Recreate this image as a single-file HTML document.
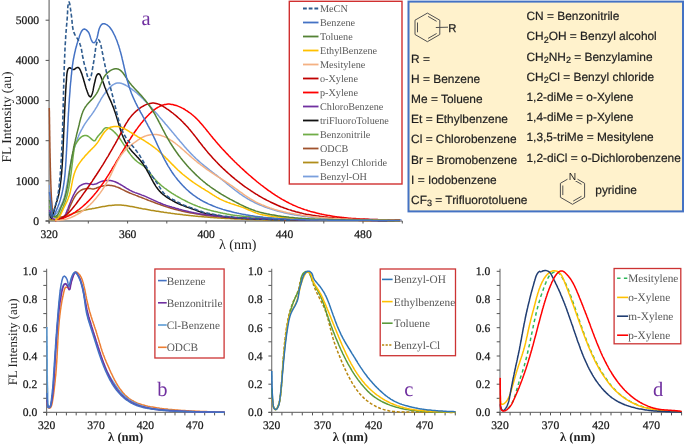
<!DOCTYPE html>
<html><head><meta charset="utf-8"><title>FL spectra</title>
<style>html,body{margin:0;padding:0;background:#fff;width:685px;height:445px;overflow:hidden;font-family:"Liberation Serif",serif}svg{display:block;filter:blur(0.3px)}text{text-rendering:geometricPrecision}</style>
</head><body>
<svg width="685" height="445" viewBox="0 0 685 445"><line x1="49.1" y1="0" x2="49.1" y2="223.5" stroke="#7a7a7a" stroke-width="1.3"/><line x1="45.6" y1="221.0" x2="402.3" y2="221.0" stroke="#7a7a7a" stroke-width="1.3"/><line x1="45.6" y1="221.0" x2="49.1" y2="221.0" stroke="#555" stroke-width="1"/><text x="39" y="224.8" text-anchor="end" font-size="11.6" fill="#1a1a1a" stroke="#1a1a1a" stroke-width="0.25" font-family="Liberation Serif, serif">0</text><line x1="45.6" y1="180.8" x2="49.1" y2="180.8" stroke="#555" stroke-width="1"/><text x="39" y="184.7" text-anchor="end" font-size="11.6" fill="#1a1a1a" stroke="#1a1a1a" stroke-width="0.25" font-family="Liberation Serif, serif">1000</text><line x1="45.6" y1="140.7" x2="49.1" y2="140.7" stroke="#555" stroke-width="1"/><text x="39" y="144.5" text-anchor="end" font-size="11.6" fill="#1a1a1a" stroke="#1a1a1a" stroke-width="0.25" font-family="Liberation Serif, serif">2000</text><line x1="45.6" y1="100.6" x2="49.1" y2="100.6" stroke="#555" stroke-width="1"/><text x="39" y="104.4" text-anchor="end" font-size="11.6" fill="#1a1a1a" stroke="#1a1a1a" stroke-width="0.25" font-family="Liberation Serif, serif">3000</text><line x1="45.6" y1="60.4" x2="49.1" y2="60.4" stroke="#555" stroke-width="1"/><text x="39" y="64.2" text-anchor="end" font-size="11.6" fill="#1a1a1a" stroke="#1a1a1a" stroke-width="0.25" font-family="Liberation Serif, serif">4000</text><line x1="45.6" y1="20.2" x2="49.1" y2="20.2" stroke="#555" stroke-width="1"/><text x="39" y="24.1" text-anchor="end" font-size="11.6" fill="#1a1a1a" stroke="#1a1a1a" stroke-width="0.25" font-family="Liberation Serif, serif">5000</text><line x1="49.1" y1="221.0" x2="49.1" y2="223.5" stroke="#555" stroke-width="1"/><line x1="88.3" y1="221.0" x2="88.3" y2="223.5" stroke="#555" stroke-width="1"/><line x1="127.6" y1="221.0" x2="127.6" y2="223.5" stroke="#555" stroke-width="1"/><line x1="166.8" y1="221.0" x2="166.8" y2="223.5" stroke="#555" stroke-width="1"/><line x1="206.1" y1="221.0" x2="206.1" y2="223.5" stroke="#555" stroke-width="1"/><line x1="245.3" y1="221.0" x2="245.3" y2="223.5" stroke="#555" stroke-width="1"/><line x1="284.5" y1="221.0" x2="284.5" y2="223.5" stroke="#555" stroke-width="1"/><line x1="323.8" y1="221.0" x2="323.8" y2="223.5" stroke="#555" stroke-width="1"/><line x1="363.0" y1="221.0" x2="363.0" y2="223.5" stroke="#555" stroke-width="1"/><line x1="402.3" y1="221.0" x2="402.3" y2="223.5" stroke="#555" stroke-width="1"/><text x="49.1" y="238" text-anchor="middle" font-size="11.6" fill="#1a1a1a" stroke="#1a1a1a" stroke-width="0.25" font-family="Liberation Serif, serif">320</text><text x="127.6" y="238" text-anchor="middle" font-size="11.6" fill="#1a1a1a" stroke="#1a1a1a" stroke-width="0.25" font-family="Liberation Serif, serif">360</text><text x="206.1" y="238" text-anchor="middle" font-size="11.6" fill="#1a1a1a" stroke="#1a1a1a" stroke-width="0.25" font-family="Liberation Serif, serif">400</text><text x="284.5" y="238" text-anchor="middle" font-size="11.6" fill="#1a1a1a" stroke="#1a1a1a" stroke-width="0.25" font-family="Liberation Serif, serif">440</text><text x="363.0" y="238" text-anchor="middle" font-size="11.6" fill="#1a1a1a" stroke="#1a1a1a" stroke-width="0.25" font-family="Liberation Serif, serif">480</text><text x="237.8" y="249" text-anchor="middle" font-size="14" fill="#222" font-family="Liberation Serif, serif">&#955; (nm)</text><text transform="translate(10.7,117) rotate(-90)" text-anchor="middle" font-size="13.5" fill="#222" font-family="Liberation Serif, serif">FL Intensity (au)</text><text x="146" y="24.7" text-anchor="middle" font-size="20.5" fill="#7030A0" font-family="Liberation Serif, serif">a</text><path d="M49.6 184.9 49.6 186.1 49.7 187.3 49.9 188.5 50.0 189.7 50.1 190.9 50.3 192.1 50.5 193.3 50.6 194.5 50.8 195.7 51.0 196.9 51.1 198.1 51.3 199.2 51.4 200.4 51.5 201.6 51.6 202.8 51.6 204.0 51.7 205.2 51.8 206.4 51.9 207.6 52.1 208.8 52.2 210.0 52.5 211.2 52.8 212.4 53.3 213.5 54.2 214.3 55.3 214.4 56.3 213.7 57.1 212.8 57.8 211.8 58.4 210.8 59.0 209.7 59.5 208.6 60.0 207.6 60.6 206.5 61.1 205.4 61.6 204.3 62.1 203.2 62.6 202.1 63.0 201.0 63.4 199.8 63.8 198.7 64.2 197.5 64.5 196.4 64.8 195.2 65.1 194.1 65.4 192.9 65.6 191.7 65.9 190.5 66.1 189.4 66.3 188.2 66.5 187.0 66.8 185.8 67.0 184.6 67.2 183.4 67.4 182.2 67.6 181.1 67.8 179.9 68.0 178.7 68.2 177.5 68.4 176.3 68.6 175.1 68.8 173.9 69.0 172.7 69.2 171.6 69.4 170.4 69.6 169.2 69.8 168.0 70.0 166.8 70.3 165.6 70.5 164.5 70.7 163.3 71.0 162.1 71.2 160.9 71.4 159.7 71.7 158.6 72.0 157.4 72.2 156.2 72.5 155.0 72.8 153.9 73.1 152.7 73.4 151.5 73.7 150.4 74.0 149.2 74.3 148.1 74.7 146.9 75.0 145.8 75.4 144.6 75.8 143.5 76.1 142.3 76.5 141.2 77.0 140.1 77.4 138.9 77.8 137.8 78.3 136.7 78.7 135.6 79.2 134.5 79.7 133.4 80.2 132.3 80.8 131.2 81.3 130.1 81.9 129.1 82.5 128.0 83.1 127.0 83.7 125.9 84.3 124.9 84.9 123.9 85.6 122.9 86.3 121.9 87.0 120.9 87.7 119.9 88.4 119.0 89.1 118.0 89.8 117.0 90.5 116.1 91.3 115.1 92.0 114.1 92.7 113.1 93.3 112.2 94.0 111.2 94.7 110.1 95.3 109.1 95.9 108.1 96.6 107.1 97.2 106.0 97.8 105.0 98.3 103.9 98.9 102.9 99.5 101.8 100.1 100.8 100.7 99.7 101.3 98.7 101.9 97.7 102.6 96.6 103.2 95.6 103.9 94.6 104.6 93.7 105.3 92.7 106.1 91.7 106.8 90.8 107.6 89.9 108.4 89.0 109.2 88.1 110.0 87.2 110.9 86.4 111.8 85.6 112.8 84.9 113.8 84.3 114.9 83.7 116.0 83.3 117.2 83.1 118.4 83.0 119.6 83.1 120.8 83.3 122.0 83.6 123.1 84.0 124.2 84.5 125.3 85.0 126.3 85.6 127.4 86.2 128.4 86.8 129.4 87.5 130.4 88.2 131.4 88.9 132.4 89.6 133.3 90.3 134.3 91.0 135.2 91.8 136.2 92.5 137.1 93.3 138.0 94.1 138.9 94.9 139.8 95.7 140.7 96.5 141.5 97.4 142.4 98.2 143.3 99.0 144.1 99.9 144.9 100.8 145.8 101.6 146.6 102.5 147.4 103.4 148.3 104.3 149.1 105.1 149.9 106.0 150.7 106.9 151.5 107.8 152.3 108.7 153.1 109.6 153.9 110.5 154.7 111.4 155.5 112.3 156.3 113.2 157.1 114.1 157.9 115.0 158.7 115.9 159.4 116.9 160.2 117.8 161.0 118.7 161.8 119.6 162.6 120.5 163.4 121.4 164.2 122.3 164.9 123.2 165.7 124.2 166.5 125.1 167.3 126.0 168.1 126.9 168.8 127.8 169.6 128.7 170.4 129.7 171.2 130.6 171.9 131.5 172.7 132.4 173.5 133.4 174.3 134.3 175.0 135.2 175.8 136.1 176.6 137.1 177.3 138.0 178.1 138.9 178.9 139.8 179.6 140.8 180.4 141.7 181.2 142.6 182.0 143.5 182.8 144.4 183.5 145.3 184.3 146.3 185.1 147.2 185.9 148.1 186.7 149.0 187.5 149.9 188.3 150.7 189.1 151.6 190.0 152.5 190.8 153.4 191.6 154.2 192.5 155.1 193.3 156.0 194.2 156.8 195.0 157.6 195.9 158.5 196.8 159.3 197.7 160.1 198.6 160.9 199.5 161.7 200.4 162.5 201.3 163.3 202.2 164.0 203.2 164.8 204.1 165.6 205.0 166.3 206.0 167.1 206.9 167.8 207.9 168.6 208.8 169.3 209.7 170.1 210.7 170.8 211.6 171.5 212.6 172.3 213.6 173.0 214.5 173.8 215.5 174.5 216.4 175.2 217.4 176.0 218.3 176.7 219.2 177.5 220.2 178.2 221.1 179.0 222.1 179.7 223.0 180.5 223.9 181.2 224.9 182.0 225.8 182.7 226.7 183.5 227.7 184.3 228.6 185.0 229.5 185.8 230.5 186.5 231.4 187.3 232.4 188.0 233.3 188.8 234.3 189.5 235.2 190.3 236.2 191.0 237.1 191.7 238.1 192.4 239.1 193.1 240.0 193.8 241.0 194.5 242.0 195.2 243.0 195.9 244.0 196.5 245.0 197.2 246.1 197.8 247.1 198.5 248.1 199.1 249.2 199.7 250.2 200.3 251.3 200.8 252.4 201.4 253.4 201.9 254.5 202.5 255.6 203.0 256.7 203.5 257.8 204.0 258.9 204.5 260.0 205.0 261.1 205.4 262.2 205.9 263.3 206.3 264.4 206.8 265.6 207.2 266.7 207.6 267.8 208.0 269.0 208.4 270.1 208.8 271.3 209.1 272.4 209.5 273.6 209.9 274.7 210.2 275.9 210.5 277.0 210.9 278.2 211.2 279.3 211.5 280.5 211.8 281.7 212.1 282.8 212.4 284.0 212.7 285.2 212.9 286.4 213.2 287.5 213.5 288.7 213.7 289.9 214.0 291.1 214.2 292.3 214.4 293.4 214.6 294.6 214.9 295.8 215.1 297.0 215.3 298.2 215.5 299.4 215.6 300.6 215.8 301.8 216.0 302.9 216.2 304.1 216.3 305.3 216.5 306.5 216.6 307.7 216.8 308.9 216.9 310.1 217.0 311.3 217.2 312.5 217.3 313.7 217.4 314.9 217.5 316.1 217.6 317.3 217.7 318.5 217.8 319.7 217.9 320.9 218.0 322.1 218.1 323.3 218.2 324.5 218.3 325.7 218.4 326.9 218.4 328.1 218.5 329.3 218.6 330.5 218.6 331.7 218.7 332.9 218.8 334.1 218.8 335.3 218.9 336.5 218.9 337.7 219.0 338.9 219.0 340.1 219.1 341.3 219.1 342.5 219.1 343.7 219.2 344.9 219.2 346.1 219.2 347.4 219.3 348.6 219.3 349.8 219.3 351.0 219.4 352.2 219.4 353.4 219.4 354.6 219.4 355.8 219.4 357.0 219.5 358.2 219.5 359.4 219.5 360.6 219.5 361.8 219.5 363.0 219.5 364.2 219.6 365.4 219.6 366.6 219.6 367.8 219.6 369.0 219.6 370.2 219.6 371.4 219.6 372.6 219.6 373.8 219.6 375.0 219.6 376.2 219.6 377.4 219.6 378.6 219.7 379.8 219.7 381.1 219.7 382.3 219.7 383.5 219.7 384.7 219.7 385.9 219.7 387.1 219.7 388.3 219.7 389.5 219.7 390.7 219.7 391.9 219.7 393.1 219.7 394.3 219.7 395.5 219.8 396.7 219.8 397.9 219.8 399.1 219.8 400.3 219.8 401.5 219.8" fill="none" stroke="#7A9FDD" stroke-width="1.5" stroke-linejoin="round"/><path d="M49.5 219.4 50.7 219.6 51.9 219.8 53.1 219.8 54.3 219.8 55.5 219.7 56.7 219.5 57.9 219.2 59.0 219.0 60.2 218.6 61.3 218.2 62.5 217.8 63.6 217.4 64.7 216.9 65.8 216.4 66.9 216.0 68.0 215.5 69.1 215.0 70.3 214.5 71.4 214.1 72.5 213.6 73.6 213.2 74.8 212.8 75.9 212.5 77.1 212.1 78.2 211.8 79.4 211.5 80.6 211.2 81.7 210.9 82.9 210.6 84.1 210.3 85.3 210.1 86.5 209.8 87.6 209.6 88.8 209.3 90.0 209.1 91.2 208.9 92.4 208.6 93.6 208.4 94.7 208.2 95.9 207.9 97.1 207.7 98.3 207.5 99.5 207.2 100.7 207.0 101.8 206.8 103.0 206.6 104.2 206.4 105.4 206.2 106.6 206.0 107.8 205.8 109.0 205.6 110.2 205.5 111.4 205.4 112.6 205.2 113.8 205.2 115.0 205.1 116.2 205.0 117.4 205.0 118.6 205.0 119.8 205.1 121.0 205.1 122.2 205.2 123.4 205.3 124.6 205.5 125.8 205.6 127.0 205.8 128.2 206.0 129.4 206.2 130.6 206.4 131.8 206.6 133.0 206.8 134.2 207.0 135.3 207.3 136.5 207.5 137.7 207.7 138.9 208.0 140.1 208.2 141.3 208.4 142.4 208.7 143.6 208.9 144.8 209.1 146.0 209.3 147.2 209.5 148.4 209.7 149.6 209.9 150.7 210.2 151.9 210.4 153.1 210.6 154.3 210.8 155.5 211.0 156.7 211.2 157.9 211.3 159.1 211.5 160.3 211.7 161.5 211.9 162.7 212.1 163.9 212.3 165.0 212.4 166.2 212.6 167.4 212.8 168.6 212.9 169.8 213.1 171.0 213.3 172.2 213.4 173.4 213.6 174.6 213.7 175.8 213.9 177.0 214.1 178.2 214.2 179.4 214.3 180.6 214.5 181.8 214.6 183.0 214.8 184.2 214.9 185.4 215.0 186.6 215.2 187.8 215.3 189.0 215.4 190.2 215.6 191.4 215.7 192.6 215.8 193.8 215.9 195.0 216.1 196.2 216.2 197.4 216.3 198.6 216.4 199.8 216.5 201.0 216.6 202.2 216.7 203.4 216.8 204.6 216.9 205.8 217.0 207.0 217.1 208.2 217.2 209.4 217.3 210.6 217.4 211.8 217.5 213.0 217.6 214.2 217.7 215.4 217.8 216.6 217.8 217.8 217.9 219.0 218.0 220.2 218.1 221.4 218.2 222.7 218.2 223.9 218.3 225.1 218.4 226.3 218.4 227.5 218.5 228.7 218.6 229.9 218.6 231.1 218.7 232.3 218.8 233.5 218.8 234.7 218.9 235.9 218.9 237.1 219.0 238.3 219.0 239.5 219.1 240.7 219.1 241.9 219.2 243.1 219.2 244.3 219.3 245.5 219.3 246.8 219.4 248.0 219.4 249.2 219.5 250.4 219.5 251.6 219.5 252.8 219.6 254.0 219.6 255.2 219.7 256.4 219.7 257.6 219.7 258.8 219.8 260.0 219.8 261.2 219.8 262.4 219.8 263.6 219.9 264.8 219.9 266.1 219.9 267.3 219.9 268.5 220.0 269.7 220.0 270.9 220.0 272.1 220.0 273.3 220.1 274.5 220.1 275.7 220.1 276.9 220.1 278.1 220.1 279.3 220.1 280.5 220.2 281.7 220.2 282.9 220.2 284.1 220.2 285.4 220.2 286.6 220.2 287.8 220.2 289.0 220.2 290.2 220.2 291.4 220.3 292.6 220.3 293.8 220.3 295.0 220.3 296.2 220.3 297.4 220.3 298.6 220.3 299.8 220.3 301.0 220.3 302.2 220.3 303.5 220.3 304.7 220.3 305.9 220.3 307.1 220.3 308.3 220.3 309.5 220.3 310.7 220.3 311.9 220.3 313.1 220.3 314.3 220.3 315.5 220.3 316.7 220.3 317.9 220.3 319.1 220.3 320.3 220.3 321.5 220.3 322.8 220.3 324.0 220.3 325.2 220.3 326.4 220.3 327.6 220.3 328.8 220.3 330.0 220.3 331.2 220.3 332.4 220.3 333.6 220.3 334.8 220.3 336.0 220.3 337.2 220.3 338.4 220.3 339.6 220.3 340.9 220.3 342.1 220.3 343.3 220.3 344.5 220.3 345.7 220.3 346.9 220.3 348.1 220.3 349.3 220.3 350.5 220.3 351.7 220.3 352.9 220.3 354.1 220.3 355.3 220.3 356.5 220.3 357.7 220.3 359.0 220.3 360.2 220.3 361.4 220.3 362.6 220.3 363.8 220.4 365.0 220.4 366.2 220.4 367.4 220.4 368.6 220.4 369.8 220.4 371.0 220.4 372.2 220.4 373.4 220.4 374.6 220.4 375.8 220.5 377.0 220.5 378.3 220.5 379.5 220.5 380.7 220.5 381.9 220.5 383.1 220.6 384.3 220.6 385.5 220.6 386.7 220.6 387.9 220.6 389.1 220.7 390.3 220.7 391.5 220.7 392.7 220.7 393.9 220.8 395.1 220.8 396.4 220.8 397.6 220.8 398.8 220.9 400.0 220.9" fill="none" stroke="#B08D1A" stroke-width="1.5" stroke-linejoin="round"/><path d="M49.3 108.0 49.3 109.2 49.3 110.4 49.4 111.6 49.4 112.8 49.4 114.0 49.4 115.2 49.4 116.4 49.5 117.6 49.5 118.8 49.5 120.0 49.5 121.2 49.5 122.4 49.5 123.6 49.6 124.9 49.6 126.1 49.6 127.3 49.6 128.5 49.6 129.7 49.7 130.9 49.7 132.1 49.7 133.3 49.7 134.5 49.7 135.7 49.8 136.9 49.8 138.1 49.8 139.3 49.8 140.5 49.8 141.7 49.9 142.9 49.9 144.1 49.9 145.3 49.9 146.5 49.9 147.7 50.0 148.9 50.0 150.1 50.0 151.3 50.0 152.5 50.1 153.7 50.1 155.0 50.1 156.2 50.1 157.4 50.2 158.6 50.2 159.8 50.2 161.0 50.2 162.2 50.3 163.4 50.3 164.6 50.3 165.8 50.3 167.0 50.4 168.2 50.4 169.4 50.4 170.6 50.5 171.8 50.5 173.0 50.5 174.2 50.6 175.4 50.6 176.6 50.6 177.8 50.7 179.0 50.7 180.2 50.8 181.4 50.8 182.6 50.8 183.8 50.9 185.0 50.9 186.2 51.0 187.5 51.0 188.7 51.1 189.9 51.1 191.1 51.2 192.3 51.2 193.5 51.3 194.7 51.3 195.9 51.4 197.1 51.5 198.3 51.5 199.5 51.6 200.7 51.7 201.9 51.8 203.1 51.9 204.3 52.0 205.5 52.1 206.7 52.2 207.9 52.4 209.1 52.6 210.3 52.7 211.5 52.9 212.6 53.2 213.8 53.6 215.0 54.1 216.0 54.9 216.9 56.0 217.4 57.2 217.5 58.4 217.4 59.6 217.2 60.8 217.0 61.9 216.8 63.1 216.5 64.2 216.1 65.3 215.5 66.2 214.7 66.9 213.7 67.4 212.6 67.9 211.5 68.4 210.4 68.8 209.3 69.2 208.2 69.7 207.1 70.2 206.0 70.7 204.9 71.2 203.8 71.7 202.7 72.2 201.6 72.7 200.5 73.3 199.4 73.8 198.4 74.4 197.3 75.1 196.3 75.7 195.3 76.5 194.3 77.2 193.4 78.1 192.5 79.0 191.7 79.9 191.0 80.9 190.3 82.0 189.8 83.1 189.3 84.3 189.0 85.4 188.7 86.6 188.5 87.8 188.5 89.0 188.5 90.2 188.6 91.4 188.8 92.6 188.9 93.8 188.9 95.0 188.6 96.1 188.2 97.2 187.7 98.4 187.3 99.5 186.9 100.7 186.6 101.8 186.3 103.0 186.0 104.2 185.8 105.4 185.6 106.6 185.4 107.8 185.3 109.0 185.3 110.2 185.4 111.4 185.5 112.6 185.7 113.7 185.9 114.9 186.3 116.0 186.7 117.2 187.1 118.3 187.5 119.4 188.0 120.5 188.5 121.5 189.1 122.6 189.6 123.7 190.1 124.8 190.7 125.9 191.2 127.0 191.7 128.1 192.2 129.2 192.7 130.3 193.2 131.4 193.6 132.5 194.1 133.6 194.5 134.7 194.9 135.9 195.4 137.0 195.8 138.1 196.2 139.2 196.7 140.4 197.1 141.5 197.5 142.6 198.0 143.7 198.4 144.8 198.9 146.0 199.3 147.1 199.7 148.2 200.2 149.3 200.6 150.5 201.0 151.6 201.5 152.7 201.9 153.8 202.3 155.0 202.8 156.1 203.2 157.2 203.6 158.3 204.0 159.5 204.4 160.6 204.8 161.7 205.2 162.9 205.6 164.0 206.0 165.2 206.4 166.3 206.8 167.5 207.1 168.6 207.5 169.8 207.8 170.9 208.2 172.1 208.5 173.2 208.8 174.4 209.2 175.6 209.5 176.7 209.8 177.9 210.1 179.1 210.4 180.2 210.6 181.4 210.9 182.6 211.2 183.7 211.5 184.9 211.7 186.1 212.0 187.3 212.2 188.5 212.4 189.6 212.7 190.8 212.9 192.0 213.1 193.2 213.3 194.4 213.6 195.6 213.8 196.8 214.0 197.9 214.1 199.1 214.3 200.3 214.5 201.5 214.7 202.7 214.9 203.9 215.0 205.1 215.2 206.3 215.4 207.5 215.5 208.7 215.7 209.9 215.8 211.1 215.9 212.3 216.1 213.5 216.2 214.7 216.3 215.9 216.5 217.1 216.6 218.3 216.7 219.5 216.8 220.7 216.9 221.9 217.0 223.0 217.1 224.2 217.2 225.4 217.3 226.7 217.4 227.9 217.5 229.1 217.6 230.3 217.7 231.5 217.8 232.7 217.9 233.9 218.0 235.1 218.0 236.3 218.1 237.5 218.2 238.7 218.3 239.9 218.3 241.1 218.4 242.3 218.5 243.5 218.5 244.7 218.6 245.9 218.6 247.1 218.7 248.3 218.7 249.5 218.8 250.7 218.8 251.9 218.9 253.1 218.9 254.3 219.0 255.5 219.0 256.7 219.1 257.9 219.1 259.1 219.2 260.3 219.2 261.5 219.2 262.7 219.3 263.9 219.3 265.1 219.3 266.3 219.4 267.5 219.4 268.7 219.4 269.9 219.4 271.2 219.5 272.4 219.5 273.6 219.5 274.8 219.6 276.0 219.6 277.2 219.6 278.4 219.6 279.6 219.6 280.8 219.7 282.0 219.7 283.2 219.7 284.4 219.7 285.6 219.7 286.8 219.8 288.0 219.8 289.2 219.8 290.4 219.8 291.6 219.8 292.8 219.8 294.0 219.9 295.2 219.9 296.4 219.9 297.6 219.9 298.8 219.9 300.1 219.9 301.3 219.9 302.5 220.0 303.7 220.0 304.9 220.0 306.1 220.0 307.3 220.0 308.5 220.0 309.7 220.0 310.9 220.0 312.1 220.1 313.3 220.1 314.5 220.1 315.7 220.1 316.9 220.1 318.1 220.1 319.3 220.1 320.5 220.1 321.7 220.1 322.9 220.1 324.1 220.2 325.3 220.2 326.5 220.2 327.7 220.2 329.0 220.2 330.2 220.2 331.4 220.2 332.6 220.2 333.8 220.2 335.0 220.2 336.2 220.2 337.4 220.2 338.6 220.2 339.8 220.3 341.0 220.3 342.2 220.3 343.4 220.3 344.6 220.3 345.8 220.3 347.0 220.3 348.2 220.3 349.4 220.3 350.6 220.3 351.8 220.3 353.0 220.3 354.2 220.3 355.4 220.3 356.6 220.3 357.9 220.3 359.1 220.4 360.3 220.4 361.5 220.4 362.7 220.4 363.9 220.4 365.1 220.4 366.3 220.4 367.5 220.4 368.7 220.4 369.9 220.4 371.1 220.4 372.3 220.4 373.5 220.4 374.7 220.4 375.9 220.4 377.1 220.5 378.3 220.5 379.5 220.5 380.7 220.5 381.9 220.5 383.1 220.5 384.3 220.5 385.5 220.5 386.8 220.5 388.0 220.5 389.2 220.5 390.4 220.5 391.6 220.5 392.8 220.6 394.0 220.6 395.2 220.6 396.4 220.6 397.6 220.6 398.8 220.6 400.0 220.6" fill="none" stroke="#A0522D" stroke-width="1.5" stroke-linejoin="round"/><path d="M49.5 205.9 49.8 207.1 50.2 208.2 50.7 209.4 51.1 210.5 51.5 211.6 51.9 212.8 52.2 213.9 52.5 215.1 53.0 216.2 53.8 217.1 54.9 217.2 56.1 216.9 57.3 216.6 58.4 216.2 59.4 215.5 60.0 214.4 60.5 213.3 60.9 212.2 61.3 211.1 61.8 210.0 62.3 208.9 62.8 207.8 63.3 206.7 63.7 205.6 64.2 204.4 64.6 203.3 65.0 202.2 65.4 201.0 65.8 199.9 66.1 198.7 66.4 197.6 66.8 196.4 67.1 195.3 67.4 194.1 67.7 192.9 67.9 191.8 68.2 190.6 68.4 189.4 68.7 188.2 68.9 187.0 69.1 185.9 69.3 184.7 69.5 183.5 69.7 182.3 69.9 181.1 70.1 179.9 70.3 178.7 70.5 177.5 70.6 176.3 70.8 175.2 71.0 174.0 71.1 172.8 71.3 171.6 71.4 170.4 71.6 169.2 71.7 168.0 71.9 166.8 72.0 165.6 72.2 164.4 72.3 163.2 72.5 162.0 72.6 160.8 72.7 159.6 72.9 158.4 73.0 157.2 73.2 156.0 73.3 154.8 73.5 153.6 73.6 152.5 73.8 151.3 73.9 150.1 74.1 148.9 74.3 147.7 74.6 146.5 75.0 145.4 75.5 144.3 76.2 143.3 76.8 142.3 77.5 141.2 78.2 140.3 78.9 139.3 79.7 138.4 80.6 137.6 81.5 136.8 82.5 136.2 83.6 135.7 84.8 135.4 86.0 135.5 87.1 135.8 88.2 136.3 89.2 137.0 90.1 137.8 91.0 138.6 91.9 139.4 92.8 140.2 93.8 140.8 94.9 140.7 95.7 139.8 96.3 138.7 96.9 137.7 97.6 136.7 98.3 135.8 99.1 134.9 99.9 134.0 100.8 133.1 101.6 132.2 102.3 131.3 103.0 130.3 103.7 129.3 104.5 128.4 105.6 127.8 106.8 127.7 108.0 127.9 109.1 128.3 110.2 128.8 111.2 129.4 112.2 130.1 113.1 130.9 114.0 131.7 114.9 132.6 115.7 133.4 116.5 134.3 117.3 135.2 118.1 136.2 118.8 137.1 119.5 138.1 120.2 139.1 120.9 140.1 121.6 141.1 122.2 142.1 122.9 143.1 123.5 144.1 124.2 145.1 124.8 146.1 125.5 147.1 126.1 148.2 126.8 149.2 127.4 150.2 128.1 151.2 128.8 152.2 129.5 153.2 130.2 154.1 130.9 155.1 131.6 156.0 132.4 157.0 133.2 157.9 134.0 158.7 134.9 159.6 135.8 160.4 136.7 161.2 137.6 162.0 138.6 162.7 139.6 163.4 140.6 164.0 141.6 164.7 142.6 165.3 143.6 166.0 144.5 166.8 145.4 167.6 146.2 168.5 147.0 169.4 147.8 170.3 148.5 171.3 149.2 172.2 150.0 173.2 150.7 174.1 151.4 175.1 152.2 176.0 152.9 177.0 153.7 177.9 154.5 178.8 155.3 179.7 156.1 180.6 157.0 181.4 157.8 182.3 158.7 183.1 159.6 183.9 160.5 184.7 161.4 185.5 162.3 186.3 163.3 187.0 164.2 187.8 165.2 188.5 166.2 189.2 167.1 189.9 168.1 190.6 169.1 191.3 170.1 192.0 171.1 192.6 172.1 193.3 173.1 193.9 174.2 194.6 175.2 195.2 176.2 195.8 177.3 196.4 178.3 197.0 179.4 197.6 180.4 198.2 181.5 198.8 182.5 199.3 183.6 199.9 184.7 200.4 185.7 201.0 186.8 201.5 187.9 202.1 189.0 202.6 190.1 203.1 191.2 203.6 192.3 204.1 193.4 204.6 194.5 205.0 195.6 205.5 196.7 205.9 197.8 206.4 199.0 206.8 200.1 207.2 201.2 207.6 202.4 208.0 203.5 208.4 204.7 208.7 205.8 209.1 207.0 209.4 208.1 209.8 209.3 210.1 210.4 210.4 211.6 210.7 212.8 211.0 214.0 211.3 215.1 211.5 216.3 211.8 217.5 212.1 218.6 212.4 219.8 212.6 221.0 212.9 222.2 213.1 223.4 213.4 224.5 213.6 225.7 213.8 226.9 214.1 228.1 214.3 229.3 214.5 230.5 214.7 231.6 214.9 232.8 215.1 234.0 215.2 235.2 215.4 236.4 215.5 237.6 215.7 238.8 215.8 240.0 216.0 241.2 216.1 242.4 216.2 243.6 216.3 244.8 216.4 246.0 216.5 247.2 216.6 248.4 216.7 249.6 216.8 250.8 216.9 252.0 217.0 253.2 217.0 254.4 217.1 255.6 217.2 256.8 217.3 258.0 217.3 259.2 217.4 260.4 217.5 261.6 217.6 262.8 217.6 264.0 217.7 265.2 217.8 266.4 217.9 267.6 217.9 268.8 218.0 270.0 218.1 271.2 218.2 272.4 218.2 273.6 218.3 274.8 218.4 276.0 218.4 277.2 218.5 278.4 218.6 279.6 218.6 280.8 218.7 282.0 218.8 283.2 218.8 284.4 218.9 285.6 218.9 286.8 219.0 288.1 219.1 289.3 219.1 290.5 219.2 291.7 219.2 292.9 219.2 294.1 219.3 295.3 219.3 296.5 219.4 297.7 219.4 298.9 219.4 300.1 219.5 301.3 219.5 302.5 219.5 303.7 219.6 304.9 219.6 306.1 219.6 307.3 219.6 308.5 219.7 309.7 219.7 310.9 219.7 312.1 219.7 313.3 219.7 314.5 219.8 315.7 219.8 316.9 219.8 318.1 219.8 319.3 219.8 320.5 219.8 321.8 219.8 323.0 219.8 324.2 219.9 325.4 219.9 326.6 219.9 327.8 219.9 329.0 219.9 330.2 219.9 331.4 219.9 332.6 219.9 333.8 219.9 335.0 219.9 336.2 219.9 337.4 219.9 338.6 219.9 339.8 220.0 341.0 220.0 342.2 220.0 343.4 220.0 344.6 220.0 345.8 220.0 347.0 220.0 348.2 220.0 349.4 220.0 350.6 220.0 351.8 220.0 353.1 220.1 354.3 220.1 355.5 220.1 356.7 220.1 357.9 220.1 359.1 220.1 360.3 220.1 361.5 220.1 362.7 220.2 363.9 220.2 365.1 220.2 366.3 220.2 367.5 220.2 368.7 220.2 369.9 220.2 371.1 220.2 372.3 220.3 373.5 220.3 374.7 220.3 375.9 220.3 377.1 220.3 378.3 220.3 379.5 220.3 380.7 220.3 381.9 220.3 383.1 220.4 384.4 220.4 385.6 220.4 386.8 220.4 388.0 220.4 389.2 220.4 390.4 220.4 391.6 220.4 392.8 220.4 394.0 220.4 395.2 220.5 396.4 220.5 397.6 220.5 398.8 220.5 400.0 220.5" fill="none" stroke="#70AD47" stroke-width="1.5" stroke-linejoin="round"/><path d="M49.5 214.0 50.0 215.1 50.4 216.3 50.8 217.4 51.3 218.5 52.0 218.2 52.4 217.1 52.7 215.9 53.0 214.8 53.3 213.6 53.7 212.4 54.0 211.3 54.3 210.1 54.6 208.9 54.9 207.8 55.2 206.6 55.5 205.5 55.9 204.3 56.2 203.2 56.6 202.0 57.0 200.9 57.3 199.7 57.7 198.6 58.0 197.4 58.3 196.2 58.6 195.1 58.9 193.9 59.1 192.7 59.3 191.5 59.5 190.3 59.7 189.2 59.9 188.0 60.1 186.8 60.2 185.6 60.4 184.4 60.5 183.2 60.7 182.0 60.8 180.8 61.0 179.6 61.1 178.4 61.2 177.2 61.3 176.0 61.4 174.8 61.6 173.6 61.7 172.4 61.8 171.2 61.8 170.0 61.9 168.8 62.0 167.6 62.1 166.4 62.2 165.2 62.3 164.0 62.3 162.8 62.4 161.6 62.5 160.4 62.6 159.2 62.6 158.0 62.7 156.8 62.7 155.6 62.8 154.4 62.9 153.2 62.9 152.0 63.0 150.8 63.0 149.6 63.1 148.4 63.1 147.2 63.2 146.0 63.2 144.8 63.3 143.6 63.3 142.4 63.4 141.2 63.4 140.0 63.5 138.8 63.5 137.6 63.6 136.4 63.6 135.1 63.7 133.9 63.7 132.7 63.8 131.5 63.8 130.3 63.9 129.1 63.9 127.9 64.0 126.7 64.0 125.5 64.1 124.3 64.1 123.1 64.2 121.9 64.2 120.7 64.3 119.5 64.3 118.3 64.4 117.1 64.5 115.9 64.5 114.7 64.6 113.5 64.6 112.3 64.7 111.1 64.7 109.9 64.8 108.7 64.8 107.5 64.9 106.3 65.0 105.1 65.0 103.9 65.1 102.7 65.1 101.5 65.2 100.3 65.3 99.1 65.3 97.9 65.4 96.7 65.5 95.5 65.5 94.3 65.6 93.1 65.7 91.8 65.7 90.6 65.8 89.4 65.9 88.2 66.0 87.0 66.0 85.8 66.1 84.6 66.2 83.4 66.3 82.2 66.4 81.0 66.5 79.8 66.5 78.6 66.6 77.4 66.7 76.2 66.8 75.0 66.9 73.8 67.1 72.6 67.3 71.5 67.6 70.3 68.0 69.2 68.7 68.1 69.7 67.7 70.8 68.2 71.8 68.9 72.8 69.5 74.0 69.5 75.0 68.9 75.9 68.1 77.0 67.6 78.1 67.5 79.1 68.1 79.8 69.1 80.3 70.2 80.8 71.3 81.2 72.4 81.7 73.6 82.1 74.7 82.4 75.8 82.8 77.0 83.2 78.2 83.5 79.3 83.8 80.5 84.1 81.6 84.5 82.8 84.8 83.9 85.1 85.1 85.5 86.3 85.8 87.4 86.2 88.5 86.6 89.7 87.0 90.8 87.4 92.0 87.8 93.1 88.2 94.2 88.7 95.3 89.4 96.3 90.4 96.9 91.2 96.1 91.7 95.0 92.1 93.9 92.5 92.7 92.8 91.6 93.1 90.4 93.3 89.2 93.5 88.0 93.7 86.8 94.0 85.6 94.2 84.5 94.5 83.3 94.8 82.1 95.1 81.0 95.3 79.8 95.6 78.6 95.9 77.4 96.3 76.3 96.8 75.2 97.5 74.2 98.5 73.7 99.6 74.2 100.2 75.2 100.7 76.3 101.2 77.4 101.6 78.5 102.1 79.6 102.5 80.7 103.0 81.9 103.4 83.0 103.8 84.1 104.2 85.2 104.6 86.4 105.0 87.5 105.5 88.6 105.9 89.8 106.3 90.9 106.8 92.0 107.2 93.1 107.7 94.2 108.1 95.3 108.6 96.4 109.1 97.5 109.6 98.6 110.1 99.7 110.6 100.8 111.1 101.9 111.6 103.0 112.0 104.1 112.5 105.3 112.9 106.4 113.4 107.5 113.8 108.6 114.2 109.8 114.6 110.9 115.0 112.0 115.4 113.2 115.8 114.3 116.1 115.5 116.5 116.6 116.8 117.8 117.2 118.9 117.5 120.1 117.9 121.2 118.2 122.4 118.6 123.5 118.9 124.7 119.3 125.8 119.6 127.0 120.0 128.1 120.3 129.3 120.7 130.4 121.1 131.6 121.5 132.7 121.9 133.9 122.3 135.0 122.8 136.1 123.2 137.2 123.7 138.3 124.2 139.4 124.7 140.5 125.2 141.6 125.8 142.6 126.4 143.7 127.0 144.7 127.7 145.7 128.3 146.7 129.1 147.7 129.8 148.7 130.6 149.6 131.3 150.5 132.1 151.4 132.9 152.3 133.8 153.2 134.6 154.1 135.4 155.0 136.2 155.8 137.0 156.7 137.9 157.6 138.7 158.5 139.5 159.4 140.2 160.3 141.0 161.2 141.7 162.2 142.5 163.2 143.2 164.1 143.8 165.1 144.5 166.1 145.1 167.2 145.8 168.2 146.4 169.2 147.0 170.3 147.5 171.3 148.1 172.4 148.7 173.4 149.3 174.5 149.8 175.6 150.4 176.6 151.0 177.7 151.5 178.8 152.1 179.8 152.7 180.9 153.2 181.9 153.8 183.0 154.5 184.0 155.1 185.0 155.7 186.1 156.4 187.1 157.1 188.0 157.8 189.0 158.6 189.9 159.3 190.9 160.2 191.8 161.0 192.6 161.9 193.5 162.8 194.3 163.7 195.0 164.7 195.7 165.6 196.4 166.6 197.1 167.7 197.8 168.7 198.4 169.7 199.0 170.7 199.6 171.8 200.2 172.8 200.8 173.9 201.4 175.0 202.0 176.0 202.5 177.1 203.0 178.2 203.6 179.3 204.1 180.4 204.5 181.5 205.0 182.6 205.4 183.8 205.9 184.9 206.3 186.0 206.7 187.1 207.1 188.3 207.5 189.4 207.9 190.5 208.3 191.7 208.7 192.8 209.1 194.0 209.5 195.1 209.9 196.2 210.3 197.3 210.8 198.5 211.2 199.6 211.6 200.7 212.0 201.9 212.4 203.0 212.8 204.2 213.1 205.3 213.4 206.5 213.7 207.7 213.9 208.9 214.1 210.1 214.3 211.3 214.4 212.5 214.6 213.7 214.8 214.8 215.0 216.0 215.2 217.2 215.4 218.4 215.6 219.6 215.9 220.7 216.1 221.9 216.4 223.1 216.6 224.3 216.8 225.5 216.9 226.7 217.1 227.9 217.2 229.1 217.3 230.3 217.4 231.5 217.5 232.7 217.6 233.9 217.7 235.1 217.7 236.3 217.8 237.5 217.9 238.7 218.0 239.9 218.0 241.1 218.1 242.3 218.2 243.5 218.2 244.7 218.3 245.9 218.4 247.1 218.4 248.3 218.5 249.5 218.6 250.7 218.6 251.9 218.7 253.1 218.7 254.3 218.8 255.5 218.9 256.7 218.9 257.9 218.9 259.1 219.0 260.3 219.0 261.5 219.1 262.7 219.1 264.0 219.2 265.2 219.2 266.4 219.2 267.6 219.3 268.8 219.3 270.0 219.3 271.2 219.4 272.4 219.4 273.6 219.4 274.8 219.5 276.0 219.5 277.2 219.5 278.4 219.5 279.6 219.5 280.8 219.6 282.0 219.6 283.2 219.6 284.4 219.6 285.6 219.6 286.8 219.7 288.0 219.7 289.2 219.7 290.4 219.7 291.6 219.7 292.8 219.7 294.0 219.7 295.3 219.7 296.5 219.8 297.7 219.8 298.9 219.8 300.1 219.8 301.3 219.8 302.5 219.8 303.7 219.8 304.9 219.8 306.1 219.8 307.3 219.8 308.5 219.8 309.7 219.8 310.9 219.8 312.1 219.8 313.3 219.9 314.5 219.9 315.7 219.9 316.9 219.9 318.1 219.9 319.3 219.9 320.5 219.9 321.7 219.9 322.9 219.9 324.1 219.9 325.4 219.9 326.6 219.9 327.8 219.9 329.0 219.9 330.2 219.9 331.4 219.9 332.6 220.0 333.8 220.0 335.0 220.0 336.2 220.0 337.4 220.0 338.6 220.0 339.8 220.0 341.0 220.0 342.2 220.0 343.4 220.0 344.6 220.1 345.8 220.1 347.0 220.1 348.2 220.1 349.4 220.1 350.6 220.1 351.8 220.1 353.0 220.1 354.2 220.1 355.5 220.2 356.7 220.2 357.9 220.2 359.1 220.2 360.3 220.2 361.5 220.2 362.7 220.2 363.9 220.2 365.1 220.2 366.3 220.3 367.5 220.3 368.7 220.3 369.9 220.3 371.1 220.3 372.3 220.3 373.5 220.3 374.7 220.3 375.9 220.3 377.1 220.3 378.3 220.4 379.5 220.4 380.7 220.4 381.9 220.4 383.1 220.4 384.3 220.4 385.6 220.4 386.8 220.4 388.0 220.4 389.2 220.4 390.4 220.4 391.6 220.4 392.8 220.4 394.0 220.4 395.2 220.5 396.4 220.5 397.6 220.5 398.8 220.5 400.0 220.5" fill="none" stroke="#111111" stroke-width="1.5" stroke-linejoin="round"/><path d="M49.4 210.1 50.0 211.2 50.4 212.3 50.7 213.5 51.0 214.6 51.3 215.8 51.7 216.9 52.3 218.0 53.1 218.8 54.3 219.2 55.5 219.2 56.7 219.2 57.9 219.2 59.1 219.1 60.3 218.9 61.5 218.6 62.5 218.1 63.5 217.3 64.3 216.4 64.9 215.4 65.5 214.3 66.0 213.3 66.5 212.1 66.9 211.0 67.4 209.9 67.9 208.8 68.3 207.7 68.7 206.6 69.2 205.4 69.6 204.3 70.0 203.2 70.5 202.1 70.9 200.9 71.3 199.8 71.8 198.7 72.3 197.6 72.8 196.5 73.3 195.4 73.8 194.3 74.4 193.3 74.9 192.2 75.6 191.2 76.2 190.1 76.9 189.1 77.6 188.2 78.4 187.3 79.3 186.4 80.2 185.7 81.2 185.1 82.3 184.5 83.4 184.1 84.6 183.8 85.8 183.6 87.0 183.6 88.2 183.7 89.4 183.9 90.6 184.1 91.8 184.3 93.0 184.4 94.2 184.3 95.4 184.1 96.5 183.7 97.6 183.2 98.6 182.6 99.7 182.1 100.8 181.6 102.0 181.2 103.2 180.9 104.3 180.7 105.5 180.5 106.7 180.4 107.9 180.4 109.1 180.5 110.3 180.6 111.5 180.8 112.7 181.1 113.8 181.4 115.0 181.8 116.1 182.3 117.2 182.8 118.3 183.3 119.3 183.9 120.4 184.5 121.4 185.1 122.4 185.7 123.5 186.4 124.5 187.0 125.5 187.6 126.6 188.3 127.6 188.9 128.6 189.5 129.7 190.1 130.7 190.6 131.8 191.2 132.9 191.7 134.0 192.1 135.1 192.6 136.3 193.0 137.4 193.4 138.5 193.8 139.7 194.2 140.8 194.6 141.9 195.1 143.1 195.5 144.2 195.9 145.3 196.4 146.4 196.9 147.5 197.4 148.6 197.9 149.7 198.4 150.8 198.9 151.9 199.4 153.0 199.9 154.1 200.4 155.2 200.9 156.3 201.4 157.4 201.9 158.5 202.4 159.6 202.8 160.7 203.3 161.8 203.7 162.9 204.2 164.1 204.6 165.2 205.0 166.3 205.4 167.5 205.8 168.6 206.1 169.8 206.5 170.9 206.8 172.1 207.2 173.3 207.5 174.4 207.8 175.6 208.2 176.7 208.5 177.9 208.8 179.1 209.2 180.2 209.5 181.4 209.8 182.5 210.1 183.7 210.4 184.9 210.7 186.0 211.0 187.2 211.3 188.4 211.6 189.5 211.9 190.7 212.1 191.9 212.4 193.1 212.6 194.3 212.9 195.4 213.1 196.6 213.3 197.8 213.5 199.0 213.7 200.2 213.9 201.4 214.1 202.6 214.3 203.8 214.5 205.0 214.6 206.2 214.8 207.4 214.9 208.6 215.1 209.7 215.2 210.9 215.4 212.1 215.5 213.3 215.6 214.5 215.8 215.7 215.9 216.9 216.0 218.1 216.1 219.3 216.3 220.5 216.4 221.7 216.5 222.9 216.6 224.1 216.7 225.3 216.8 226.5 216.9 227.7 217.0 228.9 217.1 230.1 217.2 231.3 217.3 232.5 217.3 233.7 217.4 235.0 217.5 236.2 217.6 237.4 217.7 238.6 217.7 239.8 217.8 241.0 217.9 242.2 217.9 243.4 218.0 244.6 218.1 245.8 218.1 247.0 218.2 248.2 218.2 249.4 218.3 250.6 218.4 251.8 218.4 253.0 218.5 254.2 218.5 255.4 218.6 256.6 218.6 257.8 218.7 259.0 218.7 260.2 218.8 261.4 218.8 262.6 218.8 263.8 218.9 265.0 218.9 266.2 219.0 267.5 219.0 268.7 219.0 269.9 219.1 271.1 219.1 272.3 219.1 273.5 219.2 274.7 219.2 275.9 219.2 277.1 219.3 278.3 219.3 279.5 219.3 280.7 219.4 281.9 219.4 283.1 219.4 284.3 219.4 285.5 219.5 286.7 219.5 287.9 219.5 289.1 219.5 290.3 219.6 291.5 219.6 292.8 219.6 294.0 219.6 295.2 219.6 296.4 219.7 297.6 219.7 298.8 219.7 300.0 219.7 301.2 219.7 302.4 219.8 303.6 219.8 304.8 219.8 306.0 219.8 307.2 219.8 308.4 219.8 309.6 219.8 310.8 219.9 312.0 219.9 313.2 219.9 314.4 219.9 315.6 219.9 316.9 219.9 318.1 219.9 319.3 220.0 320.5 220.0 321.7 220.0 322.9 220.0 324.1 220.0 325.3 220.0 326.5 220.0 327.7 220.0 328.9 220.0 330.1 220.1 331.3 220.1 332.5 220.1 333.7 220.1 334.9 220.1 336.1 220.1 337.3 220.1 338.5 220.1 339.7 220.1 341.0 220.1 342.2 220.2 343.4 220.2 344.6 220.2 345.8 220.2 347.0 220.2 348.2 220.2 349.4 220.2 350.6 220.2 351.8 220.2 353.0 220.2 354.2 220.2 355.4 220.2 356.6 220.3 357.8 220.3 359.0 220.3 360.2 220.3 361.4 220.3 362.6 220.3 363.8 220.3 365.1 220.3 366.3 220.3 367.5 220.3 368.7 220.3 369.9 220.3 371.1 220.4 372.3 220.4 373.5 220.4 374.7 220.4 375.9 220.4 377.1 220.4 378.3 220.4 379.5 220.4 380.7 220.4 381.9 220.4 383.1 220.5 384.3 220.5 385.5 220.5 386.7 220.5 387.9 220.5 389.2 220.5 390.4 220.5 391.6 220.5 392.8 220.5 394.0 220.6 395.2 220.6 396.4 220.6 397.6 220.6 398.8 220.6 400.0 220.6" fill="none" stroke="#7030A0" stroke-width="1.5" stroke-linejoin="round"/><path d="M55.1 220.7 56.3 220.4 57.4 220.1 58.6 219.8 59.8 219.5 60.9 219.1 62.0 218.7 63.2 218.3 64.3 217.9 65.4 217.4 66.5 216.9 67.6 216.4 68.7 215.9 69.7 215.3 70.8 214.7 71.9 214.2 72.9 213.5 73.9 212.9 74.9 212.3 75.9 211.6 76.9 210.9 77.9 210.2 78.9 209.5 79.8 208.8 80.8 208.0 81.7 207.3 82.6 206.5 83.5 205.7 84.4 204.9 85.3 204.1 86.2 203.3 87.1 202.4 87.9 201.6 88.8 200.7 89.6 199.9 90.4 199.0 91.3 198.1 92.1 197.2 92.9 196.3 93.7 195.4 94.4 194.5 95.2 193.6 96.0 192.6 96.7 191.7 97.5 190.7 98.2 189.8 98.9 188.8 99.7 187.9 100.4 186.9 101.1 185.9 101.8 184.9 102.5 183.9 103.2 183.0 103.8 182.0 104.5 181.0 105.2 180.0 105.8 179.0 106.5 177.9 107.1 176.9 107.8 175.9 108.4 174.9 109.1 173.9 109.7 172.8 110.3 171.8 111.0 170.8 111.6 169.8 112.2 168.7 112.8 167.7 113.4 166.7 114.1 165.6 114.7 164.6 115.3 163.6 115.9 162.5 116.5 161.5 117.1 160.5 117.7 159.4 118.4 158.4 119.0 157.3 119.6 156.3 120.2 155.3 120.8 154.2 121.4 153.2 122.1 152.2 122.7 151.1 123.3 150.1 123.9 149.1 124.5 148.1 125.2 147.0 125.8 146.0 126.4 145.0 127.1 143.9 127.7 142.9 128.3 141.9 129.0 140.9 129.6 139.9 130.3 138.8 130.9 137.8 131.6 136.8 132.2 135.8 132.9 134.8 133.5 133.8 134.2 132.8 134.9 131.8 135.6 130.8 136.3 129.8 137.0 128.9 137.7 127.9 138.4 126.9 139.1 125.9 139.9 125.0 140.6 124.0 141.3 123.1 142.1 122.2 142.9 121.2 143.6 120.3 144.4 119.4 145.2 118.5 146.0 117.6 146.8 116.7 147.7 115.8 148.5 115.0 149.3 114.1 150.2 113.3 151.1 112.4 152.0 111.6 152.9 110.9 153.8 110.1 154.8 109.4 155.8 108.7 156.8 108.0 157.8 107.4 158.9 106.8 159.9 106.2 161.0 105.7 162.1 105.3 163.3 104.9 164.5 104.6 165.6 104.4 166.8 104.2 168.0 104.1 169.2 104.1 170.4 104.2 171.6 104.4 172.8 104.6 174.0 104.9 175.1 105.2 176.3 105.5 177.4 105.9 178.5 106.4 179.7 106.9 180.8 107.4 181.8 107.9 182.9 108.4 184.0 109.0 185.0 109.6 186.0 110.3 187.0 110.9 188.0 111.6 189.0 112.3 190.0 113.0 191.0 113.7 191.9 114.5 192.8 115.2 193.7 116.0 194.6 116.8 195.5 117.6 196.4 118.5 197.2 119.3 198.1 120.2 198.9 121.1 199.7 122.0 200.5 122.9 201.3 123.8 202.1 124.7 202.9 125.6 203.6 126.5 204.4 127.4 205.2 128.4 205.9 129.3 206.7 130.2 207.4 131.2 208.2 132.1 209.0 133.1 209.7 134.0 210.5 134.9 211.2 135.9 212.0 136.8 212.7 137.7 213.5 138.7 214.3 139.6 215.1 140.5 215.8 141.4 216.6 142.3 217.4 143.3 218.2 144.2 219.0 145.1 219.8 146.0 220.6 146.9 221.4 147.8 222.2 148.7 223.0 149.5 223.8 150.4 224.7 151.3 225.5 152.2 226.3 153.1 227.1 153.9 228.0 154.8 228.8 155.7 229.6 156.5 230.5 157.4 231.3 158.3 232.2 159.1 233.0 160.0 233.9 160.8 234.7 161.7 235.6 162.5 236.5 163.3 237.3 164.2 238.2 165.0 239.1 165.8 240.0 166.7 240.8 167.5 241.7 168.3 242.6 169.1 243.5 169.9 244.4 170.8 245.3 171.6 246.2 172.4 247.1 173.2 248.0 174.0 248.9 174.8 249.8 175.5 250.7 176.3 251.6 177.1 252.5 177.9 253.4 178.7 254.4 179.5 255.3 180.2 256.2 181.0 257.1 181.8 258.1 182.5 259.0 183.3 260.0 184.0 260.9 184.8 261.9 185.5 262.8 186.2 263.8 187.0 264.7 187.7 265.7 188.4 266.7 189.1 267.6 189.8 268.6 190.6 269.6 191.2 270.6 191.9 271.6 192.6 272.6 193.3 273.6 194.0 274.6 194.6 275.6 195.3 276.6 195.9 277.6 196.6 278.6 197.2 279.7 197.8 280.7 198.5 281.7 199.1 282.8 199.7 283.8 200.3 284.9 200.8 285.9 201.4 287.0 202.0 288.1 202.5 289.2 203.1 290.2 203.6 291.3 204.1 292.4 204.7 293.5 205.2 294.6 205.6 295.7 206.1 296.8 206.6 297.9 207.1 299.0 207.5 300.2 207.9 301.3 208.4 302.4 208.8 303.6 209.2 304.7 209.6 305.8 209.9 307.0 210.3 308.1 210.7 309.3 211.0 310.4 211.4 311.6 211.7 312.8 212.0 313.9 212.3 315.1 212.6 316.3 212.9 317.4 213.2 318.6 213.5 319.8 213.8 320.9 214.0 322.1 214.3 323.3 214.5 324.5 214.8 325.7 215.0 326.9 215.2 328.0 215.4 329.2 215.6 330.4 215.8 331.6 216.0 332.8 216.2 334.0 216.4 335.2 216.6 336.4 216.7 337.6 216.9 338.8 217.0 340.0 217.2 341.1 217.3 342.3 217.5 343.5 217.6 344.7 217.7 345.9 217.8 347.1 217.9 348.3 218.1 349.5 218.2 350.7 218.3 351.9 218.4 353.1 218.4 354.3 218.5 355.5 218.6 356.7 218.7 357.9 218.8 359.1 218.8 360.3 218.9 361.5 219.0 362.8 219.0 364.0 219.1 365.2 219.2 366.4 219.2 367.6 219.3 368.8 219.3 370.0 219.4 371.2 219.4 372.4 219.5 373.6 219.5 374.8 219.5 376.0 219.6 377.2 219.6 378.4 219.7 379.6 219.7 380.8 219.7 382.0 219.8 383.2 219.8 384.4 219.8 385.6 219.9 386.8 219.9 388.0 220.0 389.2 220.0 390.4 220.0 391.6 220.1 392.8 220.1 394.0 220.2 395.2 220.2 396.4 220.2 397.7 220.3 398.9 220.3 400.1 220.4" fill="none" stroke="#FF0000" stroke-width="1.5" stroke-linejoin="round"/><path d="M54.9 220.4 56.1 220.2 57.3 219.8 58.4 219.5 59.6 219.0 60.7 218.5 61.7 218.0 62.8 217.4 63.8 216.7 64.8 216.0 65.7 215.3 66.7 214.5 67.6 213.7 68.4 212.9 69.3 212.0 70.1 211.1 70.9 210.3 71.7 209.3 72.5 208.4 73.2 207.5 74.0 206.5 74.7 205.6 75.5 204.6 76.2 203.7 76.9 202.7 77.6 201.7 78.3 200.7 79.1 199.8 79.8 198.8 80.5 197.8 81.2 196.9 81.9 195.9 82.6 194.9 83.3 193.9 84.0 192.9 84.7 192.0 85.4 191.0 86.1 190.0 86.8 189.0 87.5 188.0 88.2 187.0 88.9 186.0 89.6 185.0 90.2 184.0 90.9 183.0 91.6 182.1 92.3 181.1 92.9 180.0 93.6 179.0 94.3 178.0 94.9 177.0 95.6 176.0 96.3 175.0 96.9 174.0 97.6 173.0 98.2 172.0 98.9 171.0 99.5 170.0 100.2 168.9 100.8 167.9 101.5 166.9 102.1 165.9 102.8 164.8 103.4 163.8 104.0 162.8 104.6 161.8 105.3 160.7 105.9 159.7 106.5 158.7 107.1 157.6 107.8 156.6 108.4 155.6 109.0 154.5 109.6 153.5 110.2 152.4 110.8 151.4 111.4 150.4 112.0 149.3 112.6 148.3 113.2 147.2 113.8 146.2 114.4 145.1 115.0 144.1 115.6 143.0 116.2 142.0 116.8 140.9 117.3 139.8 117.9 138.8 118.5 137.7 119.1 136.7 119.6 135.6 120.2 134.5 120.8 133.5 121.3 132.4 121.9 131.3 122.4 130.3 123.0 129.2 123.6 128.1 124.1 127.1 124.7 126.0 125.3 125.0 125.9 123.9 126.5 122.9 127.2 121.8 127.8 120.8 128.5 119.8 129.2 118.8 129.9 117.9 130.7 116.9 131.4 116.0 132.2 115.1 133.0 114.2 133.9 113.3 134.7 112.5 135.6 111.6 136.5 110.8 137.4 110.1 138.4 109.3 139.3 108.6 140.3 107.9 141.3 107.2 142.3 106.6 143.4 106.0 144.4 105.4 145.5 104.9 146.6 104.4 147.8 104.0 148.9 103.7 150.1 103.4 151.3 103.2 152.5 103.1 153.7 103.1 154.9 103.2 156.1 103.4 157.3 103.7 158.4 104.1 159.5 104.5 160.6 105.0 161.7 105.6 162.8 106.2 163.8 106.8 164.8 107.4 165.8 108.1 166.8 108.8 167.8 109.4 168.8 110.1 169.8 110.8 170.8 111.6 171.7 112.3 172.7 113.0 173.6 113.8 174.5 114.5 175.5 115.3 176.4 116.1 177.3 116.9 178.2 117.7 179.1 118.5 180.0 119.3 180.9 120.1 181.7 121.0 182.6 121.8 183.4 122.7 184.3 123.6 185.1 124.4 185.9 125.3 186.8 126.2 187.6 127.1 188.4 128.0 189.1 128.9 189.9 129.8 190.7 130.8 191.5 131.7 192.2 132.6 193.0 133.6 193.7 134.5 194.5 135.5 195.2 136.4 196.0 137.4 196.7 138.3 197.4 139.3 198.2 140.2 198.9 141.2 199.6 142.2 200.4 143.1 201.1 144.1 201.9 145.0 202.6 146.0 203.3 146.9 204.1 147.8 204.9 148.8 205.6 149.7 206.4 150.6 207.2 151.6 207.9 152.5 208.7 153.4 209.5 154.3 210.3 155.2 211.1 156.1 211.9 157.0 212.7 157.9 213.5 158.8 214.4 159.7 215.2 160.6 216.0 161.5 216.9 162.3 217.7 163.2 218.5 164.1 219.4 164.9 220.2 165.8 221.1 166.6 222.0 167.5 222.8 168.3 223.7 169.1 224.6 169.9 225.5 170.8 226.4 171.6 227.3 172.4 228.2 173.2 229.1 174.0 230.0 174.8 230.9 175.6 231.8 176.4 232.7 177.2 233.6 177.9 234.6 178.7 235.5 179.5 236.4 180.2 237.4 181.0 238.3 181.7 239.3 182.4 240.2 183.2 241.2 183.9 242.2 184.6 243.1 185.4 244.1 186.1 245.1 186.8 246.1 187.5 247.1 188.2 248.1 188.8 249.1 189.5 250.1 190.2 251.1 190.9 252.1 191.5 253.1 192.2 254.1 192.8 255.1 193.5 256.1 194.1 257.2 194.7 258.2 195.4 259.2 196.0 260.3 196.6 261.3 197.2 262.4 197.8 263.4 198.4 264.5 199.0 265.6 199.5 266.6 200.1 267.7 200.6 268.8 201.2 269.8 201.7 270.9 202.3 272.0 202.8 273.1 203.3 274.2 203.8 275.3 204.3 276.4 204.8 277.5 205.3 278.6 205.7 279.7 206.2 280.8 206.7 282.0 207.1 283.1 207.5 284.2 208.0 285.4 208.4 286.5 208.8 287.6 209.2 288.8 209.6 289.9 209.9 291.1 210.3 292.2 210.7 293.4 211.0 294.5 211.3 295.7 211.7 296.9 212.0 298.0 212.3 299.2 212.6 300.4 212.9 301.6 213.1 302.7 213.4 303.9 213.7 305.1 213.9 306.3 214.2 307.5 214.4 308.6 214.6 309.8 214.8 311.0 215.0 312.2 215.2 313.4 215.4 314.6 215.6 315.8 215.8 317.0 216.0 318.2 216.1 319.4 216.3 320.6 216.5 321.8 216.6 323.0 216.7 324.2 216.9 325.4 217.0 326.6 217.1 327.8 217.3 329.0 217.4 330.2 217.5 331.4 217.6 332.6 217.7 333.8 217.8 335.0 217.9 336.2 218.0 337.4 218.1 338.6 218.2 339.8 218.3 341.0 218.3 342.2 218.4 343.4 218.5 344.6 218.6 345.8 218.6 347.0 218.7 348.2 218.8 349.4 218.8 350.6 218.9 351.8 219.0 353.0 219.0 354.2 219.1 355.4 219.1 356.6 219.2 357.8 219.3 359.0 219.3 360.3 219.4 361.5 219.4 362.7 219.5 363.9 219.5 365.1 219.6 366.3 219.6 367.5 219.6 368.7 219.7 369.9 219.7 371.1 219.8 372.3 219.8 373.5 219.8 374.7 219.9 375.9 219.9 377.1 219.9 378.3 220.0 379.5 220.0 380.7 220.0 382.0 220.1 383.2 220.1 384.4 220.1 385.6 220.1 386.8 220.2 388.0 220.2 389.2 220.2 390.4 220.2 391.6 220.2 392.8 220.2 394.0 220.3 395.2 220.3 396.4 220.3 397.6 220.3 398.8 220.3 400.0 220.3" fill="none" stroke="#C00000" stroke-width="1.5" stroke-linejoin="round"/><path d="M55.1 220.5 56.3 220.5 57.5 220.4 58.7 220.4 59.9 220.3 61.1 220.1 62.2 219.9 63.4 219.7 64.6 219.5 65.8 219.2 66.9 218.9 68.1 218.5 69.2 218.1 70.4 217.7 71.5 217.3 72.6 216.8 73.7 216.3 74.8 215.8 75.8 215.2 76.9 214.6 77.9 214.0 79.0 213.4 80.0 212.8 81.0 212.1 82.0 211.4 82.9 210.7 83.9 210.0 84.8 209.2 85.8 208.5 86.7 207.7 87.6 206.9 88.5 206.1 89.4 205.3 90.3 204.5 91.1 203.6 92.0 202.8 92.8 201.9 93.6 201.0 94.4 200.1 95.2 199.2 96.0 198.3 96.7 197.4 97.5 196.4 98.2 195.5 99.0 194.5 99.7 193.6 100.4 192.6 101.1 191.6 101.8 190.6 102.5 189.6 103.1 188.6 103.8 187.6 104.4 186.6 105.0 185.5 105.6 184.5 106.3 183.5 106.8 182.4 107.4 181.4 108.0 180.3 108.6 179.3 109.1 178.2 109.7 177.1 110.2 176.0 110.8 175.0 111.3 173.9 111.8 172.8 112.3 171.7 112.8 170.6 113.3 169.5 113.8 168.4 114.3 167.3 114.9 166.3 115.4 165.2 115.9 164.1 116.5 163.0 117.0 161.9 117.6 160.9 118.2 159.8 118.8 158.8 119.4 157.8 120.0 156.7 120.7 155.7 121.4 154.8 122.1 153.8 122.9 152.9 123.6 151.9 124.5 151.0 125.3 150.2 126.1 149.3 127.0 148.5 127.9 147.7 128.8 146.9 129.8 146.1 130.7 145.4 131.6 144.6 132.6 143.9 133.6 143.2 134.5 142.5 135.5 141.8 136.5 141.1 137.5 140.4 138.5 139.7 139.5 139.1 140.5 138.4 141.5 137.8 142.6 137.3 143.7 136.7 144.8 136.3 145.9 135.9 147.1 135.5 148.2 135.2 149.4 134.9 150.6 134.7 151.8 134.6 153.0 134.5 154.2 134.5 155.4 134.5 156.6 134.6 157.8 134.8 159.0 135.0 160.1 135.3 161.3 135.6 162.4 136.0 163.6 136.4 164.7 136.9 165.8 137.4 166.9 137.9 167.9 138.4 169.0 139.0 170.0 139.7 171.0 140.3 172.0 140.9 173.0 141.6 174.0 142.3 175.0 143.0 175.9 143.8 176.9 144.5 177.8 145.3 178.8 146.0 179.7 146.8 180.6 147.6 181.5 148.4 182.4 149.2 183.3 150.0 184.2 150.8 185.1 151.6 186.0 152.4 186.9 153.2 187.8 154.0 188.7 154.8 189.6 155.6 190.5 156.4 191.4 157.2 192.3 158.0 193.2 158.7 194.1 159.5 195.1 160.3 196.0 161.0 196.9 161.8 197.9 162.6 198.8 163.3 199.8 164.0 200.7 164.8 201.7 165.5 202.6 166.2 203.6 166.9 204.6 167.7 205.6 168.4 206.5 169.1 207.5 169.8 208.5 170.4 209.5 171.1 210.5 171.8 211.5 172.5 212.5 173.1 213.5 173.8 214.5 174.5 215.5 175.1 216.5 175.8 217.5 176.4 218.5 177.1 219.6 177.7 220.6 178.4 221.6 179.0 222.6 179.7 223.6 180.3 224.6 181.0 225.6 181.6 226.6 182.3 227.6 183.0 228.6 183.6 229.6 184.3 230.6 185.0 231.6 185.7 232.6 186.4 233.6 187.1 234.6 187.8 235.5 188.5 236.5 189.2 237.5 189.9 238.5 190.6 239.4 191.3 240.4 192.0 241.4 192.7 242.4 193.4 243.3 194.1 244.3 194.8 245.3 195.5 246.3 196.2 247.3 196.8 248.3 197.5 249.3 198.1 250.4 198.8 251.4 199.4 252.4 200.0 253.5 200.6 254.5 201.2 255.6 201.8 256.6 202.3 257.7 202.9 258.8 203.4 259.9 203.9 261.0 204.4 262.1 204.9 263.2 205.3 264.3 205.8 265.4 206.3 266.6 206.7 267.7 207.1 268.8 207.5 269.9 207.9 271.1 208.3 272.2 208.7 273.4 209.0 274.5 209.4 275.7 209.7 276.8 210.1 278.0 210.4 279.2 210.7 280.3 211.0 281.5 211.3 282.7 211.6 283.8 211.9 285.0 212.1 286.2 212.4 287.4 212.7 288.5 212.9 289.7 213.1 290.9 213.4 292.1 213.6 293.3 213.8 294.4 214.0 295.6 214.2 296.8 214.4 298.0 214.6 299.2 214.8 300.4 215.0 301.6 215.2 302.8 215.4 304.0 215.5 305.1 215.7 306.3 215.9 307.5 216.0 308.7 216.2 309.9 216.3 311.1 216.5 312.3 216.6 313.5 216.7 314.7 216.9 315.9 217.0 317.1 217.1 318.3 217.2 319.5 217.4 320.7 217.5 321.9 217.6 323.1 217.7 324.3 217.8 325.5 217.9 326.7 218.0 327.9 218.1 329.1 218.2 330.3 218.2 331.5 218.3 332.7 218.4 333.9 218.5 335.1 218.6 336.3 218.6 337.5 218.7 338.7 218.8 339.9 218.8 341.1 218.9 342.3 218.9 343.5 219.0 344.7 219.0 345.9 219.1 347.1 219.1 348.3 219.2 349.5 219.2 350.7 219.3 351.9 219.3 353.1 219.4 354.3 219.4 355.5 219.4 356.7 219.5 357.9 219.5 359.1 219.5 360.3 219.6 361.5 219.6 362.8 219.6 364.0 219.7 365.2 219.7 366.4 219.7 367.6 219.8 368.8 219.8 370.0 219.8 371.2 219.8 372.4 219.9 373.6 219.9 374.8 219.9 376.0 219.9 377.2 220.0 378.4 220.0 379.6 220.0 380.8 220.0 382.0 220.0 383.2 220.1 384.4 220.1 385.6 220.1 386.8 220.1 388.0 220.2 389.2 220.2 390.4 220.2 391.6 220.3 392.8 220.3 394.0 220.3 395.2 220.4 396.4 220.4 397.6 220.4 398.8 220.5 400.1 220.5" fill="none" stroke="#F4B183" stroke-width="1.5" stroke-linejoin="round"/><path d="M55.2 220.0 56.3 219.4 57.3 218.7 58.2 218.0 59.0 217.1 59.7 216.1 60.4 215.1 61.0 214.0 61.5 212.9 62.0 211.8 62.5 210.7 63.0 209.6 63.5 208.5 64.0 207.5 64.5 206.4 65.1 205.3 65.6 204.2 66.1 203.1 66.6 202.1 67.2 201.0 67.6 199.9 68.1 198.8 68.5 197.6 68.9 196.5 69.3 195.4 69.7 194.2 70.0 193.0 70.3 191.9 70.5 190.7 70.8 189.5 71.0 188.3 71.3 187.2 71.5 186.0 71.7 184.8 71.9 183.6 72.2 182.4 72.4 181.2 72.6 180.1 72.9 178.9 73.2 177.7 73.5 176.5 73.8 175.4 74.1 174.2 74.5 173.1 74.9 171.9 75.3 170.8 75.8 169.7 76.3 168.6 76.8 167.5 77.4 166.5 78.0 165.4 78.6 164.4 79.3 163.4 80.0 162.4 80.7 161.4 81.4 160.5 82.1 159.5 82.9 158.6 83.7 157.7 84.5 156.7 85.2 155.8 86.1 154.9 86.9 154.1 87.7 153.2 88.5 152.3 89.4 151.4 90.2 150.6 91.0 149.7 91.9 148.9 92.7 148.0 93.6 147.2 94.4 146.3 95.2 145.4 96.0 144.5 96.8 143.6 97.5 142.6 98.2 141.6 98.8 140.6 99.5 139.6 100.1 138.5 100.7 137.5 101.4 136.5 102.0 135.5 102.7 134.5 103.4 133.5 104.1 132.5 104.8 131.6 105.7 130.7 106.5 129.8 107.4 129.1 108.4 128.4 109.5 127.8 110.6 127.3 111.7 126.9 112.9 126.7 114.1 126.5 115.3 126.4 116.5 126.4 117.7 126.5 118.9 126.7 120.1 126.9 121.2 127.3 122.3 127.7 123.4 128.2 124.5 128.7 125.6 129.3 126.6 129.9 127.6 130.5 128.7 131.1 129.7 131.8 130.7 132.4 131.7 133.0 132.8 133.7 133.8 134.3 134.8 134.9 135.9 135.5 136.9 136.1 137.9 136.8 139.0 137.4 140.0 138.0 141.0 138.6 142.1 139.3 143.1 139.9 144.1 140.5 145.1 141.2 146.1 141.8 147.1 142.5 148.2 143.1 149.2 143.8 150.2 144.5 151.1 145.2 152.1 145.9 153.1 146.6 154.1 147.3 155.0 148.0 156.0 148.8 156.9 149.5 157.8 150.3 158.7 151.1 159.6 151.9 160.5 152.7 161.4 153.5 162.3 154.3 163.2 155.2 164.0 156.0 164.9 156.8 165.7 157.7 166.6 158.6 167.4 159.4 168.3 160.3 169.1 161.1 170.0 162.0 170.8 162.9 171.6 163.7 172.5 164.6 173.3 165.4 174.2 166.3 175.0 167.1 175.9 168.0 176.7 168.8 177.6 169.7 178.5 170.5 179.4 171.3 180.3 172.1 181.2 172.9 182.1 173.7 183.0 174.5 183.9 175.2 184.9 176.0 185.8 176.7 186.8 177.5 187.7 178.2 188.7 179.0 189.6 179.7 190.6 180.4 191.6 181.1 192.6 181.8 193.5 182.5 194.5 183.2 195.5 183.8 196.5 184.5 197.5 185.2 198.6 185.8 199.6 186.5 200.6 187.1 201.6 187.8 202.6 188.4 203.7 189.0 204.7 189.6 205.7 190.3 206.7 190.9 207.8 191.5 208.8 192.2 209.8 192.8 210.8 193.5 211.8 194.1 212.8 194.8 213.9 195.4 214.9 196.1 215.9 196.7 216.9 197.3 218.0 197.9 219.0 198.5 220.1 199.1 221.2 199.6 222.3 200.1 223.4 200.6 224.5 201.1 225.6 201.5 226.7 202.0 227.8 202.4 229.0 202.8 230.1 203.2 231.2 203.6 232.4 204.0 233.5 204.3 234.7 204.7 235.8 205.1 237.0 205.5 238.1 205.8 239.2 206.2 240.4 206.6 241.5 207.0 242.7 207.4 243.8 207.9 244.9 208.3 246.0 208.8 247.1 209.2 248.2 209.7 249.3 210.2 250.4 210.6 251.6 211.1 252.7 211.6 253.8 212.1 254.9 212.5 256.0 212.9 257.2 213.3 258.3 213.7 259.5 214.1 260.6 214.4 261.8 214.6 263.0 214.9 264.1 215.1 265.3 215.3 266.5 215.5 267.7 215.7 268.9 215.9 270.1 216.1 271.3 216.2 272.5 216.4 273.7 216.5 274.9 216.7 276.1 216.8 277.3 216.9 278.5 217.1 279.7 217.2 280.9 217.3 282.1 217.4 283.3 217.5 284.5 217.7 285.7 217.8 286.9 217.9 288.1 218.0 289.3 218.1 290.5 218.2 291.7 218.3 292.9 218.4 294.1 218.4 295.3 218.5 296.5 218.6 297.7 218.7 298.9 218.8 300.1 218.8 301.3 218.9 302.5 219.0 303.7 219.0 304.9 219.1 306.1 219.2 307.3 219.2 308.5 219.3 309.7 219.3 310.9 219.4 312.1 219.4 313.3 219.5 314.5 219.5 315.7 219.6 316.9 219.6 318.1 219.6 319.3 219.7 320.5 219.7 321.7 219.7 322.9 219.8 324.1 219.8 325.3 219.8 326.5 219.9 327.7 219.9 328.9 219.9 330.1 219.9 331.4 219.9 332.6 220.0 333.8 220.0 335.0 220.0 336.2 220.0 337.4 220.0 338.6 220.0 339.8 220.0 341.0 220.1 342.2 220.1 343.4 220.1 344.6 220.1 345.8 220.1 347.0 220.1 348.2 220.1 349.4 220.1 350.6 220.1 351.8 220.1 353.0 220.1 354.2 220.1 355.4 220.1 356.6 220.1 357.8 220.1 359.0 220.1 360.3 220.2 361.5 220.2 362.7 220.2 363.9 220.2 365.1 220.2 366.3 220.2 367.5 220.2 368.7 220.2 369.9 220.2 371.1 220.2 372.3 220.2 373.5 220.2 374.7 220.2 375.9 220.2 377.1 220.2 378.3 220.2 379.5 220.3 380.7 220.3 381.9 220.3 383.1 220.3 384.3 220.3 385.5 220.3 386.7 220.3 387.9 220.4 389.2 220.4 390.4 220.4 391.6 220.4 392.8 220.4 394.0 220.5 395.2 220.5 396.4 220.5 397.6 220.6 398.8 220.6 400.0 220.6" fill="none" stroke="#FFC000" stroke-width="1.5" stroke-linejoin="round"/><path d="M49.4 200.0 49.8 201.1 50.1 202.3 50.3 203.5 50.6 204.7 50.8 205.9 51.0 207.0 51.2 208.2 51.4 209.4 51.6 210.6 51.8 211.8 52.1 213.0 52.5 214.1 53.0 215.2 53.9 216.0 55.0 216.3 56.2 216.0 57.2 215.4 57.9 214.5 58.5 213.4 59.0 212.3 59.4 211.2 59.9 210.1 60.3 208.9 60.8 207.8 61.3 206.7 61.8 205.6 62.3 204.5 62.8 203.4 63.2 202.3 63.7 201.2 64.1 200.1 64.4 198.9 64.8 197.8 65.2 196.6 65.5 195.5 65.8 194.3 66.1 193.1 66.3 191.9 66.6 190.8 66.8 189.6 67.1 188.4 67.3 187.2 67.5 186.0 67.7 184.9 67.9 183.7 68.1 182.5 68.2 181.3 68.4 180.1 68.6 178.9 68.7 177.7 68.9 176.5 69.0 175.3 69.2 174.1 69.4 172.9 69.5 171.7 69.7 170.5 69.9 169.3 70.0 168.2 70.2 167.0 70.4 165.8 70.6 164.6 70.8 163.4 71.0 162.2 71.2 161.0 71.4 159.8 71.6 158.6 71.8 157.5 72.0 156.3 72.2 155.1 72.5 153.9 72.7 152.7 72.9 151.5 73.2 150.4 73.4 149.2 73.6 148.0 73.9 146.8 74.1 145.6 74.4 144.5 74.6 143.3 74.9 142.1 75.2 140.9 75.4 139.8 75.7 138.6 76.0 137.4 76.3 136.2 76.5 135.1 76.8 133.9 77.1 132.7 77.4 131.6 77.7 130.4 78.0 129.2 78.3 128.1 78.6 126.9 78.9 125.7 79.2 124.5 79.4 123.4 79.7 122.2 80.0 121.0 80.3 119.9 80.6 118.7 80.9 117.5 81.3 116.4 81.6 115.2 82.0 114.1 82.4 113.0 82.8 111.8 83.3 110.7 83.8 109.6 84.4 108.6 85.0 107.5 85.7 106.5 86.4 105.6 87.1 104.6 87.9 103.7 88.7 102.8 89.5 101.9 90.3 101.0 91.2 100.1 92.0 99.3 92.8 98.4 93.6 97.5 94.4 96.6 95.1 95.6 95.8 94.6 96.5 93.6 97.1 92.6 97.7 91.6 98.2 90.5 98.7 89.4 99.2 88.3 99.7 87.2 100.1 86.0 100.5 84.9 101.0 83.8 101.4 82.7 101.9 81.6 102.4 80.4 102.9 79.4 103.4 78.3 104.0 77.2 104.6 76.2 105.3 75.2 106.1 74.3 106.9 73.4 107.8 72.5 108.7 71.8 109.6 71.1 110.7 70.4 111.7 69.9 112.8 69.4 114.0 69.0 115.2 68.8 116.4 68.7 117.6 68.9 118.7 69.3 119.8 69.9 120.7 70.6 121.6 71.4 122.4 72.3 123.2 73.3 123.9 74.2 124.6 75.2 125.2 76.2 125.9 77.2 126.5 78.2 127.2 79.3 127.8 80.3 128.5 81.2 129.3 82.2 130.0 83.2 130.8 84.1 131.5 85.0 132.3 85.9 133.1 86.8 133.9 87.7 134.7 88.6 135.6 89.5 136.4 90.4 137.2 91.2 138.1 92.1 138.9 93.0 139.7 93.9 140.5 94.7 141.3 95.6 142.1 96.5 142.9 97.4 143.7 98.4 144.5 99.3 145.2 100.2 146.0 101.2 146.7 102.1 147.5 103.1 148.2 104.0 148.9 105.0 149.6 106.0 150.3 107.0 151.0 108.0 151.6 109.0 152.3 110.0 152.9 111.0 153.5 112.0 154.2 113.1 154.8 114.1 155.4 115.2 155.9 116.2 156.5 117.3 157.1 118.3 157.7 119.4 158.2 120.5 158.8 121.5 159.3 122.6 159.9 123.7 160.4 124.7 161.0 125.8 161.5 126.9 162.1 127.9 162.6 129.0 163.2 130.1 163.8 131.2 164.3 132.2 164.9 133.3 165.4 134.4 166.0 135.4 166.6 136.5 167.2 137.5 167.8 138.6 168.4 139.6 169.0 140.6 169.6 141.7 170.2 142.7 170.9 143.7 171.5 144.8 172.2 145.8 172.8 146.8 173.5 147.8 174.1 148.8 174.8 149.8 175.5 150.8 176.2 151.8 176.9 152.7 177.6 153.7 178.3 154.7 179.0 155.7 179.8 156.6 180.5 157.6 181.2 158.5 182.0 159.5 182.7 160.4 183.5 161.3 184.3 162.3 185.1 163.2 185.8 164.1 186.6 165.0 187.4 165.9 188.2 166.8 189.0 167.7 189.9 168.6 190.7 169.5 191.5 170.3 192.4 171.2 193.2 172.0 194.1 172.9 194.9 173.7 195.8 174.6 196.6 175.4 197.5 176.2 198.4 177.0 199.3 177.9 200.2 178.7 201.1 179.5 202.0 180.2 202.9 181.0 203.9 181.8 204.8 182.5 205.7 183.3 206.7 184.1 207.6 184.8 208.6 185.5 209.6 186.2 210.5 187.0 211.5 187.7 212.5 188.4 213.5 189.0 214.5 189.7 215.5 190.4 216.5 191.1 217.5 191.7 218.5 192.4 219.5 193.0 220.5 193.6 221.6 194.3 222.6 194.9 223.6 195.5 224.7 196.1 225.7 196.7 226.8 197.3 227.8 197.9 228.9 198.5 229.9 199.1 231.0 199.6 232.1 200.2 233.1 200.8 234.2 201.3 235.3 201.9 236.3 202.4 237.4 203.0 238.5 203.5 239.6 204.1 240.6 204.6 241.7 205.1 242.8 205.6 243.9 206.2 245.0 206.7 246.1 207.2 247.2 207.6 248.3 208.1 249.4 208.6 250.5 209.0 251.6 209.5 252.8 209.9 253.9 210.3 255.0 210.7 256.2 211.1 257.3 211.4 258.5 211.8 259.6 212.1 260.8 212.4 262.0 212.7 263.2 213.0 264.3 213.3 265.5 213.5 266.7 213.8 267.9 214.0 269.0 214.2 270.2 214.5 271.4 214.7 272.6 214.9 273.8 215.1 275.0 215.3 276.2 215.5 277.3 215.7 278.5 215.9 279.7 216.0 280.9 216.2 282.1 216.4 283.3 216.5 284.5 216.7 285.7 216.8 286.9 217.0 288.1 217.1 289.3 217.3 290.5 217.4 291.7 217.5 292.9 217.6 294.1 217.7 295.3 217.9 296.5 218.0 297.7 218.1 298.9 218.2 300.1 218.3 301.3 218.3 302.5 218.4 303.7 218.5 304.9 218.6 306.1 218.7 307.3 218.7 308.5 218.8 309.7 218.9 310.9 218.9 312.1 219.0 313.3 219.1 314.5 219.1 315.7 219.2 316.9 219.2 318.1 219.3 319.3 219.3 320.5 219.3 321.7 219.4 322.9 219.4 324.1 219.4 325.3 219.5 326.5 219.5 327.8 219.5 329.0 219.6 330.2 219.6 331.4 219.6 332.6 219.6 333.8 219.7 335.0 219.7 336.2 219.7 337.4 219.7 338.6 219.8 339.8 219.8 341.0 219.8 342.2 219.8 343.4 219.8 344.6 219.8 345.8 219.9 347.0 219.9 348.2 219.9 349.4 219.9 350.6 219.9 351.8 219.9 353.0 219.9 354.2 220.0 355.5 220.0 356.7 220.0 357.9 220.0 359.1 220.0 360.3 220.0 361.5 220.0 362.7 220.0 363.9 220.1 365.1 220.1 366.3 220.1 367.5 220.1 368.7 220.1 369.9 220.1 371.1 220.1 372.3 220.1 373.5 220.2 374.7 220.2 375.9 220.2 377.1 220.2 378.3 220.2 379.5 220.2 380.7 220.2 381.9 220.2 383.2 220.3 384.4 220.3 385.6 220.3 386.8 220.3 388.0 220.3 389.2 220.3 390.4 220.4 391.6 220.4 392.8 220.4 394.0 220.4 395.2 220.4 396.4 220.5 397.6 220.5 398.8 220.5 400.0 220.5" fill="none" stroke="#548235" stroke-width="1.5" stroke-linejoin="round"/><path d="M49.4 192.1 49.6 193.3 49.8 194.5 50.0 195.7 50.2 196.9 50.3 198.1 50.4 199.3 50.6 200.5 50.7 201.7 50.8 202.9 50.9 204.1 51.0 205.3 51.1 206.5 51.3 207.7 51.4 208.9 51.6 210.0 51.7 211.2 51.9 212.4 52.2 213.6 52.4 214.8 52.9 215.9 53.9 215.4 54.5 214.4 55.1 213.3 55.6 212.2 56.0 211.1 56.5 210.0 57.0 208.9 57.4 207.8 57.9 206.7 58.3 205.6 58.8 204.4 59.2 203.3 59.6 202.2 59.9 201.0 60.3 199.9 60.6 198.7 61.0 197.6 61.3 196.4 61.6 195.3 61.9 194.1 62.1 192.9 62.4 191.7 62.6 190.6 62.9 189.4 63.1 188.2 63.3 187.0 63.5 185.8 63.7 184.6 63.9 183.5 64.0 182.3 64.2 181.1 64.4 179.9 64.5 178.7 64.6 177.5 64.8 176.3 64.9 175.1 65.0 173.9 65.1 172.7 65.2 171.5 65.3 170.3 65.4 169.1 65.5 167.9 65.6 166.7 65.7 165.5 65.7 164.3 65.8 163.1 65.9 161.9 66.0 160.7 66.0 159.5 66.1 158.3 66.2 157.1 66.2 155.9 66.3 154.7 66.4 153.5 66.4 152.3 66.5 151.1 66.6 149.9 66.6 148.7 66.7 147.5 66.8 146.3 66.8 145.1 66.9 143.9 67.0 142.7 67.0 141.5 67.1 140.3 67.1 139.1 67.2 137.9 67.3 136.7 67.3 135.5 67.4 134.3 67.4 133.1 67.5 131.9 67.6 130.7 67.6 129.5 67.7 128.3 67.7 127.1 67.8 125.9 67.9 124.7 67.9 123.5 68.0 122.3 68.1 121.1 68.1 119.9 68.2 118.7 68.2 117.5 68.3 116.3 68.4 115.1 68.4 113.9 68.5 112.7 68.6 111.5 68.7 110.3 68.7 109.1 68.8 107.9 68.9 106.7 68.9 105.5 69.0 104.3 69.1 103.1 69.2 101.9 69.3 100.7 69.3 99.5 69.4 98.3 69.5 97.1 69.6 95.9 69.7 94.7 69.8 93.5 69.9 92.3 70.0 91.1 70.0 89.9 70.1 88.7 70.2 87.5 70.3 86.3 70.4 85.1 70.5 83.9 70.6 82.7 70.8 81.5 70.9 80.3 71.0 79.1 71.1 77.9 71.2 76.7 71.3 75.5 71.5 74.3 71.6 73.1 71.7 71.9 71.8 70.7 72.0 69.5 72.1 68.3 72.3 67.1 72.4 65.9 72.6 64.7 72.8 63.6 72.9 62.4 73.1 61.2 73.3 60.0 73.5 58.8 73.8 57.6 74.0 56.4 74.2 55.3 74.5 54.1 74.7 52.9 75.0 51.7 75.3 50.6 75.5 49.4 75.8 48.2 76.2 47.1 76.5 45.9 76.8 44.8 77.1 43.6 77.5 42.4 77.8 41.3 78.2 40.2 78.6 39.0 79.0 37.9 79.3 36.7 79.7 35.6 80.1 34.5 80.6 33.3 81.1 32.2 81.6 31.2 82.3 30.2 83.2 29.4 84.3 29.0 85.5 29.4 86.5 30.1 87.3 30.9 88.1 31.8 88.8 32.8 89.3 33.9 89.7 35.0 90.1 36.2 90.4 37.3 90.8 38.5 91.2 39.6 91.7 40.7 92.2 41.7 93.0 42.6 94.2 42.8 95.1 42.0 95.8 41.0 96.3 39.9 96.7 38.8 97.1 37.7 97.4 36.5 97.7 35.3 97.9 34.1 98.2 33.0 98.4 31.8 98.7 30.6 99.0 29.5 99.4 28.3 99.9 27.2 100.4 26.1 101.1 25.1 101.9 24.3 103.0 23.8 104.2 23.8 105.4 24.1 106.5 24.6 107.5 25.2 108.4 26.0 109.3 26.8 110.1 27.7 110.8 28.7 111.5 29.7 112.1 30.7 112.7 31.7 113.3 32.8 113.8 33.9 114.4 35.0 114.9 36.0 115.4 37.1 115.8 38.2 116.3 39.3 116.8 40.5 117.2 41.6 117.6 42.7 118.0 43.9 118.4 45.0 118.8 46.1 119.1 47.3 119.5 48.4 119.8 49.6 120.1 50.7 120.5 51.9 120.8 53.1 121.1 54.2 121.4 55.4 121.7 56.6 122.0 57.7 122.2 58.9 122.5 60.1 122.8 61.2 123.1 62.4 123.3 63.6 123.6 64.8 123.9 65.9 124.1 67.1 124.4 68.3 124.7 69.4 124.9 70.6 125.2 71.8 125.5 73.0 125.8 74.1 126.0 75.3 126.3 76.5 126.6 77.6 126.9 78.8 127.2 80.0 127.5 81.1 127.9 82.3 128.2 83.4 128.5 84.6 128.9 85.7 129.2 86.9 129.6 88.0 130.0 89.2 130.4 90.3 130.8 91.4 131.2 92.6 131.6 93.7 132.1 94.8 132.5 95.9 133.0 97.0 133.5 98.1 134.0 99.2 134.5 100.3 135.0 101.4 135.5 102.5 136.1 103.6 136.6 104.6 137.1 105.7 137.7 106.8 138.3 107.8 138.8 108.9 139.4 110.0 140.0 111.0 140.5 112.1 141.1 113.1 141.7 114.2 142.3 115.2 142.9 116.3 143.5 117.3 144.1 118.4 144.6 119.4 145.2 120.5 145.8 121.5 146.4 122.6 147.0 123.6 147.5 124.7 148.1 125.8 148.7 126.8 149.2 127.9 149.8 128.9 150.4 130.0 150.9 131.1 151.4 132.2 152.0 133.2 152.5 134.3 153.0 135.4 153.6 136.5 154.1 137.6 154.6 138.7 155.1 139.7 155.6 140.8 156.1 141.9 156.6 143.0 157.1 144.1 157.6 145.2 158.1 146.3 158.6 147.4 159.2 148.5 159.7 149.6 160.2 150.6 160.7 151.7 161.2 152.8 161.7 153.9 162.3 155.0 162.8 156.1 163.3 157.1 163.9 158.2 164.4 159.3 165.0 160.3 165.6 161.4 166.1 162.4 166.7 163.5 167.3 164.5 167.9 165.6 168.5 166.6 169.2 167.7 169.8 168.7 170.4 169.7 171.1 170.7 171.7 171.7 172.4 172.7 173.1 173.7 173.8 174.7 174.5 175.6 175.2 176.6 176.0 177.6 176.7 178.5 177.4 179.5 178.2 180.4 179.0 181.3 179.8 182.2 180.5 183.1 181.4 184.0 182.2 184.9 183.0 185.8 183.8 186.6 184.7 187.5 185.5 188.3 186.4 189.2 187.3 190.0 188.2 190.8 189.1 191.6 190.0 192.4 190.9 193.1 191.9 193.9 192.8 194.6 193.8 195.3 194.8 196.0 195.7 196.7 196.7 197.4 197.7 198.1 198.8 198.7 199.8 199.4 200.8 200.0 201.9 200.6 202.9 201.2 204.0 201.7 205.0 202.3 206.1 202.8 207.2 203.3 208.3 203.9 209.4 204.4 210.5 204.8 211.6 205.3 212.7 205.8 213.8 206.2 214.9 206.6 216.1 207.1 217.2 207.5 218.3 207.9 219.5 208.3 220.6 208.6 221.7 209.0 222.9 209.4 224.0 209.7 225.2 210.1 226.4 210.4 227.5 210.7 228.7 211.0 229.8 211.3 231.0 211.6 232.2 211.9 233.3 212.2 234.5 212.5 235.7 212.7 236.9 213.0 238.0 213.2 239.2 213.5 240.4 213.7 241.6 214.0 242.8 214.2 243.9 214.4 245.1 214.6 246.3 214.9 247.5 215.1 248.7 215.3 249.9 215.5 251.0 215.7 252.2 215.8 253.4 216.0 254.6 216.2 255.8 216.4 257.0 216.5 258.2 216.7 259.4 216.8 260.6 217.0 261.8 217.1 263.0 217.3 264.2 217.4 265.4 217.5 266.5 217.7 267.7 217.8 268.9 217.9 270.1 218.0 271.3 218.1 272.5 218.2 273.7 218.3 274.9 218.4 276.1 218.5 277.3 218.6 278.5 218.7 279.7 218.8 280.9 218.9 282.1 218.9 283.3 219.0 284.5 219.1 285.7 219.1 286.9 219.2 288.1 219.3 289.3 219.3 290.5 219.4 291.7 219.4 292.9 219.5 294.1 219.5 295.3 219.6 296.5 219.6 297.7 219.6 298.9 219.7 300.2 219.7 301.4 219.7 302.6 219.8 303.8 219.8 305.0 219.8 306.2 219.9 307.4 219.9 308.6 219.9 309.8 219.9 311.0 220.0 312.2 220.0 313.4 220.0 314.6 220.0 315.8 220.0 317.0 220.0 318.2 220.1 319.4 220.1 320.6 220.1 321.8 220.1 323.0 220.1 324.2 220.1 325.4 220.1 326.6 220.1 327.8 220.2 329.0 220.2 330.2 220.2 331.4 220.2 332.6 220.2 333.8 220.2 335.0 220.2 336.2 220.2 337.4 220.2 338.6 220.2 339.8 220.2 341.0 220.2 342.2 220.2 343.4 220.3 344.6 220.3 345.8 220.3 347.1 220.3 348.3 220.3 349.5 220.3 350.7 220.3 351.9 220.3 353.1 220.3 354.3 220.3 355.5 220.3 356.7 220.3 357.9 220.3 359.1 220.3 360.3 220.3 361.5 220.3 362.7 220.3 363.9 220.3 365.1 220.3 366.3 220.3 367.5 220.3 368.7 220.3 369.9 220.3 371.1 220.3 372.3 220.4 373.5 220.4 374.7 220.4 375.9 220.4 377.1 220.4 378.3 220.4 379.5 220.4 380.7 220.4 381.9 220.4 383.1 220.4 384.3 220.4 385.5 220.4 386.7 220.4 387.9 220.4 389.1 220.5 390.3 220.5 391.6 220.5 392.8 220.5 394.0 220.5 395.2 220.5 396.4 220.5 397.6 220.5 398.8 220.5 400.0 220.6" fill="none" stroke="#4472C4" stroke-width="1.5" stroke-linejoin="round"/><path d="M49.5 212.2 49.9 213.3 50.1 214.5 50.3 215.6 50.6 216.8 51.1 217.8 51.8 216.7 52.1 215.6 52.5 214.5 52.9 213.3 53.2 212.2 53.6 211.0 54.0 209.9 54.4 208.7 54.8 207.6 55.1 206.5 55.5 205.3 55.8 204.2 56.2 203.0 56.5 201.8 56.7 200.7 57.0 199.5 57.3 198.3 57.5 197.1 57.7 195.9 57.9 194.8 58.1 193.6 58.3 192.4 58.5 191.2 58.7 190.0 58.8 188.8 59.0 187.6 59.1 186.4 59.2 185.2 59.4 184.0 59.5 182.8 59.6 181.6 59.7 180.4 59.8 179.2 60.0 178.0 60.1 176.8 60.2 175.6 60.3 174.4 60.3 173.2 60.4 172.0 60.5 170.8 60.6 169.6 60.7 168.4 60.8 167.2 60.8 166.0 60.9 164.8 61.0 163.6 61.1 162.4 61.1 161.2 61.2 160.0 61.3 158.8 61.3 157.6 61.4 156.4 61.5 155.2 61.5 154.0 61.6 152.8 61.6 151.6 61.7 150.4 61.8 149.2 61.8 148.0 61.9 146.8 61.9 145.6 62.0 144.4 62.0 143.2 62.1 142.0 62.1 140.8 62.2 139.6 62.2 138.4 62.3 137.2 62.3 136.0 62.4 134.8 62.4 133.6 62.4 132.4 62.5 131.2 62.5 130.0 62.6 128.8 62.6 127.6 62.6 126.4 62.7 125.2 62.7 124.0 62.7 122.8 62.8 121.5 62.8 120.3 62.8 119.1 62.9 117.9 62.9 116.7 62.9 115.5 63.0 114.3 63.0 113.1 63.0 111.9 63.1 110.7 63.1 109.5 63.1 108.3 63.2 107.1 63.2 105.9 63.2 104.7 63.3 103.5 63.3 102.3 63.3 101.1 63.3 99.9 63.4 98.7 63.4 97.5 63.4 96.3 63.5 95.1 63.5 93.9 63.5 92.7 63.6 91.5 63.6 90.3 63.6 89.1 63.6 87.9 63.7 86.7 63.7 85.5 63.7 84.3 63.8 83.0 63.8 81.8 63.8 80.6 63.9 79.4 63.9 78.2 63.9 77.0 64.0 75.8 64.0 74.6 64.0 73.4 64.1 72.2 64.1 71.0 64.2 69.8 64.2 68.6 64.2 67.4 64.3 66.2 64.3 65.0 64.4 63.8 64.4 62.6 64.5 61.4 64.5 60.2 64.6 59.0 64.6 57.8 64.7 56.6 64.7 55.4 64.8 54.2 64.8 53.0 64.9 51.8 64.9 50.6 65.0 49.4 65.0 48.2 65.1 47.0 65.2 45.8 65.2 44.6 65.3 43.4 65.4 42.2 65.4 41.0 65.5 39.8 65.6 38.6 65.7 37.4 65.7 36.2 65.8 35.0 65.9 33.8 66.0 32.6 66.1 31.3 66.2 30.1 66.3 28.9 66.4 27.7 66.5 26.6 66.6 25.4 66.7 24.2 66.8 23.0 66.9 21.8 67.0 20.6 67.1 19.4 67.2 18.2 67.3 17.0 67.3 15.8 67.4 14.6 67.5 13.4 67.6 12.2 67.6 10.9 67.7 9.7 67.8 8.5 67.8 7.3 67.9 6.1 68.1 4.9 68.2 3.8 68.4 2.6 69.0 1.9 69.5 3.0 69.8 4.2 70.0 5.4 70.2 6.5 70.4 7.7 70.5 8.9 70.7 10.1 70.8 11.3 71.0 12.5 71.2 13.7 71.3 14.9 71.5 16.1 71.6 17.3 71.8 18.5 71.9 19.7 72.0 20.9 72.1 22.1 72.2 23.3 72.3 24.5 72.4 25.7 72.6 26.9 72.8 28.0 73.0 29.2 73.3 30.4 73.6 31.6 74.0 32.7 74.5 33.8 75.0 34.9 75.6 35.9 76.3 36.9 76.9 37.9 77.6 38.9 78.2 40.0 78.8 41.0 79.3 42.1 79.7 43.2 80.1 44.4 80.5 45.5 80.8 46.7 81.1 47.9 81.4 49.0 81.6 50.2 81.8 51.4 82.0 52.6 82.2 53.8 82.4 55.0 82.6 56.1 82.8 57.3 83.1 58.5 83.3 59.7 83.5 60.9 83.8 62.0 84.1 63.2 84.4 64.4 84.8 65.5 85.1 66.7 85.4 67.8 85.7 69.0 86.0 70.2 86.3 71.3 86.6 72.5 86.8 73.7 87.1 74.9 87.4 76.0 87.7 77.2 88.1 78.3 88.6 79.4 89.3 80.4 89.8 79.4 90.3 78.2 90.7 77.1 91.1 76.0 91.4 74.8 91.7 73.6 91.9 72.5 92.1 71.3 92.3 70.1 92.5 68.9 92.7 67.7 92.9 66.5 93.1 65.3 93.3 64.2 93.5 63.0 93.7 61.8 93.9 60.6 94.1 59.4 94.3 58.2 94.4 57.0 94.6 55.8 94.8 54.6 95.0 53.5 95.1 52.3 95.3 51.1 95.4 49.9 95.6 48.7 95.8 47.5 96.0 46.3 96.2 45.1 96.5 44.0 96.8 42.8 97.2 41.7 97.7 40.5 98.5 39.7 99.3 40.5 99.8 41.6 100.2 42.7 100.6 43.9 100.9 45.1 101.1 46.2 101.4 47.4 101.6 48.6 101.8 49.8 102.1 51.0 102.3 52.1 102.5 53.3 102.8 54.5 103.0 55.7 103.2 56.9 103.4 58.0 103.7 59.2 103.9 60.4 104.2 61.6 104.4 62.8 104.7 63.9 104.9 65.1 105.2 66.3 105.4 67.5 105.7 68.6 106.0 69.8 106.2 71.0 106.5 72.2 106.8 73.3 107.1 74.5 107.4 75.7 107.6 76.8 107.9 78.0 108.2 79.2 108.5 80.3 108.8 81.5 109.1 82.7 109.5 83.8 109.8 85.0 110.1 86.2 110.4 87.3 110.7 88.5 111.0 89.6 111.3 90.8 111.6 92.0 111.9 93.1 112.2 94.3 112.5 95.5 112.8 96.6 113.1 97.8 113.4 99.0 113.7 100.1 114.0 101.3 114.3 102.5 114.6 103.6 114.8 104.8 115.1 106.0 115.4 107.2 115.7 108.3 116.0 109.5 116.3 110.7 116.6 111.8 116.8 113.0 117.1 114.2 117.4 115.3 117.7 116.5 118.0 117.7 118.3 118.8 118.6 120.0 118.9 121.2 119.3 122.3 119.6 123.5 120.0 124.6 120.4 125.8 120.8 126.9 121.2 128.0 121.6 129.1 122.1 130.3 122.5 131.4 123.1 132.5 123.6 133.5 124.2 134.6 124.8 135.6 125.4 136.7 126.0 137.7 126.7 138.7 127.4 139.6 128.1 140.6 128.9 141.6 129.6 142.5 130.4 143.4 131.1 144.4 131.9 145.3 132.7 146.2 133.5 147.1 134.2 148.1 135.0 149.0 135.7 150.0 136.5 150.9 137.2 151.9 137.9 152.8 138.6 153.8 139.2 154.8 139.9 155.8 140.5 156.9 141.2 157.9 141.8 158.9 142.4 159.9 143.0 161.0 143.6 162.0 144.2 163.1 144.8 164.1 145.4 165.2 146.0 166.2 146.6 167.2 147.2 168.3 147.9 169.3 148.5 170.3 149.1 171.4 149.8 172.4 150.4 173.4 151.1 174.4 151.8 175.4 152.4 176.4 153.1 177.4 153.8 178.4 154.5 179.4 155.1 180.4 155.8 181.4 156.5 182.4 157.2 183.4 157.8 184.4 158.5 185.4 159.1 186.4 159.8 187.4 160.4 188.4 161.0 189.4 161.7 190.4 162.4 191.4 163.1 192.4 163.9 193.3 164.8 194.2 165.7 195.0 166.6 195.7 167.6 196.4 168.6 197.1 169.6 197.7 170.7 198.3 171.7 198.8 172.8 199.4 173.9 199.9 174.9 200.5 176.0 201.1 177.0 201.7 178.1 202.3 179.1 202.8 180.2 203.4 181.3 204.0 182.4 204.5 183.5 205.0 184.6 205.4 185.7 205.8 186.9 206.2 188.0 206.6 189.1 207.0 190.3 207.4 191.4 207.7 192.6 208.1 193.7 208.5 194.8 209.0 195.9 209.4 197.1 209.9 198.2 210.3 199.3 210.7 200.4 211.1 201.6 211.5 202.7 211.9 203.9 212.3 205.0 212.6 206.2 212.9 207.4 213.1 208.5 213.4 209.7 213.6 210.9 213.9 212.1 214.1 213.3 214.3 214.5 214.5 215.6 214.7 216.8 214.9 218.0 215.1 219.2 215.3 220.4 215.5 221.6 215.7 222.8 215.8 224.0 216.0 225.2 216.2 226.3 216.3 227.5 216.5 228.7 216.6 229.9 216.8 231.1 216.9 232.3 217.1 233.5 217.2 234.7 217.3 235.9 217.4 237.1 217.5 238.3 217.7 239.5 217.8 240.7 217.9 241.9 218.0 243.1 218.1 244.3 218.2 245.5 218.3 246.7 218.3 247.9 218.4 249.1 218.5 250.3 218.6 251.5 218.7 252.7 218.7 253.9 218.8 255.1 218.9 256.3 218.9 257.5 219.0 258.7 219.1 259.9 219.1 261.1 219.2 262.3 219.2 263.5 219.3 264.7 219.3 265.9 219.4 267.1 219.4 268.3 219.5 269.5 219.5 270.7 219.6 271.9 219.6 273.2 219.6 274.4 219.7 275.6 219.7 276.8 219.8 278.0 219.8 279.2 219.8 280.4 219.9 281.6 219.9 282.8 220.0 284.0 220.0 285.2 220.0 286.4 220.1 287.6 220.1 288.8 220.2 290.0 220.2" fill="none" stroke="#2F5C8F" stroke-width="1.6" stroke-dasharray="4 2.2" stroke-linejoin="round"/><rect x="289.3" y="1.3" width="112.7" height="182.7" fill="#fff" stroke="#D03030" stroke-width="1.4"/><line x1="303" y1="8.5" x2="318.5" y2="8.5" stroke="#2F5C8F" stroke-width="1.9" stroke-dasharray="3.8 1.9"/><text x="320" y="12.1" font-size="10.2" fill="#595959" font-family="Liberation Serif, serif">MeCN</text><line x1="303" y1="22.5" x2="318.5" y2="22.5" stroke="#4472C4" stroke-width="1.8"/><text x="320" y="26.1" font-size="10.2" fill="#595959" font-family="Liberation Serif, serif">Benzene</text><line x1="303" y1="36.5" x2="318.5" y2="36.5" stroke="#548235" stroke-width="1.8"/><text x="320" y="40.1" font-size="10.2" fill="#595959" font-family="Liberation Serif, serif">Toluene</text><line x1="303" y1="50.5" x2="318.5" y2="50.5" stroke="#FFC000" stroke-width="1.8"/><text x="320" y="54.1" font-size="10.2" fill="#595959" font-family="Liberation Serif, serif">EthylBenzene</text><line x1="303" y1="64.5" x2="318.5" y2="64.5" stroke="#F4B183" stroke-width="1.8"/><text x="320" y="68.1" font-size="10.2" fill="#595959" font-family="Liberation Serif, serif">Mesitylene</text><line x1="303" y1="78.5" x2="318.5" y2="78.5" stroke="#C00000" stroke-width="1.8"/><text x="320" y="82.1" font-size="10.2" fill="#595959" font-family="Liberation Serif, serif">o-Xylene</text><line x1="303" y1="92.5" x2="318.5" y2="92.5" stroke="#FF0000" stroke-width="1.8"/><text x="320" y="96.1" font-size="10.2" fill="#595959" font-family="Liberation Serif, serif">p-Xylene</text><line x1="303" y1="106.5" x2="318.5" y2="106.5" stroke="#7030A0" stroke-width="1.8"/><text x="320" y="110.1" font-size="10.2" fill="#595959" font-family="Liberation Serif, serif">ChloroBenzene</text><line x1="303" y1="120.5" x2="318.5" y2="120.5" stroke="#111111" stroke-width="1.8"/><text x="320" y="124.1" font-size="10.2" fill="#595959" font-family="Liberation Serif, serif">triFluoroToluene</text><line x1="303" y1="134.5" x2="318.5" y2="134.5" stroke="#70AD47" stroke-width="1.8"/><text x="320" y="138.1" font-size="10.2" fill="#595959" font-family="Liberation Serif, serif">Benzonitrile</text><line x1="303" y1="148.5" x2="318.5" y2="148.5" stroke="#A0522D" stroke-width="1.8"/><text x="320" y="152.1" font-size="10.2" fill="#595959" font-family="Liberation Serif, serif">ODCB</text><line x1="303" y1="162.5" x2="318.5" y2="162.5" stroke="#B08D1A" stroke-width="1.8"/><text x="320" y="166.1" font-size="10.2" fill="#595959" font-family="Liberation Serif, serif">Benzyl Chloride</text><line x1="303" y1="176.5" x2="318.5" y2="176.5" stroke="#7A9FDD" stroke-width="1.8"/><text x="320" y="180.1" font-size="10.2" fill="#595959" font-family="Liberation Serif, serif">Benzyl-OH</text><rect x="408.5" y="1.6" width="274.5" height="209.8" fill="#FFF2CC" stroke="#4472C4" stroke-width="2"/><polygon points="427.4,13.1 439.8,20.2 439.8,34.5 427.4,41.7 415.0,34.5 415.0,20.2" fill="none" stroke="#505050" stroke-width="1"/><line x1="428.1" y1="16.4" x2="436.6" y2="21.3" stroke="#505050" stroke-width="1"/><line x1="436.6" y1="33.5" x2="428.1" y2="38.4" stroke="#505050" stroke-width="1"/><line x1="417.5" y1="32.3" x2="417.5" y2="22.5" stroke="#505050" stroke-width="1"/><line x1="435.8" y1="27.5" x2="448" y2="27.2" stroke="#505050" stroke-width="1"/><text x="448.3" y="32.2" font-size="11.3" fill="#1e1e1e" stroke="#1e1e1e" stroke-width="0.25" font-family="Liberation Sans, sans-serif">R</text><text x="411.1" y="62.5" font-size="11.9" fill="#1e1e1e" stroke="#1e1e1e" stroke-width="0.2" font-family="Liberation Sans, sans-serif">R =</text><text x="411.1" y="82.7" font-size="11.9" fill="#1e1e1e" stroke="#1e1e1e" stroke-width="0.2" font-family="Liberation Sans, sans-serif">H = Benzene</text><text x="411.1" y="102.9" font-size="11.9" fill="#1e1e1e" stroke="#1e1e1e" stroke-width="0.2" font-family="Liberation Sans, sans-serif">Me = Toluene</text><text x="411.1" y="123.1" font-size="11.9" fill="#1e1e1e" stroke="#1e1e1e" stroke-width="0.2" font-family="Liberation Sans, sans-serif">Et = Ethylbenzene</text><text x="411.1" y="143.3" font-size="11.9" fill="#1e1e1e" stroke="#1e1e1e" stroke-width="0.2" font-family="Liberation Sans, sans-serif">Cl = Chlorobenzene</text><text x="411.1" y="163.5" font-size="11.9" fill="#1e1e1e" stroke="#1e1e1e" stroke-width="0.2" font-family="Liberation Sans, sans-serif">Br = Bromobenzene</text><text x="411.1" y="183.7" font-size="11.9" fill="#1e1e1e" stroke="#1e1e1e" stroke-width="0.2" font-family="Liberation Sans, sans-serif">I = Iodobenzene</text><text x="411.1" y="203.9" font-size="11.9" fill="#1e1e1e" stroke="#1e1e1e" stroke-width="0.2" font-family="Liberation Sans, sans-serif">CF<tspan font-size="9" dy="2.5">3</tspan><tspan dy="-2.5"> = Trifluorotoluene</tspan></text><text x="526.5" y="20.0" font-size="11.9" fill="#1e1e1e" stroke="#1e1e1e" stroke-width="0.2" font-family="Liberation Sans, sans-serif">CN = Benzonitrile</text><text x="526.5" y="40.2" font-size="11.9" fill="#1e1e1e" stroke="#1e1e1e" stroke-width="0.2" font-family="Liberation Sans, sans-serif">CH<tspan font-size="9" dy="2.5">2</tspan><tspan dy="-2.5">OH = Benzyl alcohol</tspan></text><text x="526.5" y="60.5" font-size="11.9" fill="#1e1e1e" stroke="#1e1e1e" stroke-width="0.2" font-family="Liberation Sans, sans-serif">CH<tspan font-size="9" dy="2.5">2</tspan><tspan dy="-2.5">NH</tspan><tspan font-size="9" dy="2.5">2</tspan><tspan dy="-2.5"> = Benzylamine</tspan></text><text x="526.5" y="80.7" font-size="11.9" fill="#1e1e1e" stroke="#1e1e1e" stroke-width="0.2" font-family="Liberation Sans, sans-serif">CH<tspan font-size="9" dy="2.5">2</tspan><tspan dy="-2.5">Cl = Benzyl chloride</tspan></text><text x="526.5" y="101.0" font-size="11.9" fill="#1e1e1e" stroke="#1e1e1e" stroke-width="0.2" font-family="Liberation Sans, sans-serif">1,2-diMe = o-Xylene</text><text x="526.5" y="121.2" font-size="11.9" fill="#1e1e1e" stroke="#1e1e1e" stroke-width="0.2" font-family="Liberation Sans, sans-serif">1,4-diMe = p-Xylene</text><text x="526.5" y="141.4" font-size="11.9" fill="#1e1e1e" stroke="#1e1e1e" stroke-width="0.2" font-family="Liberation Sans, sans-serif">1,3,5-triMe = Mesitylene</text><text x="526.5" y="161.7" font-size="11.9" fill="#1e1e1e" stroke="#1e1e1e" stroke-width="0.2" font-family="Liberation Sans, sans-serif">1,2-diCl = o-Dichlorobenzene</text><polygon points="572.5,176.3 584.6,183.3 584.6,197.3 572.5,204.3 560.4,197.3 560.4,183.3" fill="none" stroke="#505050" stroke-width="1"/><line x1="573.2" y1="179.5" x2="581.5" y2="184.3" stroke="#505050" stroke-width="1"/><line x1="581.5" y1="196.3" x2="573.2" y2="201.1" stroke="#505050" stroke-width="1"/><line x1="562.8" y1="195.1" x2="562.8" y2="185.5" stroke="#505050" stroke-width="1"/><rect x="567.5" y="171" width="10" height="10" fill="#FFF2CC"/><text x="572.5" y="180.2" text-anchor="middle" font-size="10.3" fill="#222" font-family="Liberation Sans, sans-serif">N</text><text x="595.3" y="193.8" font-size="11.9" fill="#1e1e1e" stroke="#1e1e1e" stroke-width="0.2" font-family="Liberation Sans, sans-serif">pyridine</text><line x1="46.6" y1="268.8" x2="46.6" y2="415.4" stroke="#7a7a7a" stroke-width="1.2"/><line x1="43.3" y1="412.4" x2="224.4" y2="412.4" stroke="#7a7a7a" stroke-width="1.2"/><line x1="43.3" y1="412.4" x2="46.6" y2="412.4" stroke="#555" stroke-width="1"/><text x="37.2" y="416.2" text-anchor="end" font-size="11.6" fill="#1a1a1a" stroke="#1a1a1a" stroke-width="0.25" font-family="Liberation Serif, serif">0.0</text><line x1="43.3" y1="398.3" x2="46.6" y2="398.3" stroke="#555" stroke-width="1"/><line x1="43.3" y1="384.2" x2="46.6" y2="384.2" stroke="#555" stroke-width="1"/><text x="37.2" y="388.0" text-anchor="end" font-size="11.6" fill="#1a1a1a" stroke="#1a1a1a" stroke-width="0.25" font-family="Liberation Serif, serif">0.2</text><line x1="43.3" y1="370.1" x2="46.6" y2="370.1" stroke="#555" stroke-width="1"/><line x1="43.3" y1="356.0" x2="46.6" y2="356.0" stroke="#555" stroke-width="1"/><text x="37.2" y="359.8" text-anchor="end" font-size="11.6" fill="#1a1a1a" stroke="#1a1a1a" stroke-width="0.25" font-family="Liberation Serif, serif">0.4</text><line x1="43.3" y1="341.8" x2="46.6" y2="341.8" stroke="#555" stroke-width="1"/><line x1="43.3" y1="327.7" x2="46.6" y2="327.7" stroke="#555" stroke-width="1"/><text x="37.2" y="331.5" text-anchor="end" font-size="11.6" fill="#1a1a1a" stroke="#1a1a1a" stroke-width="0.25" font-family="Liberation Serif, serif">0.6</text><line x1="43.3" y1="313.6" x2="46.6" y2="313.6" stroke="#555" stroke-width="1"/><line x1="43.3" y1="299.5" x2="46.6" y2="299.5" stroke="#555" stroke-width="1"/><text x="37.2" y="303.3" text-anchor="end" font-size="11.6" fill="#1a1a1a" stroke="#1a1a1a" stroke-width="0.25" font-family="Liberation Serif, serif">0.8</text><line x1="43.3" y1="285.4" x2="46.6" y2="285.4" stroke="#555" stroke-width="1"/><line x1="43.3" y1="271.3" x2="46.6" y2="271.3" stroke="#555" stroke-width="1"/><text x="37.2" y="275.1" text-anchor="end" font-size="11.6" fill="#1a1a1a" stroke="#1a1a1a" stroke-width="0.25" font-family="Liberation Serif, serif">1.0</text><line x1="46.6" y1="412.4" x2="46.6" y2="415.4" stroke="#555" stroke-width="1"/><line x1="56.5" y1="412.4" x2="56.5" y2="415.4" stroke="#555" stroke-width="1"/><line x1="66.4" y1="412.4" x2="66.4" y2="415.4" stroke="#555" stroke-width="1"/><line x1="76.2" y1="412.4" x2="76.2" y2="415.4" stroke="#555" stroke-width="1"/><line x1="86.1" y1="412.4" x2="86.1" y2="415.4" stroke="#555" stroke-width="1"/><line x1="96.0" y1="412.4" x2="96.0" y2="415.4" stroke="#555" stroke-width="1"/><line x1="105.9" y1="412.4" x2="105.9" y2="415.4" stroke="#555" stroke-width="1"/><line x1="115.8" y1="412.4" x2="115.8" y2="415.4" stroke="#555" stroke-width="1"/><line x1="125.6" y1="412.4" x2="125.6" y2="415.4" stroke="#555" stroke-width="1"/><line x1="135.5" y1="412.4" x2="135.5" y2="415.4" stroke="#555" stroke-width="1"/><line x1="145.4" y1="412.4" x2="145.4" y2="415.4" stroke="#555" stroke-width="1"/><line x1="155.3" y1="412.4" x2="155.3" y2="415.4" stroke="#555" stroke-width="1"/><line x1="165.2" y1="412.4" x2="165.2" y2="415.4" stroke="#555" stroke-width="1"/><line x1="175.0" y1="412.4" x2="175.0" y2="415.4" stroke="#555" stroke-width="1"/><line x1="184.9" y1="412.4" x2="184.9" y2="415.4" stroke="#555" stroke-width="1"/><line x1="194.8" y1="412.4" x2="194.8" y2="415.4" stroke="#555" stroke-width="1"/><line x1="204.7" y1="412.4" x2="204.7" y2="415.4" stroke="#555" stroke-width="1"/><line x1="214.6" y1="412.4" x2="214.6" y2="415.4" stroke="#555" stroke-width="1"/><line x1="224.4" y1="412.4" x2="224.4" y2="415.4" stroke="#555" stroke-width="1"/><text x="46.6" y="429.2" text-anchor="middle" font-size="11.6" fill="#1a1a1a" stroke="#1a1a1a" stroke-width="0.25" font-family="Liberation Serif, serif">320</text><text x="96.0" y="429.2" text-anchor="middle" font-size="11.6" fill="#1a1a1a" stroke="#1a1a1a" stroke-width="0.25" font-family="Liberation Serif, serif">370</text><text x="145.4" y="429.2" text-anchor="middle" font-size="11.6" fill="#1a1a1a" stroke="#1a1a1a" stroke-width="0.25" font-family="Liberation Serif, serif">420</text><text x="194.8" y="429.2" text-anchor="middle" font-size="11.6" fill="#1a1a1a" stroke="#1a1a1a" stroke-width="0.25" font-family="Liberation Serif, serif">470</text><line x1="271.7" y1="268.8" x2="271.7" y2="415.4" stroke="#7a7a7a" stroke-width="1.2"/><line x1="268.4" y1="412.4" x2="455.3" y2="412.4" stroke="#7a7a7a" stroke-width="1.2"/><line x1="268.4" y1="412.4" x2="271.7" y2="412.4" stroke="#555" stroke-width="1"/><text x="262.6" y="416.2" text-anchor="end" font-size="11.6" fill="#1a1a1a" stroke="#1a1a1a" stroke-width="0.25" font-family="Liberation Serif, serif">0.0</text><line x1="268.4" y1="398.3" x2="271.7" y2="398.3" stroke="#555" stroke-width="1"/><line x1="268.4" y1="384.2" x2="271.7" y2="384.2" stroke="#555" stroke-width="1"/><text x="262.6" y="388.0" text-anchor="end" font-size="11.6" fill="#1a1a1a" stroke="#1a1a1a" stroke-width="0.25" font-family="Liberation Serif, serif">0.2</text><line x1="268.4" y1="370.1" x2="271.7" y2="370.1" stroke="#555" stroke-width="1"/><line x1="268.4" y1="356.0" x2="271.7" y2="356.0" stroke="#555" stroke-width="1"/><text x="262.6" y="359.8" text-anchor="end" font-size="11.6" fill="#1a1a1a" stroke="#1a1a1a" stroke-width="0.25" font-family="Liberation Serif, serif">0.4</text><line x1="268.4" y1="341.8" x2="271.7" y2="341.8" stroke="#555" stroke-width="1"/><line x1="268.4" y1="327.7" x2="271.7" y2="327.7" stroke="#555" stroke-width="1"/><text x="262.6" y="331.5" text-anchor="end" font-size="11.6" fill="#1a1a1a" stroke="#1a1a1a" stroke-width="0.25" font-family="Liberation Serif, serif">0.6</text><line x1="268.4" y1="313.6" x2="271.7" y2="313.6" stroke="#555" stroke-width="1"/><line x1="268.4" y1="299.5" x2="271.7" y2="299.5" stroke="#555" stroke-width="1"/><text x="262.6" y="303.3" text-anchor="end" font-size="11.6" fill="#1a1a1a" stroke="#1a1a1a" stroke-width="0.25" font-family="Liberation Serif, serif">0.8</text><line x1="268.4" y1="285.4" x2="271.7" y2="285.4" stroke="#555" stroke-width="1"/><line x1="268.4" y1="271.3" x2="271.7" y2="271.3" stroke="#555" stroke-width="1"/><text x="262.6" y="275.1" text-anchor="end" font-size="11.6" fill="#1a1a1a" stroke="#1a1a1a" stroke-width="0.25" font-family="Liberation Serif, serif">1.0</text><line x1="271.7" y1="412.4" x2="271.7" y2="415.4" stroke="#555" stroke-width="1"/><line x1="281.9" y1="412.4" x2="281.9" y2="415.4" stroke="#555" stroke-width="1"/><line x1="292.1" y1="412.4" x2="292.1" y2="415.4" stroke="#555" stroke-width="1"/><line x1="302.3" y1="412.4" x2="302.3" y2="415.4" stroke="#555" stroke-width="1"/><line x1="312.5" y1="412.4" x2="312.5" y2="415.4" stroke="#555" stroke-width="1"/><line x1="322.7" y1="412.4" x2="322.7" y2="415.4" stroke="#555" stroke-width="1"/><line x1="332.9" y1="412.4" x2="332.9" y2="415.4" stroke="#555" stroke-width="1"/><line x1="343.1" y1="412.4" x2="343.1" y2="415.4" stroke="#555" stroke-width="1"/><line x1="353.3" y1="412.4" x2="353.3" y2="415.4" stroke="#555" stroke-width="1"/><line x1="363.5" y1="412.4" x2="363.5" y2="415.4" stroke="#555" stroke-width="1"/><line x1="373.7" y1="412.4" x2="373.7" y2="415.4" stroke="#555" stroke-width="1"/><line x1="383.9" y1="412.4" x2="383.9" y2="415.4" stroke="#555" stroke-width="1"/><line x1="394.1" y1="412.4" x2="394.1" y2="415.4" stroke="#555" stroke-width="1"/><line x1="404.3" y1="412.4" x2="404.3" y2="415.4" stroke="#555" stroke-width="1"/><line x1="414.5" y1="412.4" x2="414.5" y2="415.4" stroke="#555" stroke-width="1"/><line x1="424.7" y1="412.4" x2="424.7" y2="415.4" stroke="#555" stroke-width="1"/><line x1="434.9" y1="412.4" x2="434.9" y2="415.4" stroke="#555" stroke-width="1"/><line x1="445.1" y1="412.4" x2="445.1" y2="415.4" stroke="#555" stroke-width="1"/><line x1="455.3" y1="412.4" x2="455.3" y2="415.4" stroke="#555" stroke-width="1"/><text x="271.7" y="429.2" text-anchor="middle" font-size="11.6" fill="#1a1a1a" stroke="#1a1a1a" stroke-width="0.25" font-family="Liberation Serif, serif">320</text><text x="322.7" y="429.2" text-anchor="middle" font-size="11.6" fill="#1a1a1a" stroke="#1a1a1a" stroke-width="0.25" font-family="Liberation Serif, serif">370</text><text x="373.7" y="429.2" text-anchor="middle" font-size="11.6" fill="#1a1a1a" stroke="#1a1a1a" stroke-width="0.25" font-family="Liberation Serif, serif">420</text><text x="424.7" y="429.2" text-anchor="middle" font-size="11.6" fill="#1a1a1a" stroke="#1a1a1a" stroke-width="0.25" font-family="Liberation Serif, serif">470</text><line x1="500.0" y1="268.8" x2="500.0" y2="415.4" stroke="#7a7a7a" stroke-width="1.2"/><line x1="496.7" y1="412.4" x2="681.6" y2="412.4" stroke="#7a7a7a" stroke-width="1.2"/><line x1="496.7" y1="412.4" x2="500.0" y2="412.4" stroke="#555" stroke-width="1"/><text x="490.2" y="416.2" text-anchor="end" font-size="11.6" fill="#1a1a1a" stroke="#1a1a1a" stroke-width="0.25" font-family="Liberation Serif, serif">0.0</text><line x1="496.7" y1="398.3" x2="500.0" y2="398.3" stroke="#555" stroke-width="1"/><line x1="496.7" y1="384.2" x2="500.0" y2="384.2" stroke="#555" stroke-width="1"/><text x="490.2" y="388.0" text-anchor="end" font-size="11.6" fill="#1a1a1a" stroke="#1a1a1a" stroke-width="0.25" font-family="Liberation Serif, serif">0.2</text><line x1="496.7" y1="370.1" x2="500.0" y2="370.1" stroke="#555" stroke-width="1"/><line x1="496.7" y1="356.0" x2="500.0" y2="356.0" stroke="#555" stroke-width="1"/><text x="490.2" y="359.8" text-anchor="end" font-size="11.6" fill="#1a1a1a" stroke="#1a1a1a" stroke-width="0.25" font-family="Liberation Serif, serif">0.4</text><line x1="496.7" y1="341.8" x2="500.0" y2="341.8" stroke="#555" stroke-width="1"/><line x1="496.7" y1="327.7" x2="500.0" y2="327.7" stroke="#555" stroke-width="1"/><text x="490.2" y="331.5" text-anchor="end" font-size="11.6" fill="#1a1a1a" stroke="#1a1a1a" stroke-width="0.25" font-family="Liberation Serif, serif">0.6</text><line x1="496.7" y1="313.6" x2="500.0" y2="313.6" stroke="#555" stroke-width="1"/><line x1="496.7" y1="299.5" x2="500.0" y2="299.5" stroke="#555" stroke-width="1"/><text x="490.2" y="303.3" text-anchor="end" font-size="11.6" fill="#1a1a1a" stroke="#1a1a1a" stroke-width="0.25" font-family="Liberation Serif, serif">0.8</text><line x1="496.7" y1="285.4" x2="500.0" y2="285.4" stroke="#555" stroke-width="1"/><line x1="496.7" y1="271.3" x2="500.0" y2="271.3" stroke="#555" stroke-width="1"/><text x="490.2" y="275.1" text-anchor="end" font-size="11.6" fill="#1a1a1a" stroke="#1a1a1a" stroke-width="0.25" font-family="Liberation Serif, serif">1.0</text><line x1="500.0" y1="412.4" x2="500.0" y2="415.4" stroke="#555" stroke-width="1"/><line x1="510.1" y1="412.4" x2="510.1" y2="415.4" stroke="#555" stroke-width="1"/><line x1="520.2" y1="412.4" x2="520.2" y2="415.4" stroke="#555" stroke-width="1"/><line x1="530.3" y1="412.4" x2="530.3" y2="415.4" stroke="#555" stroke-width="1"/><line x1="540.4" y1="412.4" x2="540.4" y2="415.4" stroke="#555" stroke-width="1"/><line x1="550.5" y1="412.4" x2="550.5" y2="415.4" stroke="#555" stroke-width="1"/><line x1="560.5" y1="412.4" x2="560.5" y2="415.4" stroke="#555" stroke-width="1"/><line x1="570.6" y1="412.4" x2="570.6" y2="415.4" stroke="#555" stroke-width="1"/><line x1="580.7" y1="412.4" x2="580.7" y2="415.4" stroke="#555" stroke-width="1"/><line x1="590.8" y1="412.4" x2="590.8" y2="415.4" stroke="#555" stroke-width="1"/><line x1="600.9" y1="412.4" x2="600.9" y2="415.4" stroke="#555" stroke-width="1"/><line x1="611.0" y1="412.4" x2="611.0" y2="415.4" stroke="#555" stroke-width="1"/><line x1="621.1" y1="412.4" x2="621.1" y2="415.4" stroke="#555" stroke-width="1"/><line x1="631.2" y1="412.4" x2="631.2" y2="415.4" stroke="#555" stroke-width="1"/><line x1="641.3" y1="412.4" x2="641.3" y2="415.4" stroke="#555" stroke-width="1"/><line x1="651.4" y1="412.4" x2="651.4" y2="415.4" stroke="#555" stroke-width="1"/><line x1="661.4" y1="412.4" x2="661.4" y2="415.4" stroke="#555" stroke-width="1"/><line x1="671.5" y1="412.4" x2="671.5" y2="415.4" stroke="#555" stroke-width="1"/><line x1="681.6" y1="412.4" x2="681.6" y2="415.4" stroke="#555" stroke-width="1"/><text x="500.0" y="429.2" text-anchor="middle" font-size="11.6" fill="#1a1a1a" stroke="#1a1a1a" stroke-width="0.25" font-family="Liberation Serif, serif">320</text><text x="550.5" y="429.2" text-anchor="middle" font-size="11.6" fill="#1a1a1a" stroke="#1a1a1a" stroke-width="0.25" font-family="Liberation Serif, serif">370</text><text x="600.9" y="429.2" text-anchor="middle" font-size="11.6" fill="#1a1a1a" stroke="#1a1a1a" stroke-width="0.25" font-family="Liberation Serif, serif">420</text><text x="651.4" y="429.2" text-anchor="middle" font-size="11.6" fill="#1a1a1a" stroke="#1a1a1a" stroke-width="0.25" font-family="Liberation Serif, serif">470</text><text x="125.7" y="440.6" text-anchor="middle" font-size="12.6" font-weight="bold" fill="#222" font-family="Liberation Serif, serif">&#955; (nm)</text><text x="350.3" y="440.6" text-anchor="middle" font-size="12.6" font-weight="bold" fill="#222" font-family="Liberation Serif, serif">&#955; (nm)</text><text x="577.5" y="440.6" text-anchor="middle" font-size="12.6" font-weight="bold" fill="#222" font-family="Liberation Serif, serif">&#955; (nm)</text><text transform="translate(16.9,341.9) rotate(-90)" text-anchor="middle" font-size="12.9" fill="#222" font-family="Liberation Serif, serif">FL Intensity (au)</text><text x="162.3" y="395.5" text-anchor="middle" font-size="20.5" fill="#7030A0" font-family="Liberation Serif, serif">b</text><text x="408.9" y="395.5" text-anchor="middle" font-size="20.5" fill="#7030A0" font-family="Liberation Serif, serif">c</text><text x="658.0" y="395.5" text-anchor="middle" font-size="20.5" fill="#7030A0" font-family="Liberation Serif, serif">d</text><path d="M47.0 402.0 47.2 403.2 47.4 404.4 47.7 405.6 48.0 406.7 48.6 407.8 49.6 408.2 50.6 407.6 51.2 406.5 51.6 405.4 51.9 404.2 52.2 403.1 52.4 401.9 52.6 400.7 52.8 399.5 53.0 398.3 53.2 397.1 53.4 395.9 53.5 394.7 53.7 393.5 53.8 392.3 54.0 391.1 54.1 389.9 54.3 388.8 54.4 387.6 54.5 386.4 54.7 385.2 54.8 384.0 54.9 382.8 55.1 381.6 55.2 380.4 55.3 379.2 55.4 378.0 55.5 376.8 55.7 375.6 55.8 374.4 55.9 373.2 56.0 372.0 56.1 370.8 56.2 369.6 56.3 368.4 56.4 367.2 56.4 366.0 56.5 364.8 56.6 363.6 56.7 362.4 56.8 361.2 56.8 360.0 56.9 358.8 57.0 357.6 57.0 356.4 57.1 355.1 57.2 353.9 57.2 352.7 57.3 351.5 57.4 350.3 57.4 349.1 57.5 347.9 57.5 346.7 57.6 345.5 57.7 344.3 57.7 343.1 57.8 341.9 57.8 340.7 57.9 339.5 58.0 338.3 58.0 337.1 58.1 335.9 58.2 334.7 58.3 333.5 58.3 332.3 58.4 331.1 58.5 329.9 58.6 328.7 58.7 327.5 58.8 326.3 58.9 325.1 59.0 323.9 59.1 322.7 59.2 321.5 59.3 320.3 59.4 319.1 59.6 317.9 59.7 316.7 59.8 315.5 60.0 314.3 60.1 313.1 60.3 311.9 60.4 310.7 60.6 309.5 60.8 308.3 60.9 307.1 61.1 305.9 61.3 304.8 61.5 303.6 61.7 302.4 61.9 301.2 62.1 300.0 62.4 298.8 62.6 297.6 62.9 296.5 63.1 295.3 63.4 294.1 63.6 292.9 63.9 291.8 64.2 290.6 64.5 289.4 64.9 288.3 65.6 287.3 66.8 287.3 68.0 287.6 69.0 287.1 69.7 286.1 70.2 285.0 70.5 283.9 70.8 282.7 71.2 281.6 71.5 280.4 71.9 279.3 72.2 278.1 72.6 277.0 73.1 275.8 73.5 274.7 74.1 273.7 74.8 272.7 75.8 272.1 77.0 272.3 78.0 273.0 78.8 273.9 79.6 274.8 80.3 275.8 80.9 276.8 81.4 277.9 81.9 279.0 82.3 280.1 82.7 281.3 83.1 282.4 83.4 283.6 83.7 284.8 83.9 285.9 84.2 287.1 84.5 288.3 84.7 289.5 85.0 290.6 85.2 291.8 85.4 293.0 85.7 294.2 85.9 295.4 86.2 296.5 86.4 297.7 86.6 298.9 86.9 300.1 87.1 301.3 87.4 302.4 87.7 303.6 87.9 304.8 88.2 306.0 88.5 307.1 88.8 308.3 89.1 309.5 89.4 310.6 89.7 311.8 90.1 312.9 90.4 314.1 90.8 315.2 91.1 316.4 91.5 317.5 91.9 318.7 92.2 319.8 92.6 321.0 93.0 322.1 93.4 323.3 93.8 324.4 94.2 325.5 94.5 326.7 94.9 327.8 95.3 329.0 95.7 330.1 96.1 331.3 96.4 332.4 96.8 333.6 97.1 334.7 97.5 335.9 97.8 337.0 98.2 338.2 98.5 339.3 98.9 340.5 99.2 341.6 99.5 342.8 99.9 343.9 100.2 345.1 100.6 346.3 100.9 347.4 101.3 348.6 101.7 349.7 102.0 350.8 102.4 352.0 102.8 353.1 103.2 354.3 103.6 355.4 104.1 356.5 104.5 357.6 104.9 358.8 105.4 359.9 105.9 361.0 106.3 362.1 106.8 363.2 107.3 364.3 107.8 365.4 108.3 366.5 108.8 367.6 109.3 368.7 109.7 369.8 110.2 370.9 110.7 372.0 111.2 373.1 111.8 374.2 112.3 375.3 112.8 376.4 113.3 377.4 113.9 378.5 114.4 379.6 115.0 380.7 115.6 381.7 116.2 382.8 116.8 383.8 117.4 384.8 118.0 385.9 118.7 386.9 119.3 387.9 120.0 388.9 120.7 389.8 121.5 390.8 122.2 391.7 123.0 392.7 123.8 393.6 124.6 394.5 125.4 395.3 126.3 396.1 127.2 396.9 128.1 397.7 129.1 398.5 130.1 399.2 131.1 399.8 132.1 400.4 133.2 401.0 134.2 401.6 135.3 402.1 136.4 402.6 137.5 403.1 138.6 403.5 139.8 403.9 140.9 404.3 142.1 404.7 143.2 405.0 144.4 405.3 145.5 405.6 146.7 405.9 147.9 406.2 149.1 406.4 150.3 406.7 151.4 406.9 152.6 407.1 153.8 407.3 155.0 407.5 156.2 407.7 157.4 407.9 158.6 408.1 159.8 408.3 161.0 408.4 162.1 408.6 163.3 408.7 164.5 408.9 165.7 409.0 166.9 409.1 168.1 409.3 169.3 409.4 170.5 409.5 171.7 409.6 172.9 409.7 174.1 409.8 175.3 409.9 176.5 410.0 177.7 410.1 178.9 410.2 180.1 410.3 181.3 410.4 182.5 410.4 183.7 410.5 184.9 410.6 186.1 410.7 187.3 410.7 188.6 410.8 189.8 410.9 191.0 410.9 192.2 411.0 193.4 411.1 194.6 411.1 195.8 411.2 197.0 411.2 198.2 411.3 199.4 411.3 200.6 411.4 201.8 411.4 203.0 411.5 204.2 411.5 205.4 411.6 206.6 411.6 207.8 411.7 209.0 411.7 210.2 411.7 211.4 411.8 212.6 411.8 213.8 411.9 215.0 411.9 216.2 411.9 217.4 412.0 218.6 412.0 219.8 412.0 221.1 412.1 222.3 412.1 223.5 412.1 224.7 412.2" fill="none" stroke="#ED7D31" stroke-width="1.5" stroke-linejoin="round"/><path d="M46.9 327.0 46.9 328.2 46.9 329.4 46.9 330.6 46.9 331.8 46.9 333.0 46.9 334.2 46.9 335.4 47.0 336.6 47.0 337.8 47.0 339.0 47.0 340.2 47.0 341.4 47.0 342.6 47.0 343.8 47.0 345.0 47.1 346.2 47.1 347.4 47.1 348.6 47.1 349.8 47.1 351.1 47.1 352.3 47.1 353.5 47.1 354.7 47.1 355.9 47.1 357.1 47.1 358.3 47.2 359.5 47.2 360.7 47.2 361.9 47.2 363.1 47.2 364.3 47.2 365.5 47.2 366.7 47.2 367.9 47.2 369.1 47.2 370.3 47.2 371.5 47.2 372.7 47.2 373.9 47.2 375.1 47.3 376.3 47.3 377.5 47.3 378.7 47.3 379.9 47.3 381.1 47.4 382.3 47.4 383.5 47.4 384.7 47.5 386.0 47.5 387.2 47.6 388.4 47.6 389.6 47.6 390.8 47.7 392.0 47.7 393.2 47.7 394.4 47.7 395.6 47.7 396.8 47.7 398.0 47.7 399.2 47.7 400.4 47.7 401.6 47.7 402.8 47.8 404.0 48.2 405.1 48.9 406.1 50.0 406.3 50.6 405.3 51.0 404.1 51.2 402.9 51.5 401.7 51.7 400.6 51.8 399.4 52.0 398.2 52.2 397.0 52.3 395.8 52.5 394.6 52.6 393.4 52.8 392.2 52.9 391.0 53.0 389.8 53.1 388.6 53.2 387.4 53.3 386.2 53.4 385.0 53.5 383.8 53.6 382.6 53.6 381.4 53.7 380.2 53.8 379.0 53.9 377.8 53.9 376.6 54.0 375.4 54.1 374.2 54.1 373.0 54.2 371.8 54.3 370.6 54.4 369.4 54.4 368.2 54.5 367.0 54.6 365.8 54.7 364.6 54.7 363.4 54.8 362.2 54.9 361.0 55.0 359.8 55.1 358.6 55.2 357.4 55.3 356.2 55.3 355.0 55.4 353.8 55.5 352.6 55.6 351.4 55.7 350.2 55.8 349.0 55.9 347.8 56.0 346.6 56.1 345.4 56.1 344.2 56.2 343.0 56.3 341.8 56.4 340.6 56.5 339.4 56.6 338.2 56.7 337.0 56.8 335.8 56.9 334.6 57.0 333.4 57.1 332.2 57.1 331.0 57.2 329.8 57.3 328.6 57.4 327.4 57.5 326.2 57.6 325.0 57.7 323.8 57.7 322.6 57.8 321.4 57.9 320.2 58.0 319.0 58.1 317.8 58.1 316.6 58.2 315.4 58.3 314.2 58.4 313.0 58.5 311.8 58.5 310.6 58.6 309.4 58.7 308.2 58.8 307.0 58.9 305.8 59.0 304.6 59.1 303.4 59.3 302.2 59.4 301.0 59.6 299.8 59.7 298.6 59.9 297.4 60.1 296.2 60.3 295.0 60.6 293.9 60.9 292.7 61.1 291.5 61.5 290.4 61.8 289.2 62.2 288.1 62.6 286.9 63.0 285.8 63.5 284.7 64.3 283.9 65.5 284.1 66.4 284.8 67.3 285.6 68.2 286.4 69.3 286.7 69.8 285.6 70.1 284.4 70.4 283.3 70.7 282.1 71.0 281.0 71.4 279.8 71.8 278.7 72.2 277.5 72.6 276.4 73.1 275.3 73.6 274.2 74.2 273.2 74.9 272.2 76.0 272.2 76.8 273.1 77.4 274.2 78.0 275.2 78.6 276.2 79.2 277.3 79.7 278.4 80.2 279.5 80.6 280.6 81.0 281.8 81.4 282.9 81.8 284.0 82.2 285.2 82.5 286.3 82.8 287.5 83.1 288.7 83.3 289.9 83.6 291.0 83.8 292.2 84.0 293.4 84.3 294.6 84.5 295.8 84.6 297.0 84.8 298.1 85.0 299.3 85.2 300.5 85.4 301.7 85.5 302.9 85.7 304.1 85.9 305.3 86.1 306.5 86.2 307.7 86.4 308.9 86.6 310.0 86.8 311.2 87.1 312.4 87.3 313.6 87.5 314.8 87.8 315.9 88.1 317.1 88.4 318.3 88.7 319.4 89.1 320.6 89.4 321.7 89.8 322.9 90.2 324.0 90.6 325.2 91.0 326.3 91.4 327.4 91.7 328.6 92.1 329.7 92.5 330.9 92.9 332.0 93.3 333.1 93.6 334.3 94.0 335.4 94.3 336.6 94.7 337.7 95.0 338.9 95.4 340.1 95.7 341.2 96.1 342.4 96.4 343.5 96.8 344.7 97.1 345.8 97.5 347.0 97.8 348.1 98.2 349.3 98.6 350.4 98.9 351.6 99.3 352.7 99.7 353.8 100.1 355.0 100.5 356.1 100.9 357.2 101.3 358.4 101.7 359.5 102.2 360.6 102.6 361.7 103.1 362.8 103.6 364.0 104.0 365.1 104.5 366.2 105.0 367.2 105.6 368.3 106.1 369.4 106.6 370.5 107.2 371.6 107.7 372.6 108.3 373.7 108.9 374.7 109.5 375.8 110.1 376.8 110.7 377.9 111.3 378.9 111.9 379.9 112.6 381.0 113.2 382.0 113.9 383.0 114.5 384.0 115.2 385.0 115.9 386.0 116.6 387.0 117.3 387.9 118.0 388.9 118.7 389.9 119.5 390.8 120.2 391.7 121.0 392.6 121.8 393.5 122.7 394.4 123.5 395.2 124.4 396.1 125.3 396.9 126.2 397.6 127.2 398.4 128.1 399.1 129.1 399.8 130.1 400.4 131.2 401.1 132.2 401.7 133.3 402.2 134.3 402.8 135.4 403.3 136.5 403.8 137.6 404.3 138.7 404.7 139.9 405.2 141.0 405.6 142.1 405.9 143.3 406.3 144.4 406.6 145.6 407.0 146.8 407.3 147.9 407.5 149.1 407.8 150.3 408.0 151.5 408.3 152.7 408.5 153.9 408.7 155.0 408.8 156.2 409.0 157.4 409.2 158.6 409.3 159.8 409.5 161.0 409.6 162.2 409.7 163.4 409.8 164.6 409.9 165.8 410.0 167.0 410.1 168.2 410.2 169.4 410.3 170.6 410.4 171.8 410.5 173.0 410.6 174.2 410.7 175.4 410.8 176.6 410.8 177.8 410.9 179.0 411.0 180.2 411.0 181.4 411.1 182.6 411.2 183.8 411.2 185.0 411.3 186.2 411.4 187.4 411.4 188.6 411.5 189.8 411.5 191.0 411.5 192.2 411.6 193.4 411.6 194.6 411.7 195.8 411.7 197.1 411.8 198.3 411.8 199.5 411.8 200.7 411.8 201.9 411.9 203.1 411.9 204.3 411.9 205.5 412.0 206.7 412.0 207.9 412.0 209.1 412.0 210.3 412.1 211.5 412.1 212.7 412.1 213.9 412.1 215.1 412.1 216.3 412.1 217.5 412.2 218.7 412.2 219.9 412.2 221.1 412.2 222.3 412.2 223.5 412.2 224.7 412.2" fill="none" stroke="#5B9BD5" stroke-width="1.5" stroke-linejoin="round"/><path d="M46.9 400.1 47.1 401.3 47.2 402.5 47.3 403.7 47.4 404.9 47.6 406.1 48.1 407.2 49.2 407.6 50.2 406.9 50.7 405.8 51.0 404.6 51.3 403.4 51.5 402.3 51.7 401.1 51.9 399.9 52.1 398.7 52.3 397.5 52.4 396.3 52.6 395.1 52.7 393.9 52.8 392.7 52.9 391.5 53.0 390.3 53.2 389.1 53.3 387.9 53.4 386.7 53.5 385.5 53.6 384.3 53.6 383.1 53.7 381.9 53.8 380.7 53.9 379.5 54.0 378.3 54.1 377.1 54.2 375.9 54.2 374.7 54.3 373.5 54.4 372.3 54.5 371.1 54.6 369.9 54.6 368.7 54.7 367.5 54.8 366.3 54.8 365.1 54.9 363.9 55.0 362.7 55.0 361.5 55.1 360.3 55.2 359.1 55.2 357.9 55.3 356.7 55.4 355.5 55.5 354.3 55.5 353.1 55.6 351.9 55.7 350.7 55.7 349.5 55.8 348.3 55.9 347.1 55.9 345.9 56.0 344.7 56.1 343.5 56.2 342.3 56.2 341.1 56.3 339.9 56.4 338.7 56.5 337.4 56.6 336.2 56.6 335.0 56.7 333.8 56.8 332.6 56.9 331.4 57.0 330.2 57.1 329.0 57.2 327.8 57.3 326.6 57.4 325.4 57.5 324.2 57.6 323.0 57.7 321.8 57.8 320.6 58.0 319.4 58.1 318.2 58.2 317.0 58.3 315.9 58.5 314.7 58.6 313.5 58.7 312.3 58.9 311.1 59.0 309.9 59.2 308.7 59.3 307.5 59.5 306.3 59.7 305.1 59.8 303.9 60.0 302.7 60.2 301.5 60.4 300.3 60.6 299.1 60.8 298.0 61.0 296.8 61.2 295.6 61.4 294.4 61.6 293.2 61.8 292.0 62.1 290.8 62.4 289.7 62.7 288.5 63.0 287.4 63.4 286.2 63.9 285.1 64.6 284.1 65.6 283.6 66.5 284.4 67.1 285.4 67.6 286.5 68.0 287.6 68.5 288.7 69.0 289.8 69.8 289.4 70.2 288.3 70.4 287.1 70.6 285.9 70.8 284.7 71.1 283.5 71.3 282.4 71.6 281.2 72.0 280.1 72.4 278.9 72.7 277.8 73.1 276.6 73.5 275.5 73.9 274.3 74.4 273.3 75.2 272.3 76.2 272.7 77.0 273.6 77.6 274.6 78.3 275.7 78.9 276.7 79.4 277.8 79.9 278.9 80.4 280.0 80.7 281.1 81.1 282.3 81.4 283.4 81.7 284.6 82.0 285.8 82.3 286.9 82.6 288.1 82.9 289.3 83.1 290.5 83.4 291.6 83.6 292.8 83.8 294.0 84.1 295.2 84.3 296.4 84.5 297.6 84.7 298.7 85.0 299.9 85.2 301.1 85.4 302.3 85.7 303.5 85.9 304.7 86.1 305.8 86.4 307.0 86.7 308.2 86.9 309.4 87.2 310.5 87.5 311.7 87.8 312.9 88.1 314.0 88.4 315.2 88.7 316.4 89.1 317.5 89.4 318.7 89.7 319.8 90.1 321.0 90.4 322.1 90.8 323.3 91.1 324.4 91.5 325.6 91.8 326.8 92.2 327.9 92.5 329.1 92.9 330.2 93.2 331.4 93.6 332.5 94.0 333.7 94.3 334.8 94.7 335.9 95.0 337.1 95.4 338.2 95.8 339.4 96.1 340.5 96.5 341.7 96.9 342.8 97.2 344.0 97.6 345.1 98.0 346.3 98.4 347.4 98.7 348.6 99.1 349.7 99.5 350.8 99.9 352.0 100.3 353.1 100.6 354.3 101.0 355.4 101.4 356.6 101.8 357.7 102.2 358.8 102.6 360.0 103.0 361.1 103.4 362.2 103.8 363.4 104.3 364.5 104.7 365.6 105.1 366.7 105.6 367.9 106.0 369.0 106.5 370.1 106.9 371.2 107.4 372.3 107.9 373.4 108.4 374.5 108.9 375.6 109.4 376.7 110.0 377.8 110.5 378.8 111.1 379.9 111.6 381.0 112.2 382.0 112.8 383.1 113.4 384.1 114.1 385.1 114.7 386.1 115.4 387.1 116.1 388.1 116.8 389.1 117.5 390.1 118.2 391.0 119.0 392.0 119.7 392.9 120.5 393.8 121.4 394.7 122.2 395.5 123.1 396.4 124.0 397.2 124.9 398.0 125.8 398.7 126.8 399.4 127.8 400.1 128.8 400.8 129.8 401.4 130.8 402.0 131.9 402.6 133.0 403.1 134.1 403.7 135.2 404.2 136.3 404.6 137.4 405.1 138.5 405.5 139.7 405.9 140.8 406.2 142.0 406.6 143.1 406.9 144.3 407.2 145.5 407.5 146.6 407.8 147.8 408.0 149.0 408.3 150.2 408.5 151.4 408.7 152.5 408.9 153.7 409.1 154.9 409.3 156.1 409.5 157.3 409.6 158.5 409.8 159.7 409.9 160.9 410.0 162.1 410.1 163.3 410.2 164.5 410.3 165.7 410.4 166.9 410.5 168.1 410.6 169.3 410.7 170.5 410.8 171.7 410.8 172.9 410.9 174.1 410.9 175.3 411.0 176.5 411.1 177.7 411.1 178.9 411.2 180.1 411.2 181.3 411.3 182.5 411.3 183.7 411.4 185.0 411.4 186.2 411.5 187.4 411.5 188.6 411.6 189.8 411.6 191.0 411.6 192.2 411.7 193.4 411.7 194.6 411.8 195.8 411.8 197.0 411.8 198.2 411.8 199.4 411.9 200.6 411.9 201.8 411.9 203.0 412.0 204.2 412.0 205.4 412.0 206.6 412.0 207.8 412.1 209.0 412.1 210.2 412.1 211.4 412.1 212.6 412.1 213.8 412.1 215.1 412.2 216.3 412.2 217.5 412.2 218.7 412.2 219.9 412.2 221.1 412.2 222.3 412.2 223.5 412.2 224.7 412.2" fill="none" stroke="#7030A0" stroke-width="1.5" stroke-linejoin="round"/><path d="M46.9 393.0 47.0 394.2 47.0 395.4 47.1 396.6 47.2 397.8 47.3 399.0 47.4 400.2 47.5 401.4 47.5 402.6 47.6 403.8 47.6 405.0 47.7 406.2 48.0 407.4 49.0 407.6 50.0 407.0 50.6 405.9 50.9 404.8 51.0 403.6 51.1 402.4 51.2 401.2 51.4 400.0 51.5 398.8 51.7 397.6 51.8 396.4 52.0 395.2 52.1 394.0 52.2 392.8 52.3 391.6 52.4 390.4 52.6 389.2 52.7 388.0 52.8 386.8 52.9 385.6 53.0 384.4 53.1 383.2 53.1 382.0 53.2 380.8 53.3 379.6 53.4 378.4 53.5 377.2 53.6 376.0 53.6 374.8 53.7 373.6 53.8 372.4 53.9 371.2 54.0 370.0 54.0 368.8 54.1 367.6 54.2 366.4 54.3 365.1 54.3 363.9 54.4 362.7 54.5 361.5 54.6 360.3 54.7 359.1 54.7 357.9 54.8 356.7 54.9 355.5 55.0 354.3 55.1 353.1 55.1 351.9 55.2 350.7 55.3 349.5 55.4 348.3 55.5 347.1 55.5 345.9 55.6 344.7 55.7 343.5 55.8 342.3 55.9 341.1 55.9 339.9 56.0 338.7 56.1 337.5 56.2 336.3 56.3 335.1 56.4 333.9 56.5 332.7 56.6 331.5 56.6 330.3 56.7 329.1 56.8 327.9 56.9 326.7 57.0 325.5 57.1 324.3 57.2 323.1 57.3 321.9 57.4 320.7 57.5 319.5 57.6 318.3 57.7 317.1 57.8 315.9 57.9 314.7 58.0 313.5 58.1 312.3 58.2 311.1 58.3 309.9 58.4 308.7 58.5 307.5 58.6 306.3 58.7 305.1 58.8 303.9 58.9 302.7 59.0 301.5 59.2 300.3 59.3 299.1 59.4 297.9 59.5 296.7 59.6 295.5 59.8 294.3 59.9 293.1 60.0 291.9 60.2 290.7 60.3 289.5 60.5 288.3 60.7 287.1 60.9 285.9 61.1 284.7 61.3 283.6 61.6 282.4 61.8 281.2 62.1 280.0 62.4 278.9 62.8 277.7 63.4 276.7 64.4 276.1 65.4 276.8 66.1 277.7 66.7 278.8 67.2 279.9 67.5 281.0 67.8 282.2 68.0 283.4 68.3 284.6 69.0 285.5 69.6 284.5 69.9 283.3 70.2 282.1 70.5 281.0 70.8 279.8 71.1 278.6 71.5 277.5 71.9 276.4 72.4 275.3 72.9 274.2 73.6 273.2 74.5 272.4 75.6 272.6 76.5 273.4 77.2 274.4 77.8 275.5 78.3 276.5 78.9 277.6 79.4 278.7 79.8 279.8 80.3 281.0 80.7 282.1 81.1 283.2 81.4 284.4 81.7 285.6 82.1 286.7 82.4 287.9 82.6 289.1 82.9 290.2 83.1 291.4 83.3 292.6 83.6 293.8 83.8 295.0 84.0 296.2 84.1 297.3 84.3 298.5 84.5 299.7 84.7 300.9 84.8 302.1 85.0 303.3 85.1 304.5 85.3 305.7 85.5 306.9 85.7 308.1 85.9 309.3 86.1 310.5 86.3 311.6 86.5 312.8 86.8 314.0 87.1 315.2 87.4 316.3 87.7 317.5 88.0 318.7 88.3 319.8 88.7 321.0 89.0 322.1 89.4 323.3 89.8 324.4 90.1 325.6 90.5 326.7 90.9 327.9 91.2 329.0 91.6 330.2 92.0 331.3 92.3 332.5 92.7 333.6 93.1 334.8 93.4 335.9 93.8 337.0 94.2 338.2 94.5 339.3 94.9 340.5 95.2 341.6 95.6 342.8 96.0 343.9 96.3 345.1 96.7 346.2 97.1 347.4 97.4 348.5 97.8 349.7 98.2 350.8 98.5 352.0 98.9 353.1 99.3 354.3 99.7 355.4 100.1 356.5 100.5 357.7 100.9 358.8 101.3 359.9 101.7 361.1 102.1 362.2 102.5 363.3 103.0 364.5 103.4 365.6 103.8 366.7 104.3 367.8 104.8 368.9 105.2 370.0 105.7 371.1 106.2 372.2 106.7 373.3 107.2 374.4 107.7 375.5 108.3 376.6 108.8 377.7 109.4 378.8 109.9 379.8 110.5 380.9 111.1 381.9 111.7 383.0 112.3 384.0 113.0 385.0 113.6 386.0 114.3 387.0 115.0 388.0 115.7 389.0 116.4 390.0 117.2 390.9 117.9 391.8 118.7 392.7 119.5 393.6 120.3 394.5 121.2 395.4 122.0 396.2 122.9 397.0 123.8 397.8 124.8 398.6 125.7 399.3 126.7 400.1 127.7 400.7 128.7 401.4 129.7 402.0 130.7 402.7 131.8 403.2 132.9 403.8 133.9 404.3 135.0 404.8 136.2 405.2 137.3 405.7 138.4 406.1 139.6 406.4 140.7 406.8 141.9 407.1 143.1 407.4 144.2 407.7 145.4 407.9 146.6 408.1 147.8 408.4 149.0 408.6 150.2 408.8 151.3 409.0 152.5 409.2 153.7 409.3 154.9 409.5 156.1 409.6 157.3 409.8 158.5 409.9 159.7 410.1 160.9 410.2 162.1 410.3 163.3 410.4 164.5 410.5 165.7 410.6 166.9 410.7 168.1 410.8 169.3 410.9 170.5 410.9 171.7 411.0 172.9 411.1 174.1 411.1 175.3 411.2 176.5 411.3 177.7 411.3 178.9 411.4 180.1 411.4 181.3 411.5 182.5 411.5 183.7 411.6 185.0 411.6 186.2 411.6 187.4 411.7 188.6 411.7 189.8 411.7 191.0 411.8 192.2 411.8 193.4 411.8 194.6 411.9 195.8 411.9 197.0 411.9 198.2 411.9 199.4 411.9 200.6 412.0 201.8 412.0 203.0 412.0 204.2 412.0 205.4 412.0 206.6 412.1 207.8 412.1 209.0 412.1 210.2 412.1 211.4 412.1 212.7 412.1 213.9 412.1 215.1 412.2 216.3 412.2 217.5 412.2 218.7 412.2 219.9 412.2 221.1 412.2 222.3 412.3 223.5 412.3 224.7 412.3" fill="none" stroke="#4472C4" stroke-width="1.5" stroke-linejoin="round"/><path d="M272.3 400.1 272.5 401.3 272.6 402.5 272.7 403.7 272.9 404.9 273.1 406.1 273.5 407.2 273.9 408.3 274.6 409.3 275.7 409.5 276.6 408.7 277.3 407.7 277.9 406.7 278.4 405.6 278.8 404.5 279.2 403.3 279.5 402.1 279.7 400.9 279.9 399.8 280.1 398.6 280.3 397.4 280.4 396.2 280.5 395.0 280.7 393.8 280.8 392.6 280.9 391.4 281.0 390.2 281.1 389.0 281.2 387.8 281.3 386.6 281.4 385.4 281.5 384.2 281.6 382.9 281.7 381.7 281.8 380.5 281.9 379.3 282.0 378.1 282.0 376.9 282.1 375.7 282.2 374.5 282.3 373.3 282.3 372.1 282.4 370.9 282.5 369.7 282.6 368.5 282.7 367.3 282.7 366.1 282.8 364.9 282.9 363.7 283.0 362.5 283.0 361.3 283.1 360.1 283.2 358.9 283.3 357.6 283.4 356.4 283.5 355.2 283.6 354.0 283.7 352.8 283.8 351.6 283.9 350.4 284.0 349.2 284.1 348.0 284.2 346.8 284.3 345.6 284.4 344.4 284.5 343.2 284.7 342.0 284.8 340.8 284.9 339.6 285.1 338.4 285.2 337.2 285.3 336.0 285.5 334.8 285.6 333.6 285.8 332.4 286.0 331.2 286.1 330.0 286.3 328.8 286.5 327.6 286.7 326.5 286.9 325.3 287.1 324.1 287.3 322.9 287.5 321.7 287.7 320.5 288.0 319.3 288.2 318.1 288.5 317.0 288.8 315.8 289.0 314.6 289.3 313.4 289.6 312.3 290.0 311.1 290.3 310.0 290.7 308.8 291.0 307.7 291.4 306.5 291.8 305.4 292.2 304.2 292.7 303.1 293.1 302.0 293.6 300.9 294.1 299.8 294.6 298.7 295.2 297.6 295.7 296.5 296.2 295.4 296.7 294.3 297.2 293.2 297.6 292.1 298.1 291.0 298.5 289.8 298.8 288.7 299.1 287.5 299.3 286.3 299.5 285.1 299.7 283.9 300.0 282.8 300.2 281.6 300.5 280.4 300.9 279.3 301.3 278.1 301.8 277.0 302.3 276.0 303.0 274.9 303.8 274.0 304.6 273.2 305.6 272.5 306.8 272.1 308.0 272.2 309.0 272.8 309.6 273.8 310.1 274.9 310.6 276.0 311.0 277.2 311.4 278.3 311.8 279.5 312.1 280.6 312.5 281.8 312.9 282.9 313.3 284.0 313.6 285.2 314.0 286.3 314.5 287.5 314.9 288.6 315.4 289.7 315.9 290.8 316.4 291.9 316.9 293.0 317.5 294.1 318.0 295.1 318.5 296.2 319.1 297.3 319.6 298.4 320.2 299.4 320.7 300.5 321.3 301.6 321.8 302.7 322.4 303.7 322.9 304.8 323.4 305.9 323.9 307.0 324.4 308.1 324.8 309.3 325.3 310.4 325.7 311.5 326.1 312.7 326.5 313.8 326.8 315.0 327.2 316.1 327.5 317.3 327.8 318.4 328.1 319.6 328.5 320.8 328.8 321.9 329.0 323.1 329.3 324.3 329.6 325.4 329.9 326.6 330.2 327.8 330.5 329.0 330.8 330.1 331.1 331.3 331.4 332.5 331.7 333.6 332.0 334.8 332.4 336.0 332.7 337.1 333.0 338.3 333.4 339.4 333.8 340.6 334.1 341.7 334.5 342.9 334.9 344.0 335.3 345.2 335.7 346.3 336.1 347.4 336.5 348.6 337.0 349.7 337.4 350.8 337.8 352.0 338.3 353.1 338.7 354.2 339.2 355.3 339.6 356.4 340.1 357.6 340.5 358.7 341.0 359.8 341.4 360.9 341.9 362.0 342.4 363.1 342.9 364.2 343.3 365.3 343.8 366.4 344.3 367.5 344.8 368.6 345.3 369.7 345.9 370.8 346.4 371.9 346.9 373.0 347.4 374.1 348.0 375.2 348.5 376.2 349.1 377.3 349.7 378.4 350.2 379.4 350.8 380.5 351.4 381.5 352.0 382.6 352.6 383.6 353.3 384.7 353.9 385.7 354.6 386.7 355.2 387.7 355.9 388.7 356.6 389.7 357.3 390.6 358.1 391.6 358.8 392.5 359.6 393.5 360.4 394.4 361.2 395.3 362.0 396.2 362.9 397.0 363.7 397.9 364.6 398.7 365.5 399.5 366.5 400.3 367.4 401.0 368.4 401.7 369.3 402.4 370.3 403.1 371.3 403.8 372.4 404.4 373.4 405.0 374.5 405.6 375.5 406.2 376.6 406.7 377.7 407.3 378.8 407.7 379.9 408.2 381.1 408.6 382.2 409.0 383.3 409.4 384.5 409.8 385.7 410.1 386.8 410.4 388.0 410.6 389.2 410.9 390.4 411.1 391.6 411.2 392.8 411.4 394.0 411.5 395.2 411.6 396.4 411.7 397.6 411.8 398.8 411.9 400.0 411.9 401.2 412.0 402.4 412.0 403.6 412.0 404.8 412.0 406.0 412.1 407.2 412.1 408.4 412.1 409.7 412.1 410.9 412.1 412.1 412.1 413.3 412.1 414.5 412.1 415.7 412.1 416.9 412.1 418.1 412.1 419.3 412.1 420.5 412.1 421.7 412.1 422.9 412.2 424.1 412.2 425.3 412.2 426.6 412.2 427.8 412.2 429.0 412.2 430.2 412.2 431.4 412.2 432.6 412.2 433.8 412.2 435.0 412.3 436.2 412.3 437.4 412.3 438.6 412.3 439.8 412.3 441.0 412.3 442.2 412.3 443.5 412.3 444.7 412.3 445.9 412.3 447.1 412.3 448.3 412.4 449.5 412.4 450.7 412.4 451.9 412.4 453.1 412.4 454.3 412.4 455.5 412.4" fill="none" stroke="#B8860B" stroke-width="1.5" stroke-dasharray="3 1.8" stroke-linejoin="round"/><path d="M271.9 388.4 272.0 389.6 272.0 390.8 272.1 392.0 272.2 393.2 272.3 394.4 272.3 395.6 272.4 396.8 272.5 398.0 272.6 399.2 272.7 400.4 272.8 401.6 272.8 402.8 272.9 404.0 273.1 405.2 273.4 406.4 273.8 407.5 274.4 408.6 275.2 409.4 276.3 409.4 277.0 408.4 277.5 407.3 277.9 406.2 278.4 405.0 278.7 403.9 279.1 402.7 279.4 401.6 279.7 400.4 279.9 399.2 280.1 398.0 280.3 396.8 280.5 395.7 280.7 394.5 280.8 393.3 281.0 392.1 281.1 390.9 281.2 389.7 281.3 388.5 281.4 387.3 281.5 386.1 281.5 384.9 281.6 383.6 281.7 382.4 281.8 381.2 281.9 380.0 281.9 378.8 282.0 377.6 282.1 376.4 282.2 375.2 282.3 374.0 282.4 372.8 282.4 371.6 282.5 370.4 282.6 369.2 282.7 368.0 282.8 366.8 282.9 365.6 283.0 364.4 283.1 363.2 283.2 362.0 283.3 360.8 283.4 359.6 283.5 358.4 283.7 357.2 283.8 356.0 283.9 354.8 284.0 353.6 284.1 352.4 284.2 351.2 284.4 350.0 284.5 348.8 284.6 347.6 284.7 346.4 284.9 345.2 285.0 344.0 285.1 342.8 285.3 341.6 285.4 340.4 285.6 339.2 285.7 338.0 285.8 336.8 286.0 335.6 286.1 334.4 286.3 333.2 286.5 332.1 286.6 330.9 286.8 329.7 287.0 328.5 287.1 327.3 287.3 326.1 287.5 324.9 287.7 323.7 287.9 322.5 288.1 321.3 288.3 320.1 288.6 319.0 288.8 317.8 289.1 316.6 289.3 315.4 289.6 314.3 289.9 313.1 290.2 311.9 290.5 310.8 290.9 309.6 291.2 308.4 291.6 307.3 291.9 306.2 292.3 305.0 292.8 303.9 293.2 302.8 293.6 301.6 294.1 300.5 294.5 299.4 295.0 298.3 295.5 297.2 296.0 296.1 296.5 295.0 297.1 293.9 297.6 292.8 298.1 291.7 298.5 290.6 299.0 289.5 299.4 288.4 299.7 287.2 300.0 286.0 300.2 284.8 300.4 283.7 300.6 282.5 300.7 281.3 300.9 280.1 301.1 278.9 301.3 277.7 301.6 276.5 302.1 275.4 302.6 274.3 303.3 273.3 304.1 272.5 305.1 271.8 306.3 271.5 307.4 271.6 308.5 272.1 309.4 273.0 310.0 274.0 310.5 275.1 310.8 276.3 311.2 277.4 311.6 278.5 312.1 279.7 312.5 280.8 313.0 281.9 313.5 283.0 314.1 284.1 314.6 285.1 315.2 286.2 315.7 287.3 316.3 288.3 316.9 289.4 317.5 290.4 318.1 291.5 318.6 292.6 319.2 293.6 319.8 294.7 320.3 295.8 320.8 296.9 321.3 297.9 321.8 299.1 322.3 300.2 322.7 301.3 323.1 302.4 323.5 303.6 323.9 304.7 324.3 305.8 324.7 307.0 325.1 308.1 325.4 309.3 325.8 310.4 326.2 311.6 326.5 312.7 326.9 313.9 327.3 315.0 327.7 316.1 328.1 317.3 328.5 318.4 328.9 319.6 329.3 320.7 329.7 321.8 330.1 323.0 330.5 324.1 330.9 325.2 331.4 326.4 331.8 327.5 332.2 328.6 332.6 329.7 333.1 330.9 333.5 332.0 334.0 333.1 334.4 334.2 334.8 335.3 335.3 336.5 335.7 337.6 336.2 338.7 336.7 339.8 337.1 340.9 337.6 342.0 338.1 343.1 338.5 344.2 339.0 345.4 339.5 346.5 340.0 347.6 340.5 348.7 341.0 349.8 341.5 350.8 342.0 351.9 342.5 353.0 343.0 354.1 343.6 355.2 344.1 356.3 344.6 357.4 345.2 358.4 345.7 359.5 346.3 360.6 346.8 361.7 347.4 362.7 348.0 363.8 348.6 364.8 349.2 365.9 349.8 366.9 350.4 368.0 351.0 369.0 351.6 370.0 352.2 371.1 352.9 372.1 353.5 373.1 354.2 374.1 354.8 375.1 355.5 376.1 356.2 377.1 356.9 378.1 357.6 379.1 358.3 380.1 359.0 381.0 359.8 382.0 360.5 382.9 361.2 383.9 362.0 384.8 362.8 385.7 363.6 386.6 364.4 387.6 365.2 388.5 366.0 389.3 366.8 390.2 367.6 391.1 368.5 391.9 369.4 392.8 370.3 393.6 371.2 394.4 372.1 395.1 373.0 395.9 374.0 396.6 375.0 397.3 376.0 398.0 377.0 398.7 378.0 399.3 379.0 399.9 380.1 400.5 381.1 401.1 382.2 401.7 383.3 402.2 384.4 402.7 385.5 403.2 386.6 403.7 387.7 404.2 388.8 404.6 389.9 405.1 391.1 405.5 392.2 405.9 393.3 406.3 394.5 406.6 395.6 407.0 396.8 407.3 398.0 407.6 399.1 407.9 400.3 408.2 401.5 408.5 402.7 408.7 403.8 409.0 405.0 409.2 406.2 409.4 407.4 409.6 408.6 409.8 409.8 410.0 411.0 410.2 412.2 410.4 413.4 410.5 414.5 410.6 415.7 410.8 416.9 410.9 418.1 411.0 419.3 411.1 420.5 411.2 421.8 411.3 423.0 411.4 424.2 411.4 425.4 411.5 426.6 411.6 427.8 411.6 429.0 411.7 430.2 411.7 431.4 411.8 432.6 411.8 433.8 411.8 435.0 411.9 436.2 411.9 437.4 411.9 438.6 411.9 439.8 411.9 441.0 412.0 442.2 412.0 443.4 412.0 444.6 412.0 445.8 412.0 447.0 412.1 448.3 412.1 449.5 412.1 450.7 412.1 451.9 412.1 453.1 412.2 454.3 412.2 455.5 412.2" fill="none" stroke="#5B9A3C" stroke-width="1.5" stroke-linejoin="round"/><path d="M272.2 398.1 272.4 399.2 272.5 400.4 272.6 401.7 272.7 402.9 272.8 404.1 273.0 405.2 273.3 406.4 273.7 407.6 274.2 408.6 275.1 409.4 276.3 409.2 277.1 408.4 277.8 407.4 278.3 406.3 278.7 405.1 279.0 404.0 279.2 402.8 279.5 401.6 279.7 400.4 279.9 399.2 280.1 398.0 280.3 396.8 280.4 395.6 280.6 394.4 280.7 393.2 280.8 392.0 281.0 390.8 281.1 389.6 281.2 388.4 281.3 387.2 281.4 386.0 281.5 384.8 281.6 383.6 281.7 382.4 281.8 381.2 281.9 380.0 282.0 378.8 282.0 377.6 282.1 376.4 282.2 375.2 282.3 374.0 282.4 372.8 282.5 371.6 282.6 370.4 282.7 369.2 282.8 368.0 282.9 366.8 283.0 365.6 283.1 364.4 283.2 363.2 283.3 362.0 283.4 360.8 283.5 359.6 283.6 358.3 283.7 357.1 283.8 355.9 283.9 354.7 284.0 353.5 284.1 352.3 284.3 351.1 284.4 349.9 284.5 348.7 284.6 347.5 284.7 346.3 284.9 345.1 285.0 343.9 285.1 342.7 285.3 341.5 285.4 340.3 285.6 339.1 285.7 337.9 285.8 336.7 286.0 335.5 286.1 334.3 286.3 333.1 286.4 331.9 286.6 330.7 286.8 329.5 286.9 328.3 287.1 327.2 287.3 326.0 287.4 324.8 287.6 323.6 287.8 322.4 288.1 321.2 288.3 320.0 288.6 318.8 288.9 317.7 289.2 316.5 289.6 315.4 290.1 314.2 290.5 313.1 291.1 312.0 291.6 311.0 292.2 309.9 292.8 308.9 293.4 307.8 294.0 306.8 294.6 305.7 295.2 304.7 295.7 303.6 296.2 302.5 296.6 301.3 297.0 300.2 297.4 299.0 297.7 297.9 298.0 296.7 298.3 295.6 298.6 294.4 298.9 293.2 299.2 292.0 299.4 290.8 299.7 289.7 299.9 288.5 300.2 287.3 300.5 286.1 300.8 285.0 301.1 283.8 301.5 282.7 301.9 281.5 302.3 280.4 302.7 279.2 303.2 278.1 303.7 277.0 304.2 275.9 304.7 274.8 305.3 273.8 306.0 272.8 306.9 272.1 308.1 271.9 309.2 272.5 310.0 273.3 310.7 274.3 311.2 275.4 311.6 276.6 312.0 277.7 312.3 278.9 312.7 280.0 313.1 281.1 313.6 282.3 314.1 283.3 314.7 284.4 315.3 285.4 316.0 286.4 316.7 287.5 317.3 288.5 318.0 289.5 318.6 290.5 319.3 291.5 319.9 292.6 320.5 293.6 321.0 294.7 321.6 295.8 322.1 296.9 322.6 297.9 323.1 299.0 323.6 300.2 324.1 301.3 324.5 302.4 325.0 303.5 325.5 304.6 326.0 305.7 326.4 306.8 326.9 307.9 327.3 309.1 327.8 310.2 328.3 311.3 328.7 312.4 329.2 313.5 329.6 314.6 330.1 315.8 330.5 316.9 331.0 318.0 331.4 319.1 331.9 320.2 332.3 321.4 332.8 322.5 333.2 323.6 333.7 324.7 334.1 325.8 334.6 327.0 335.0 328.1 335.5 329.2 336.0 330.3 336.4 331.4 336.9 332.6 337.3 333.7 337.8 334.8 338.3 335.9 338.7 337.0 339.2 338.1 339.7 339.2 340.1 340.4 340.6 341.5 341.1 342.6 341.6 343.7 342.0 344.8 342.5 345.9 343.0 347.0 343.5 348.1 344.0 349.2 344.5 350.3 345.0 351.4 345.5 352.5 346.0 353.6 346.5 354.7 347.1 355.8 347.6 356.8 348.1 357.9 348.7 359.0 349.2 360.1 349.8 361.2 350.4 362.2 350.9 363.3 351.5 364.3 352.1 365.4 352.7 366.4 353.3 367.5 353.9 368.5 354.5 369.6 355.2 370.6 355.8 371.6 356.5 372.6 357.1 373.6 357.8 374.6 358.5 375.6 359.2 376.6 359.9 377.6 360.6 378.6 361.4 379.5 362.1 380.5 362.9 381.4 363.7 382.3 364.4 383.2 365.2 384.2 366.0 385.1 366.9 385.9 367.7 386.8 368.5 387.7 369.4 388.5 370.3 389.4 371.2 390.2 372.1 391.0 373.0 391.8 373.9 392.5 374.8 393.3 375.8 394.1 376.7 394.8 377.7 395.5 378.7 396.2 379.7 396.9 380.7 397.6 381.7 398.2 382.7 398.9 383.8 399.5 384.8 400.1 385.9 400.7 386.9 401.3 388.0 401.8 389.1 402.3 390.2 402.9 391.3 403.4 392.4 403.8 393.5 404.3 394.6 404.7 395.8 405.1 396.9 405.6 398.0 405.9 399.2 406.3 400.3 406.7 401.5 407.0 402.7 407.3 403.8 407.6 405.0 407.9 406.2 408.2 407.4 408.5 408.5 408.7 409.7 409.0 410.9 409.2 412.1 409.4 413.3 409.6 414.5 409.8 415.7 409.9 416.9 410.1 418.1 410.2 419.3 410.4 420.5 410.5 421.7 410.6 422.9 410.7 424.1 410.8 425.3 410.9 426.5 411.0 427.7 411.1 428.9 411.1 430.1 411.2 431.3 411.3 432.5 411.3 433.7 411.4 434.9 411.4 436.1 411.5 437.4 411.5 438.6 411.5 439.8 411.6 441.0 411.6 442.2 411.6 443.4 411.7 444.6 411.7 445.8 411.7 447.0 411.8 448.2 411.8 449.4 411.8 450.6 411.9 451.8 411.9 453.0 411.9 454.2 412.0 455.5 412.0" fill="none" stroke="#FFC000" stroke-width="1.5" stroke-linejoin="round"/><path d="M271.8 371.0 271.8 372.2 271.8 373.4 271.8 374.6 271.9 375.8 271.9 377.0 271.9 378.2 271.9 379.4 271.9 380.6 272.0 381.8 272.0 383.0 272.0 384.2 272.0 385.4 272.1 386.6 272.1 387.9 272.1 389.1 272.2 390.3 272.2 391.5 272.3 392.7 272.3 393.9 272.4 395.1 272.5 396.3 272.5 397.5 272.6 398.7 272.7 399.9 272.8 401.1 272.9 402.3 273.0 403.5 273.1 404.7 273.3 405.9 273.6 407.1 274.0 408.2 274.7 409.1 275.8 409.5 276.9 408.9 277.6 407.9 278.1 406.8 278.6 405.7 279.0 404.6 279.2 403.4 279.5 402.2 279.6 401.0 279.8 399.8 279.9 398.6 280.1 397.4 280.2 396.2 280.4 395.0 280.5 393.8 280.6 392.6 280.8 391.4 280.9 390.2 281.0 389.0 281.1 387.8 281.3 386.6 281.4 385.4 281.5 384.2 281.6 383.0 281.7 381.8 281.9 380.6 282.0 379.4 282.1 378.2 282.2 377.0 282.3 375.8 282.4 374.6 282.5 373.4 282.6 372.2 282.7 371.0 282.9 369.8 283.0 368.6 283.1 367.4 283.2 366.2 283.3 365.0 283.4 363.8 283.5 362.6 283.6 361.4 283.7 360.2 283.9 359.0 284.0 357.8 284.1 356.6 284.2 355.4 284.3 354.2 284.4 353.0 284.6 351.8 284.7 350.6 284.8 349.4 284.9 348.2 285.1 347.0 285.2 345.8 285.3 344.6 285.5 343.4 285.6 342.2 285.8 341.0 285.9 339.8 286.1 338.6 286.2 337.4 286.4 336.2 286.5 335.0 286.7 333.9 286.9 332.7 287.0 331.5 287.2 330.3 287.4 329.1 287.6 327.9 287.8 326.7 288.0 325.5 288.2 324.3 288.4 323.1 288.6 321.9 288.8 320.8 289.1 319.6 289.4 318.4 289.7 317.2 290.0 316.1 290.4 314.9 290.8 313.8 291.3 312.7 291.8 311.6 292.3 310.5 292.9 309.5 293.5 308.4 294.1 307.4 294.7 306.3 295.3 305.3 295.8 304.2 296.3 303.1 296.8 302.0 297.3 300.9 297.6 299.7 297.9 298.6 298.2 297.4 298.4 296.2 298.6 295.0 298.7 293.8 298.9 292.6 299.1 291.4 299.3 290.2 299.5 289.0 299.8 287.9 300.1 286.7 300.4 285.5 300.8 284.4 301.2 283.3 301.5 282.1 301.8 280.9 302.1 279.8 302.4 278.6 302.8 277.4 303.2 276.3 303.7 275.2 304.3 274.2 305.0 273.2 305.8 272.3 306.8 271.6 307.9 271.3 309.1 271.3 310.2 271.8 311.1 272.5 311.9 273.5 312.4 274.6 312.8 275.7 313.2 276.9 313.6 278.0 314.1 279.1 314.7 280.1 315.4 281.1 316.2 282.0 317.0 282.9 317.8 283.9 318.6 284.8 319.3 285.7 320.1 286.6 320.8 287.6 321.5 288.6 322.2 289.6 322.8 290.6 323.5 291.6 324.1 292.7 324.7 293.7 325.2 294.8 325.8 295.9 326.3 297.0 326.8 298.1 327.3 299.2 327.7 300.3 328.2 301.4 328.6 302.5 329.1 303.6 329.5 304.8 329.9 305.9 330.3 307.0 330.7 308.2 331.1 309.3 331.5 310.4 331.9 311.6 332.3 312.7 332.7 313.8 333.1 315.0 333.5 316.1 334.0 317.3 334.4 318.4 334.8 319.5 335.2 320.7 335.6 321.8 336.0 322.9 336.5 324.0 336.9 325.2 337.4 326.3 337.8 327.4 338.3 328.5 338.8 329.6 339.3 330.7 339.8 331.8 340.3 332.9 340.8 334.0 341.3 335.1 341.9 336.2 342.4 337.2 343.0 338.3 343.6 339.3 344.1 340.4 344.7 341.4 345.3 342.5 345.9 343.5 346.6 344.6 347.2 345.6 347.8 346.6 348.4 347.7 349.1 348.7 349.7 349.7 350.3 350.8 351.0 351.8 351.6 352.8 352.2 353.8 352.9 354.9 353.5 355.9 354.1 356.9 354.8 357.9 355.4 359.0 356.0 360.0 356.7 361.0 357.3 362.0 357.9 363.1 358.6 364.1 359.2 365.1 359.9 366.1 360.5 367.1 361.2 368.1 361.9 369.1 362.6 370.1 363.2 371.1 363.9 372.1 364.6 373.1 365.3 374.1 366.1 375.0 366.8 376.0 367.5 377.0 368.3 377.9 369.0 378.8 369.8 379.8 370.6 380.7 371.4 381.6 372.2 382.5 373.0 383.4 373.8 384.3 374.6 385.2 375.4 386.1 376.3 386.9 377.1 387.8 378.0 388.6 378.8 389.5 379.7 390.3 380.6 391.1 381.5 391.9 382.4 392.7 383.3 393.5 384.2 394.3 385.2 395.1 386.1 395.8 387.1 396.5 388.0 397.3 389.0 397.9 390.0 398.6 391.0 399.3 392.1 399.9 393.1 400.5 394.2 401.1 395.2 401.6 396.3 402.1 397.4 402.6 398.5 403.1 399.7 403.6 400.8 404.0 401.9 404.4 403.1 404.8 404.2 405.1 405.4 405.5 406.5 405.8 407.7 406.1 408.9 406.4 410.0 406.7 411.2 407.0 412.4 407.3 413.6 407.5 414.7 407.8 415.9 408.0 417.1 408.2 418.3 408.5 419.5 408.7 420.7 408.9 421.9 409.1 423.1 409.2 424.3 409.4 425.4 409.6 426.6 409.7 427.8 409.9 429.0 410.0 430.2 410.1 431.4 410.2 432.6 410.4 433.8 410.5 435.0 410.6 436.2 410.7 437.4 410.8 438.6 410.9 439.9 410.9 441.1 411.0 442.3 411.1 443.5 411.2 444.7 411.2 445.9 411.3 447.1 411.4 448.3 411.4 449.5 411.5 450.7 411.5 451.9 411.6 453.1 411.6 454.3 411.7 455.5 411.7" fill="none" stroke="#2E75B6" stroke-width="1.5" stroke-linejoin="round"/><path d="M507.9 408.4 508.8 407.6 509.6 406.7 510.3 405.8 511.0 404.8 511.7 403.8 512.2 402.7 512.8 401.6 513.3 400.5 513.7 399.4 514.1 398.3 514.5 397.1 514.9 396.0 515.3 394.8 515.6 393.7 515.9 392.5 516.3 391.3 516.6 390.2 516.9 389.0 517.3 387.9 517.6 386.7 518.0 385.5 518.3 384.4 518.7 383.2 519.0 382.1 519.4 380.9 519.8 379.8 520.2 378.6 520.5 377.5 520.9 376.3 521.3 375.2 521.7 374.1 522.0 372.9 522.4 371.8 522.8 370.6 523.1 369.5 523.5 368.3 523.8 367.1 524.2 366.0 524.5 364.8 524.8 363.7 525.1 362.5 525.4 361.3 525.8 360.2 526.1 359.0 526.4 357.8 526.7 356.7 526.9 355.5 527.2 354.3 527.5 353.1 527.8 352.0 528.0 350.8 528.3 349.6 528.6 348.4 528.8 347.2 529.1 346.1 529.4 344.9 529.6 343.7 529.9 342.5 530.1 341.3 530.4 340.2 530.6 339.0 530.8 337.8 531.1 336.6 531.3 335.4 531.6 334.3 531.8 333.1 532.1 331.9 532.3 330.7 532.6 329.5 532.8 328.3 533.1 327.2 533.3 326.0 533.6 324.8 533.8 323.6 534.1 322.4 534.3 321.3 534.6 320.1 534.9 318.9 535.1 317.7 535.4 316.6 535.7 315.4 535.9 314.2 536.2 313.0 536.5 311.9 536.8 310.7 537.1 309.5 537.4 308.4 537.7 307.2 538.0 306.0 538.3 304.9 538.7 303.7 539.0 302.5 539.3 301.4 539.7 300.2 540.0 299.1 540.4 297.9 540.7 296.8 541.1 295.6 541.5 294.5 541.9 293.3 542.3 292.2 542.7 291.0 543.1 289.9 543.5 288.8 543.9 287.6 544.3 286.5 544.8 285.4 545.2 284.3 545.7 283.1 546.1 282.0 546.6 280.9 547.1 279.8 547.6 278.7 548.2 277.7 548.8 276.6 549.5 275.6 550.2 274.7 551.1 273.8 552.1 273.1 553.1 272.5 554.2 272.1 555.4 271.9 556.6 271.9 557.8 272.3 558.8 273.0 559.6 273.8 560.4 274.8 561.1 275.8 561.8 276.8 562.4 277.8 563.0 278.8 563.6 279.8 564.2 280.9 564.8 282.0 565.4 283.0 565.9 284.1 566.4 285.2 566.9 286.3 567.4 287.4 567.9 288.5 568.3 289.6 568.8 290.8 569.2 291.9 569.7 293.0 570.1 294.1 570.5 295.3 570.9 296.4 571.4 297.5 571.8 298.7 572.2 299.8 572.6 300.9 573.0 302.1 573.4 303.2 573.8 304.3 574.2 305.5 574.6 306.6 575.0 307.8 575.4 308.9 575.8 310.0 576.2 311.2 576.6 312.3 577.0 313.5 577.4 314.6 577.7 315.8 578.1 316.9 578.5 318.0 578.9 319.2 579.3 320.3 579.7 321.5 580.1 322.6 580.5 323.7 580.9 324.9 581.3 326.0 581.7 327.2 582.1 328.3 582.5 329.4 582.9 330.6 583.3 331.7 583.7 332.8 584.1 334.0 584.5 335.1 585.0 336.2 585.4 337.4 585.8 338.5 586.2 339.6 586.7 340.8 587.1 341.9 587.6 343.0 588.0 344.1 588.5 345.2 588.9 346.4 589.4 347.5 589.9 348.6 590.3 349.7 590.8 350.8 591.3 351.9 591.8 353.0 592.3 354.1 592.8 355.2 593.3 356.3 593.8 357.4 594.3 358.5 594.9 359.6 595.4 360.7 595.9 361.7 596.5 362.8 597.1 363.9 597.6 364.9 598.2 366.0 598.8 367.1 599.4 368.1 600.0 369.2 600.6 370.2 601.2 371.2 601.8 372.3 602.5 373.3 603.1 374.3 603.8 375.3 604.4 376.3 605.1 377.3 605.8 378.3 606.5 379.3 607.2 380.3 607.9 381.3 608.6 382.2 609.4 383.2 610.1 384.1 610.9 385.1 611.6 386.0 612.4 386.9 613.2 387.8 614.0 388.7 614.9 389.6 615.7 390.5 616.6 391.3 617.4 392.1 618.3 393.0 619.2 393.8 620.2 394.5 621.1 395.3 622.0 396.0 623.0 396.8 624.0 397.5 625.0 398.2 626.0 398.8 627.0 399.5 628.0 400.1 629.1 400.7 630.1 401.3 631.2 401.9 632.3 402.4 633.3 403.0 634.4 403.5 635.5 404.0 636.6 404.5 637.8 404.9 638.9 405.3 640.0 405.8 641.2 406.1 642.3 406.5 643.5 406.9 644.6 407.2 645.8 407.5 647.0 407.8 648.1 408.1 649.3 408.4 650.5 408.6 651.7 408.9 652.9 409.1 654.0 409.3 655.2 409.5 656.4 409.7 657.6 409.9 658.8 410.0 660.0 410.2 661.2 410.3 662.4 410.4 663.6 410.6 664.8 410.7 666.0 410.8 667.2 410.9 668.4 411.0 669.6 411.1 670.8 411.2 672.0 411.2 673.2 411.3 674.4 411.4 675.7 411.5 676.9 411.5 678.1 411.6 679.3 411.7 680.5 411.7 681.7 411.8" fill="none" stroke="#2DB85A" stroke-width="1.5" stroke-dasharray="3.5 3" stroke-linejoin="round"/><path d="M500.4 397.6 500.4 398.8 500.4 400.0 500.5 401.2 500.7 402.4 501.1 403.5 501.9 404.3 503.1 404.2 504.2 403.6 505.1 402.8 505.9 402.0 506.7 401.0 507.4 400.0 508.0 399.0 508.5 397.9 509.0 396.8 509.5 395.7 509.9 394.6 510.3 393.4 510.6 392.3 511.0 391.2 511.4 390.0 511.7 388.8 512.0 387.7 512.4 386.5 512.7 385.4 513.0 384.2 513.4 383.1 513.7 381.9 514.0 380.7 514.3 379.6 514.7 378.4 515.0 377.3 515.3 376.1 515.6 375.0 516.0 373.8 516.3 372.6 516.7 371.5 517.0 370.3 517.4 369.2 517.8 368.0 518.1 366.9 518.5 365.8 518.9 364.6 519.3 363.5 519.7 362.3 520.0 361.2 520.4 360.0 520.8 358.9 521.2 357.8 521.6 356.6 522.0 355.5 522.3 354.3 522.7 353.2 523.0 352.0 523.4 350.9 523.7 349.7 524.1 348.6 524.4 347.4 524.7 346.2 525.0 345.1 525.3 343.9 525.6 342.7 525.8 341.6 526.1 340.4 526.4 339.2 526.6 338.0 526.9 336.9 527.2 335.7 527.4 334.5 527.7 333.3 527.9 332.2 528.2 331.0 528.4 329.8 528.7 328.6 529.0 327.5 529.2 326.3 529.5 325.1 529.8 323.9 530.1 322.8 530.4 321.6 530.6 320.4 530.9 319.3 531.2 318.1 531.5 316.9 531.8 315.8 532.1 314.6 532.4 313.4 532.7 312.3 533.0 311.1 533.4 309.9 533.7 308.8 534.0 307.6 534.3 306.5 534.6 305.3 534.9 304.1 535.2 303.0 535.5 301.8 535.8 300.6 536.1 299.5 536.4 298.3 536.7 297.1 537.1 296.0 537.4 294.8 537.7 293.7 538.1 292.5 538.5 291.4 538.8 290.2 539.2 289.1 539.7 288.0 540.1 286.8 540.5 285.7 541.0 284.6 541.5 283.5 542.0 282.4 542.5 281.3 543.1 280.3 543.7 279.2 544.3 278.2 545.0 277.2 545.7 276.2 546.5 275.3 547.3 274.4 548.2 273.6 549.1 272.8 550.1 272.1 551.1 271.5 552.2 271.1 553.4 270.8 554.6 270.7 555.8 270.9 556.9 271.2 558.0 271.7 559.0 272.4 559.9 273.2 560.7 274.1 561.4 275.1 562.0 276.1 562.5 277.2 563.0 278.3 563.5 279.4 564.0 280.5 564.4 281.6 564.9 282.8 565.3 283.9 565.8 285.0 566.2 286.1 566.7 287.2 567.1 288.4 567.5 289.5 568.0 290.6 568.4 291.7 568.8 292.9 569.2 294.0 569.7 295.1 570.1 296.2 570.5 297.4 570.9 298.5 571.3 299.6 571.7 300.8 572.1 301.9 572.5 303.0 573.0 304.2 573.4 305.3 573.8 306.4 574.2 307.6 574.6 308.7 575.0 309.8 575.4 311.0 575.8 312.1 576.2 313.2 576.6 314.4 577.0 315.5 577.4 316.6 577.8 317.8 578.2 318.9 578.6 320.0 579.0 321.2 579.4 322.3 579.8 323.4 580.2 324.6 580.7 325.7 581.1 326.8 581.5 328.0 581.9 329.1 582.3 330.2 582.7 331.4 583.1 332.5 583.6 333.6 584.0 334.7 584.4 335.9 584.8 337.0 585.3 338.1 585.7 339.2 586.1 340.4 586.6 341.5 587.0 342.6 587.4 343.7 587.9 344.8 588.3 346.0 588.8 347.1 589.3 348.2 589.7 349.3 590.2 350.4 590.7 351.5 591.2 352.6 591.6 353.7 592.1 354.8 592.6 355.9 593.2 357.0 593.7 358.1 594.2 359.2 594.7 360.3 595.2 361.3 595.8 362.4 596.3 363.5 596.9 364.5 597.5 365.6 598.0 366.7 598.6 367.7 599.2 368.8 599.8 369.8 600.4 370.8 601.0 371.9 601.7 372.9 602.3 373.9 603.0 374.9 603.6 375.9 604.3 376.9 605.0 377.9 605.7 378.9 606.4 379.9 607.1 380.9 607.8 381.8 608.5 382.8 609.3 383.7 610.0 384.7 610.8 385.6 611.6 386.5 612.4 387.4 613.2 388.3 614.0 389.2 614.9 390.0 615.7 390.9 616.6 391.7 617.5 392.5 618.4 393.3 619.3 394.1 620.2 394.9 621.2 395.6 622.1 396.4 623.1 397.1 624.1 397.8 625.0 398.5 626.0 399.2 627.1 399.8 628.1 400.4 629.1 401.0 630.2 401.6 631.2 402.2 632.3 402.8 633.4 403.3 634.5 403.8 635.6 404.3 636.7 404.8 637.8 405.2 638.9 405.7 640.1 406.1 641.2 406.5 642.3 406.8 643.5 407.2 644.6 407.5 645.8 407.8 647.0 408.1 648.2 408.4 649.3 408.6 650.5 408.9 651.7 409.1 652.9 409.3 654.1 409.5 655.2 409.7 656.4 409.9 657.6 410.1 658.8 410.2 660.0 410.4 661.2 410.5 662.4 410.6 663.6 410.7 664.8 410.8 666.0 410.9 667.2 411.0 668.4 411.1 669.6 411.2 670.8 411.3 672.0 411.3 673.2 411.4 674.4 411.5 675.6 411.5 676.8 411.6 678.0 411.6 679.2 411.7 680.4 411.7 681.6 411.8" fill="none" stroke="#FFC000" stroke-width="1.5" stroke-linejoin="round"/><path d="M500.5 404.1 500.4 405.3 500.6 406.5 501.0 407.6 501.4 408.8 502.0 409.8 502.9 410.5 504.1 410.2 505.0 409.4 505.7 408.4 506.3 407.4 506.9 406.3 507.4 405.2 507.8 404.1 508.2 403.0 508.6 401.8 508.9 400.7 509.1 399.5 509.4 398.3 509.6 397.1 509.8 395.9 510.1 394.8 510.3 393.6 510.5 392.4 510.7 391.2 510.9 390.0 511.2 388.8 511.4 387.7 511.6 386.5 511.8 385.3 512.1 384.1 512.3 382.9 512.5 381.8 512.8 380.6 513.0 379.4 513.2 378.2 513.5 377.0 513.7 375.9 514.0 374.7 514.2 373.5 514.5 372.3 514.7 371.1 515.0 370.0 515.2 368.8 515.5 367.6 515.7 366.4 516.0 365.3 516.2 364.1 516.5 362.9 516.8 361.7 517.0 360.6 517.3 359.4 517.5 358.2 517.8 357.0 518.0 355.8 518.3 354.7 518.5 353.5 518.8 352.3 519.0 351.1 519.3 349.9 519.5 348.8 519.7 347.6 519.9 346.4 520.2 345.2 520.4 344.0 520.6 342.9 520.8 341.7 521.1 340.5 521.3 339.3 521.5 338.1 521.7 336.9 521.9 335.8 522.1 334.6 522.4 333.4 522.6 332.2 522.8 331.0 523.0 329.8 523.2 328.6 523.5 327.5 523.7 326.3 523.9 325.1 524.1 323.9 524.4 322.7 524.6 321.6 524.9 320.4 525.1 319.2 525.3 318.0 525.6 316.8 525.8 315.7 526.1 314.5 526.3 313.3 526.6 312.1 526.9 311.0 527.1 309.8 527.4 308.6 527.7 307.4 527.9 306.3 528.2 305.1 528.5 303.9 528.8 302.8 529.1 301.6 529.4 300.4 529.6 299.2 529.9 298.1 530.2 296.9 530.5 295.7 530.8 294.6 531.1 293.4 531.4 292.3 531.8 291.1 532.1 289.9 532.4 288.8 532.7 287.6 533.0 286.4 533.4 285.3 533.7 284.1 534.0 283.0 534.3 281.8 534.7 280.7 535.0 279.5 535.4 278.3 535.7 277.2 536.1 276.1 536.6 275.0 537.2 273.9 537.8 272.9 538.6 272.0 539.6 271.3 540.5 271.9 541.6 271.6 542.6 271.0 543.8 270.7 545.0 270.5 546.2 270.6 547.3 270.9 548.4 271.4 549.4 272.1 550.2 273.0 550.9 273.9 551.5 275.0 552.1 276.1 552.6 277.1 553.2 278.2 553.7 279.3 554.2 280.4 554.8 281.4 555.3 282.5 555.8 283.6 556.4 284.7 556.9 285.8 557.4 286.9 557.9 288.0 558.4 289.0 558.9 290.1 559.4 291.2 559.9 292.3 560.4 293.4 560.8 294.6 561.3 295.7 561.8 296.8 562.2 297.9 562.7 299.0 563.1 300.1 563.6 301.2 564.0 302.3 564.5 303.5 564.9 304.6 565.3 305.7 565.8 306.8 566.2 308.0 566.6 309.1 567.0 310.2 567.4 311.4 567.8 312.5 568.2 313.6 568.6 314.8 569.0 315.9 569.4 317.0 569.8 318.2 570.2 319.3 570.6 320.4 571.0 321.6 571.4 322.7 571.8 323.9 572.2 325.0 572.6 326.1 573.0 327.3 573.3 328.4 573.7 329.6 574.1 330.7 574.5 331.8 574.9 333.0 575.3 334.1 575.7 335.3 576.1 336.4 576.5 337.5 576.9 338.7 577.2 339.8 577.6 340.9 578.0 342.1 578.5 343.2 578.9 344.3 579.3 345.5 579.7 346.6 580.1 347.7 580.5 348.9 580.9 350.0 581.4 351.1 581.8 352.2 582.2 353.4 582.7 354.5 583.1 355.6 583.6 356.7 584.0 357.8 584.5 358.9 585.0 360.0 585.5 361.1 586.0 362.2 586.5 363.3 587.0 364.4 587.5 365.5 588.0 366.6 588.6 367.7 589.1 368.8 589.7 369.8 590.2 370.9 590.8 371.9 591.4 373.0 592.0 374.0 592.6 375.1 593.2 376.1 593.8 377.1 594.5 378.2 595.1 379.2 595.8 380.2 596.5 381.2 597.2 382.1 597.9 383.1 598.6 384.1 599.3 385.0 600.1 386.0 600.8 386.9 601.6 387.9 602.4 388.8 603.2 389.7 604.0 390.6 604.8 391.4 605.7 392.3 606.5 393.1 607.4 393.9 608.3 394.8 609.2 395.5 610.1 396.3 611.1 397.1 612.0 397.8 613.0 398.5 614.0 399.2 615.0 399.8 616.0 400.5 617.1 401.1 618.1 401.7 619.2 402.2 620.3 402.7 621.4 403.3 622.5 403.8 623.6 404.2 624.7 404.7 625.8 405.1 626.9 405.5 628.1 405.9 629.2 406.3 630.4 406.6 631.5 407.0 632.7 407.3 633.9 407.6 635.0 407.9 636.2 408.2 637.4 408.4 638.6 408.7 639.7 408.9 640.9 409.1 642.1 409.3 643.3 409.5 644.5 409.7 645.7 409.9 646.9 410.1 648.1 410.2 649.3 410.4 650.4 410.5 651.6 410.7 652.8 410.8 654.0 410.9 655.2 411.0 656.4 411.1 657.6 411.2 658.8 411.3 660.0 411.3 661.2 411.4 662.4 411.5 663.6 411.5 664.9 411.6 666.1 411.7 667.3 411.7 668.5 411.8 669.7 411.8 670.9 411.9 672.1 411.9 673.3 411.9 674.5 412.0 675.7 412.0 676.9 412.1 678.1 412.1 679.3 412.1 680.5 412.2 681.7 412.2" fill="none" stroke="#203D72" stroke-width="1.5" stroke-linejoin="round"/><path d="M500.3 377.9 500.2 379.1 500.2 380.3 500.2 381.5 500.2 382.7 500.2 383.9 500.2 385.1 500.2 386.4 500.2 387.6 500.2 388.8 500.3 390.0 500.3 391.2 500.3 392.4 500.3 393.6 500.3 394.8 500.4 396.0 500.4 397.2 500.4 398.4 500.4 399.6 500.4 400.8 500.4 402.0 500.4 403.2 500.4 404.4 500.4 405.6 500.5 406.8 500.6 408.0 501.0 409.2 501.6 410.2 502.6 410.9 503.8 411.0 505.0 410.7 506.1 410.2 507.1 409.6 508.0 408.8 508.9 408.0 509.7 407.1 510.4 406.1 511.1 405.1 511.7 404.1 512.3 403.0 512.8 401.9 513.3 400.8 513.8 399.7 514.3 398.6 514.8 397.5 515.3 396.4 515.8 395.3 516.3 394.2 516.7 393.1 517.2 392.0 517.7 390.9 518.1 389.8 518.6 388.7 519.1 387.6 519.5 386.4 519.9 385.3 520.4 384.2 520.8 383.1 521.2 382.0 521.7 380.8 522.1 379.7 522.5 378.6 522.9 377.4 523.3 376.3 523.7 375.2 524.1 374.0 524.5 372.9 524.9 371.7 525.3 370.6 525.7 369.5 526.1 368.3 526.4 367.2 526.8 366.0 527.2 364.9 527.5 363.7 527.9 362.6 528.3 361.4 528.6 360.3 529.0 359.1 529.3 358.0 529.7 356.8 530.0 355.7 530.3 354.5 530.7 353.3 531.0 352.2 531.3 351.0 531.7 349.9 532.0 348.7 532.3 347.5 532.6 346.4 533.0 345.2 533.3 344.1 533.6 342.9 533.9 341.7 534.2 340.6 534.5 339.4 534.8 338.2 535.2 337.1 535.5 335.9 535.8 334.7 536.1 333.6 536.4 332.4 536.7 331.2 537.0 330.1 537.3 328.9 537.6 327.8 537.9 326.6 538.2 325.4 538.5 324.3 538.9 323.1 539.2 321.9 539.5 320.8 539.8 319.6 540.1 318.4 540.4 317.3 540.7 316.1 541.0 314.9 541.4 313.8 541.7 312.6 542.0 311.5 542.3 310.3 542.6 309.1 543.0 308.0 543.3 306.8 543.6 305.7 544.0 304.5 544.3 303.3 544.7 302.2 545.0 301.0 545.4 299.9 545.7 298.7 546.1 297.6 546.5 296.4 546.9 295.3 547.2 294.2 547.6 293.0 548.0 291.9 548.5 290.8 548.9 289.6 549.3 288.5 549.8 287.4 550.2 286.3 550.7 285.1 551.2 284.0 551.6 282.9 552.1 281.8 552.7 280.8 553.2 279.7 553.7 278.6 554.3 277.5 554.9 276.5 555.6 275.5 556.3 274.5 557.1 273.6 557.9 272.7 558.8 271.9 559.8 271.3 561.0 270.9 562.2 270.9 563.3 271.4 564.3 272.0 565.2 272.8 566.1 273.7 566.9 274.5 567.7 275.4 568.5 276.3 569.2 277.3 570.0 278.3 570.7 279.2 571.3 280.2 572.0 281.3 572.6 282.3 573.2 283.4 573.7 284.4 574.3 285.5 574.8 286.6 575.3 287.7 575.8 288.8 576.3 289.9 576.8 291.0 577.2 292.1 577.7 293.2 578.2 294.3 578.6 295.4 579.1 296.5 579.5 297.7 580.0 298.8 580.4 299.9 580.9 301.0 581.3 302.1 581.8 303.3 582.2 304.4 582.7 305.5 583.1 306.6 583.6 307.7 584.0 308.9 584.4 310.0 584.9 311.1 585.3 312.2 585.7 313.4 586.2 314.5 586.6 315.6 587.0 316.7 587.5 317.9 587.9 319.0 588.3 320.1 588.7 321.2 589.1 322.4 589.6 323.5 590.0 324.6 590.4 325.8 590.8 326.9 591.2 328.0 591.7 329.2 592.1 330.3 592.5 331.4 592.9 332.5 593.4 333.7 593.8 334.8 594.2 335.9 594.6 337.0 595.1 338.2 595.5 339.3 596.0 340.4 596.4 341.5 596.8 342.7 597.3 343.8 597.7 344.9 598.2 346.0 598.7 347.1 599.1 348.2 599.6 349.3 600.1 350.5 600.6 351.6 601.0 352.7 601.5 353.8 602.0 354.9 602.5 356.0 603.0 357.0 603.6 358.1 604.1 359.2 604.6 360.3 605.2 361.4 605.7 362.5 606.3 363.5 606.8 364.6 607.4 365.7 608.0 366.7 608.5 367.8 609.1 368.8 609.7 369.9 610.3 370.9 611.0 371.9 611.6 373.0 612.2 374.0 612.9 375.0 613.5 376.0 614.2 377.0 614.9 378.0 615.6 379.0 616.3 380.0 617.0 381.0 617.7 381.9 618.4 382.9 619.2 383.8 619.9 384.8 620.7 385.7 621.5 386.6 622.3 387.5 623.1 388.4 623.9 389.3 624.7 390.2 625.6 391.0 626.4 391.9 627.3 392.7 628.2 393.5 629.1 394.3 630.0 395.1 630.9 395.9 631.8 396.7 632.8 397.4 633.7 398.2 634.7 398.9 635.7 399.6 636.7 400.2 637.7 400.9 638.7 401.5 639.8 402.2 640.8 402.8 641.9 403.3 642.9 403.9 644.0 404.4 645.1 404.9 646.2 405.4 647.3 405.9 648.4 406.4 649.6 406.8 650.7 407.2 651.8 407.6 653.0 407.9 654.2 408.2 655.3 408.5 656.5 408.8 657.7 409.0 658.9 409.2 660.1 409.4 661.3 409.6 662.5 409.7 663.7 409.8 664.9 409.9 666.1 410.0 667.3 410.1 668.5 410.2 669.7 410.3 670.9 410.3 672.1 410.4 673.3 410.5 674.5 410.6 675.7 410.7 676.9 410.8 678.1 411.0 679.3 411.1 680.5 411.3 681.6 411.5" fill="none" stroke="#FF0000" stroke-width="1.5" stroke-linejoin="round"/><rect x="154.9" y="269.0" width="69.2" height="89.0" fill="#fff" stroke="#CC3333" stroke-width="1.3"/><line x1="158.0" y1="280.6" x2="166.7" y2="280.6" stroke="#4472C4" stroke-width="1.6"/><text x="166.7" y="284.5" font-size="11.3" fill="#595959" font-family="Liberation Serif, serif">Benzene</text><line x1="158.0" y1="302.8" x2="166.7" y2="302.8" stroke="#7030A0" stroke-width="1.6"/><text x="166.7" y="306.7" font-size="11.3" fill="#595959" font-family="Liberation Serif, serif">Benzonitrile</text><line x1="158.0" y1="325.0" x2="166.7" y2="325.0" stroke="#5B9BD5" stroke-width="1.6"/><text x="166.7" y="328.9" font-size="11.3" fill="#595959" font-family="Liberation Serif, serif">Cl-Benzene</text><line x1="158.0" y1="347.3" x2="166.7" y2="347.3" stroke="#ED7D31" stroke-width="1.6"/><text x="166.7" y="351.2" font-size="11.3" fill="#595959" font-family="Liberation Serif, serif">ODCB</text><rect x="380.2" y="269.0" width="75.3" height="86.7" fill="#fff" stroke="#CC3333" stroke-width="1.3"/><line x1="382.0" y1="279.4" x2="392.6" y2="279.4" stroke="#2E75B6" stroke-width="1.6"/><text x="393.8" y="283.3" font-size="11.3" fill="#595959" font-family="Liberation Serif, serif">Benzyl-OH</text><line x1="382.0" y1="301.6" x2="392.6" y2="301.6" stroke="#FFC000" stroke-width="1.6"/><text x="393.8" y="305.5" font-size="11.3" fill="#595959" font-family="Liberation Serif, serif">Ethylbenzene</text><line x1="382.0" y1="323.2" x2="392.6" y2="323.2" stroke="#5B9A3C" stroke-width="1.6"/><text x="393.8" y="327.1" font-size="11.3" fill="#595959" font-family="Liberation Serif, serif">Toluene</text><line x1="382.0" y1="345.0" x2="392.6" y2="345.0" stroke="#B8860B" stroke-width="1.6" stroke-dasharray="2.2 1.4"/><text x="393.8" y="348.9" font-size="11.3" fill="#595959" font-family="Liberation Serif, serif">Benzyl-Cl</text><rect x="614.1" y="268.5" width="66.7" height="75.3" fill="#fff" stroke="#CC3333" stroke-width="1.3"/><line x1="617.1" y1="278.2" x2="628.2" y2="278.2" stroke="#2DB85A" stroke-width="1.6" stroke-dasharray="3.4 3.4"/><text x="628.2" y="282.1" font-size="11.3" fill="#595959" font-family="Liberation Serif, serif">Mesitylene</text><line x1="617.1" y1="297.4" x2="628.2" y2="297.4" stroke="#FFC000" stroke-width="1.6"/><text x="628.2" y="301.3" font-size="11.3" fill="#595959" font-family="Liberation Serif, serif">o-Xylene</text><line x1="617.1" y1="316.2" x2="628.2" y2="316.2" stroke="#203D72" stroke-width="1.6"/><text x="628.2" y="320.1" font-size="11.3" fill="#595959" font-family="Liberation Serif, serif">m-Xylene</text><line x1="617.1" y1="335.2" x2="628.2" y2="335.2" stroke="#FF0000" stroke-width="1.6"/><text x="628.2" y="339.1" font-size="11.3" fill="#595959" font-family="Liberation Serif, serif">p-Xylene</text></svg>
</body></html>
